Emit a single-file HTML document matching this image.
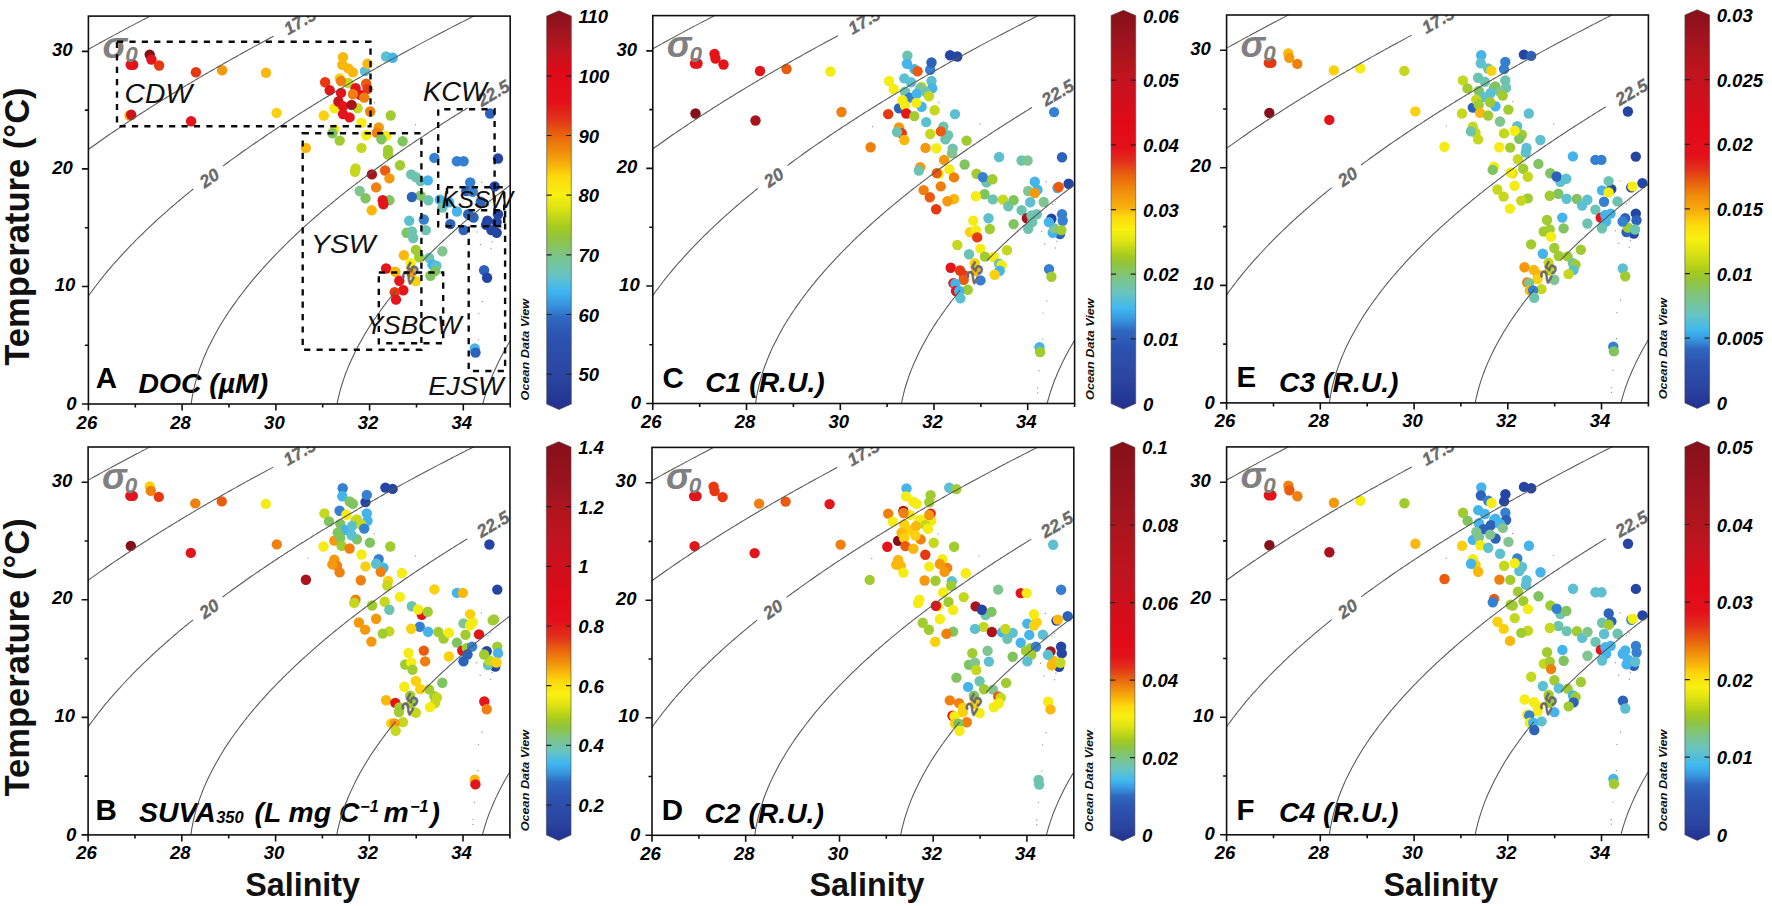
<!DOCTYPE html>
<html><head><meta charset="utf-8"><title>T-S diagrams</title>
<style>
html,body{margin:0;padding:0;background:#fff;}
svg{display:block;font-family:"Liberation Sans",sans-serif;}
.tk{font-weight:bold;font-style:italic;font-size:18.5px;fill:#000;}
.ax{stroke:#111;stroke-width:1.6;fill:none;}
.iso{stroke:#555;stroke-width:1.05;fill:none;}
.il{font-weight:bold;font-style:italic;font-size:17.5px;fill:#6a6a6a;stroke:#6a6a6a;stroke-width:0.35;}
.box{stroke:#0a0a0a;stroke-width:2.4;fill:none;stroke-dasharray:6.2 6.2;}
.wm{font-style:italic;font-size:27px;fill:#111;}
.ttl{font-weight:bold;font-style:italic;font-size:28.3px;fill:#000;}
.let{font-weight:bold;font-size:29.5px;fill:#000;}
.odv{font-weight:bold;font-style:italic;font-size:11.3px;fill:#111;}
.axl{font-weight:bold;fill:#111;}
</style></head><body>
<svg width="1772" height="906" viewBox="0 0 1772 906">
<defs>
<linearGradient id="cmA" x1="0" y1="1" x2="0" y2="0">
<stop offset="0" stop-color="#22308e"/>
<stop offset="0.077" stop-color="#2a44a0"/>
<stop offset="0.185" stop-color="#2c54b0"/>
<stop offset="0.23" stop-color="#2f68c0"/>
<stop offset="0.265" stop-color="#3898e0"/>
<stop offset="0.3" stop-color="#40b8f0"/>
<stop offset="0.338" stop-color="#68c4c0"/>
<stop offset="0.385" stop-color="#7cc488"/>
<stop offset="0.43" stop-color="#90c440"/>
<stop offset="0.4615" stop-color="#a8cc1c"/>
<stop offset="0.508" stop-color="#e0e412"/>
<stop offset="0.54" stop-color="#f8f010"/>
<stop offset="0.585" stop-color="#fdd80c"/>
<stop offset="0.615" stop-color="#f8b00c"/>
<stop offset="0.65" stop-color="#f08a0c"/>
<stop offset="0.692" stop-color="#e8600f"/>
<stop offset="0.73" stop-color="#e3301a"/>
<stop offset="0.77" stop-color="#e3101a"/>
<stop offset="0.846" stop-color="#e10a17"/>
<stop offset="0.9" stop-color="#c01420"/>
<stop offset="0.923" stop-color="#b0151c"/>
<stop offset="0.95" stop-color="#a01420"/>
<stop offset="1" stop-color="#861018"/>
</linearGradient>
<linearGradient id="cmC" x1="0" y1="1" x2="0" y2="0">
<stop offset="0" stop-color="#22308e"/>
<stop offset="0.07" stop-color="#2a44a0"/>
<stop offset="0.16" stop-color="#2c54b0"/>
<stop offset="0.196" stop-color="#2f68c0"/>
<stop offset="0.226" stop-color="#3898e0"/>
<stop offset="0.2526" stop-color="#40b8f0"/>
<stop offset="0.291" stop-color="#68c4c0"/>
<stop offset="0.327" stop-color="#7cc488"/>
<stop offset="0.363" stop-color="#90c440"/>
<stop offset="0.387" stop-color="#a8cc1c"/>
<stop offset="0.42" stop-color="#e0e412"/>
<stop offset="0.45" stop-color="#f8f010"/>
<stop offset="0.483" stop-color="#fdd80c"/>
<stop offset="0.506" stop-color="#f8b00c"/>
<stop offset="0.55" stop-color="#f08a0c"/>
<stop offset="0.589" stop-color="#e8600f"/>
<stop offset="0.62" stop-color="#e3301a"/>
<stop offset="0.653" stop-color="#e3101a"/>
<stop offset="0.718" stop-color="#e10a17"/>
<stop offset="0.835" stop-color="#c01420"/>
<stop offset="0.875" stop-color="#b0151c"/>
<stop offset="0.917" stop-color="#a01420"/>
<stop offset="1" stop-color="#861018"/>
</linearGradient>
<linearGradient id="cmE" x1="0" y1="1" x2="0" y2="0">
<stop offset="0" stop-color="#22308e"/>
<stop offset="0.051" stop-color="#2a44a0"/>
<stop offset="0.117" stop-color="#2c54b0"/>
<stop offset="0.15" stop-color="#2f68c0"/>
<stop offset="0.1735" stop-color="#3898e0"/>
<stop offset="0.1975" stop-color="#40b8f0"/>
<stop offset="0.236" stop-color="#68c4c0"/>
<stop offset="0.278" stop-color="#7cc488"/>
<stop offset="0.317" stop-color="#90c440"/>
<stop offset="0.344" stop-color="#a8cc1c"/>
<stop offset="0.395" stop-color="#e0e412"/>
<stop offset="0.4274" stop-color="#f8f010"/>
<stop offset="0.463" stop-color="#fdd80c"/>
<stop offset="0.493" stop-color="#f8b00c"/>
<stop offset="0.535" stop-color="#f08a0c"/>
<stop offset="0.5677" stop-color="#e8600f"/>
<stop offset="0.6" stop-color="#e3301a"/>
<stop offset="0.633" stop-color="#e3101a"/>
<stop offset="0.7115" stop-color="#e10a17"/>
<stop offset="0.84" stop-color="#c01420"/>
<stop offset="0.888" stop-color="#b0151c"/>
<stop offset="0.93" stop-color="#a01420"/>
<stop offset="1" stop-color="#861018"/>
</linearGradient>
<linearGradient id="cmB" x1="0" y1="1" x2="0" y2="0">
<stop offset="0" stop-color="#22308e"/>
<stop offset="0.045" stop-color="#2a44a0"/>
<stop offset="0.111" stop-color="#2c54b0"/>
<stop offset="0.147" stop-color="#2f68c0"/>
<stop offset="0.17" stop-color="#3898e0"/>
<stop offset="0.194" stop-color="#40b8f0"/>
<stop offset="0.224" stop-color="#68c4c0"/>
<stop offset="0.254" stop-color="#7cc488"/>
<stop offset="0.284" stop-color="#90c440"/>
<stop offset="0.305" stop-color="#a8cc1c"/>
<stop offset="0.341" stop-color="#e0e412"/>
<stop offset="0.365" stop-color="#f8f010"/>
<stop offset="0.4" stop-color="#fdd80c"/>
<stop offset="0.425" stop-color="#f8b00c"/>
<stop offset="0.451" stop-color="#f08a0c"/>
<stop offset="0.48" stop-color="#e8600f"/>
<stop offset="0.51" stop-color="#e3301a"/>
<stop offset="0.55" stop-color="#e3101a"/>
<stop offset="0.598" stop-color="#e10a17"/>
<stop offset="0.7595" stop-color="#c01420"/>
<stop offset="0.831" stop-color="#b0151c"/>
<stop offset="0.87" stop-color="#a01420"/>
<stop offset="1" stop-color="#861018"/>
</linearGradient>
<linearGradient id="cmD" x1="0" y1="1" x2="0" y2="0">
<stop offset="0" stop-color="#22308e"/>
<stop offset="0.034" stop-color="#2a44a0"/>
<stop offset="0.082" stop-color="#2c54b0"/>
<stop offset="0.112" stop-color="#2f68c0"/>
<stop offset="0.133" stop-color="#3898e0"/>
<stop offset="0.151" stop-color="#40b8f0"/>
<stop offset="0.18" stop-color="#68c4c0"/>
<stop offset="0.207" stop-color="#7cc488"/>
<stop offset="0.237" stop-color="#90c440"/>
<stop offset="0.255" stop-color="#a8cc1c"/>
<stop offset="0.288" stop-color="#e0e412"/>
<stop offset="0.312" stop-color="#f8f010"/>
<stop offset="0.339" stop-color="#fdd80c"/>
<stop offset="0.36" stop-color="#f8b00c"/>
<stop offset="0.384" stop-color="#f08a0c"/>
<stop offset="0.408" stop-color="#e8600f"/>
<stop offset="0.434" stop-color="#e3301a"/>
<stop offset="0.464" stop-color="#e3101a"/>
<stop offset="0.508" stop-color="#e10a17"/>
<stop offset="0.659" stop-color="#c01420"/>
<stop offset="0.76" stop-color="#b0151c"/>
<stop offset="0.832" stop-color="#a01420"/>
<stop offset="1" stop-color="#861018"/>
</linearGradient>
<linearGradient id="cmF" x1="0" y1="1" x2="0" y2="0">
<stop offset="0" stop-color="#22308e"/>
<stop offset="0.039" stop-color="#2a44a0"/>
<stop offset="0.104" stop-color="#2c54b0"/>
<stop offset="0.14" stop-color="#2f68c0"/>
<stop offset="0.164" stop-color="#3898e0"/>
<stop offset="0.188" stop-color="#40b8f0"/>
<stop offset="0.23" stop-color="#68c4c0"/>
<stop offset="0.263" stop-color="#7cc488"/>
<stop offset="0.296" stop-color="#90c440"/>
<stop offset="0.32" stop-color="#a8cc1c"/>
<stop offset="0.359" stop-color="#e0e412"/>
<stop offset="0.385" stop-color="#f8f010"/>
<stop offset="0.418" stop-color="#fdd80c"/>
<stop offset="0.445" stop-color="#f8b00c"/>
<stop offset="0.472" stop-color="#f08a0c"/>
<stop offset="0.502" stop-color="#e8600f"/>
<stop offset="0.538" stop-color="#e3301a"/>
<stop offset="0.574" stop-color="#e3101a"/>
<stop offset="0.6455" stop-color="#e10a17"/>
<stop offset="0.741" stop-color="#c01420"/>
<stop offset="0.8" stop-color="#b0151c"/>
<stop offset="0.879" stop-color="#a01420"/>
<stop offset="1" stop-color="#861018"/>
</linearGradient>
</defs>
<rect width="1772" height="906" fill="#fff"/>
<g id="panelA">
<clipPath id="clipA"><rect x="88.4" y="16.1" width="421.8" height="387.9"/></clipPath>
<text class="let" x="95.8" y="388.4">A</text>
<text class="ttl" x="138.6" y="392.8">DOC (µM)</text>
<g clip-path="url(#clipA)">
<circle cx="133.2" cy="64.7" r="5.2" fill="#e3141a"/>
<circle cx="130.7" cy="64.7" r="5.2" fill="#e3141a"/>
<circle cx="149.7" cy="54.6" r="5.2" fill="#861018"/>
<circle cx="151.5" cy="59.6" r="5.2" fill="#e3141a"/>
<circle cx="159.1" cy="65.5" r="5.2" fill="#e8380f"/>
<circle cx="195.9" cy="72.3" r="5.2" fill="#e8380f"/>
<circle cx="222.1" cy="70.3" r="5.2" fill="#f5980c"/>
<circle cx="266.0" cy="72.8" r="5.2" fill="#fbb80c"/>
<circle cx="276.6" cy="112.9" r="5.2" fill="#fbd00c"/>
<circle cx="129.4" cy="115.5" r="5.2" fill="#fbb80c"/>
<circle cx="131.2" cy="114.7" r="5.2" fill="#cc141c"/>
<circle cx="191.1" cy="121.3" r="5.2" fill="#e3141a"/>
<circle cx="364.9" cy="71.1" r="5.2" fill="#5cc0d0"/>
<circle cx="343.0" cy="57.2" r="5.2" fill="#fbb80c"/>
<circle cx="342.3" cy="64.7" r="5.2" fill="#fbb80c"/>
<circle cx="348.3" cy="68.4" r="5.2" fill="#fbb80c"/>
<circle cx="352.9" cy="72.4" r="5.2" fill="#fbb80c"/>
<circle cx="367.5" cy="63.8" r="5.2" fill="#fbb80c"/>
<circle cx="386.1" cy="56.5" r="5.2" fill="#5cc0d0"/>
<circle cx="392.7" cy="57.8" r="5.2" fill="#45b4ea"/>
<circle cx="339.7" cy="78.4" r="5.2" fill="#fbd00c"/>
<circle cx="348.3" cy="83.0" r="5.2" fill="#c5d81e"/>
<circle cx="325.1" cy="82.3" r="5.2" fill="#e8380f"/>
<circle cx="329.7" cy="90.3" r="5.2" fill="#e3141a"/>
<circle cx="341.0" cy="81.0" r="5.2" fill="#f0800e"/>
<circle cx="341.0" cy="92.9" r="5.2" fill="#e3141a"/>
<circle cx="355.6" cy="88.3" r="5.2" fill="#e3141a"/>
<circle cx="366.2" cy="83.7" r="5.2" fill="#ec5a10"/>
<circle cx="367.5" cy="89.0" r="5.2" fill="#e8380f"/>
<circle cx="360.2" cy="94.9" r="5.2" fill="#e3141a"/>
<circle cx="352.9" cy="94.3" r="5.2" fill="#f0800e"/>
<circle cx="364.2" cy="97.6" r="5.2" fill="#f0800e"/>
<circle cx="334.4" cy="108.2" r="5.2" fill="#f5ec14"/>
<circle cx="357.6" cy="108.2" r="5.2" fill="#c5d81e"/>
<circle cx="338.4" cy="101.5" r="5.2" fill="#cc141c"/>
<circle cx="343.0" cy="106.2" r="5.2" fill="#e3141a"/>
<circle cx="351.6" cy="104.9" r="5.2" fill="#a8131c"/>
<circle cx="343.0" cy="114.1" r="5.2" fill="#e3141a"/>
<circle cx="349.6" cy="117.4" r="5.2" fill="#e3141a"/>
<circle cx="323.8" cy="115.5" r="5.2" fill="#fbd00c"/>
<circle cx="370.2" cy="111.5" r="5.2" fill="#f0800e"/>
<circle cx="390.7" cy="115.5" r="5.2" fill="#a0cc30"/>
<circle cx="361.5" cy="122.7" r="5.2" fill="#f5ec14"/>
<circle cx="334.4" cy="129.4" r="5.2" fill="#f5ec14"/>
<circle cx="378.8" cy="127.4" r="5.2" fill="#f5980c"/>
<circle cx="376.8" cy="132.7" r="5.2" fill="#f0800e"/>
<circle cx="332.4" cy="133.3" r="5.2" fill="#80c460"/>
<circle cx="339.7" cy="140.6" r="5.2" fill="#a0cc30"/>
<circle cx="386.1" cy="136.0" r="5.2" fill="#f5ec14"/>
<circle cx="366.2" cy="135.3" r="5.2" fill="#f5ec14"/>
<circle cx="381.4" cy="139.3" r="5.2" fill="#80c460"/>
<circle cx="402.6" cy="141.3" r="5.2" fill="#80c460"/>
<circle cx="490.1" cy="113.5" r="5.2" fill="#2d62bb"/>
<circle cx="305.9" cy="147.9" r="5.2" fill="#fbb80c"/>
<circle cx="361.5" cy="147.9" r="5.2" fill="#c5d81e"/>
<circle cx="388.0" cy="149.9" r="5.2" fill="#a0cc30"/>
<circle cx="388.0" cy="154.6" r="5.2" fill="#a0cc30"/>
<circle cx="355.6" cy="168.5" r="5.2" fill="#c5d81e"/>
<circle cx="354.9" cy="171.8" r="5.2" fill="#c5d81e"/>
<circle cx="400.0" cy="165.2" r="5.2" fill="#a0cc30"/>
<circle cx="371.9" cy="174.4" r="5.2" fill="#a8131c"/>
<circle cx="385.1" cy="170.5" r="5.2" fill="#ec5a10"/>
<circle cx="389.4" cy="178.4" r="5.2" fill="#f5980c"/>
<circle cx="376.1" cy="187.4" r="5.2" fill="#f0800e"/>
<circle cx="359.6" cy="191.0" r="5.2" fill="#80c490"/>
<circle cx="365.5" cy="198.3" r="5.2" fill="#80c460"/>
<circle cx="389.4" cy="200.3" r="5.2" fill="#80c460"/>
<circle cx="382.7" cy="200.3" r="5.2" fill="#e3141a"/>
<circle cx="383.4" cy="204.3" r="5.2" fill="#e3141a"/>
<circle cx="371.7" cy="210.2" r="5.2" fill="#fbb80c"/>
<circle cx="411.2" cy="174.4" r="5.2" fill="#6cc3b0"/>
<circle cx="415.9" cy="177.1" r="5.2" fill="#6cc3b0"/>
<circle cx="420.5" cy="181.1" r="5.2" fill="#6cc3b0"/>
<circle cx="427.8" cy="180.4" r="5.2" fill="#45b4ea"/>
<circle cx="434.4" cy="157.9" r="5.2" fill="#3580d0"/>
<circle cx="456.9" cy="161.2" r="5.2" fill="#3580d0"/>
<circle cx="463.6" cy="161.2" r="5.2" fill="#3580d0"/>
<circle cx="498.0" cy="158.5" r="5.2" fill="#2545a5"/>
<circle cx="470.2" cy="182.4" r="5.2" fill="#3580d0"/>
<circle cx="494.7" cy="186.4" r="5.2" fill="#2545a5"/>
<circle cx="466.2" cy="191.0" r="5.2" fill="#2d62bb"/>
<circle cx="472.8" cy="191.7" r="5.2" fill="#3580d0"/>
<circle cx="420.5" cy="195.6" r="5.2" fill="#80c460"/>
<circle cx="411.9" cy="197.0" r="5.2" fill="#2d62bb"/>
<circle cx="428.4" cy="200.3" r="5.2" fill="#6cc3b0"/>
<circle cx="439.7" cy="199.6" r="5.2" fill="#45b4ea"/>
<circle cx="442.4" cy="207.6" r="5.2" fill="#6cc3b0"/>
<circle cx="449.0" cy="202.3" r="5.2" fill="#45b4ea"/>
<circle cx="456.9" cy="211.5" r="5.2" fill="#45b4ea"/>
<circle cx="480.8" cy="201.6" r="5.2" fill="#2d62bb"/>
<circle cx="468.2" cy="214.2" r="5.2" fill="#2d62bb"/>
<circle cx="473.5" cy="217.5" r="5.2" fill="#2d62bb"/>
<circle cx="450.3" cy="224.1" r="5.2" fill="#2d62bb"/>
<circle cx="463.6" cy="230.1" r="5.2" fill="#2d62bb"/>
<circle cx="423.8" cy="219.5" r="5.2" fill="#3580d0"/>
<circle cx="409.2" cy="220.8" r="5.2" fill="#5cc0d0"/>
<circle cx="425.8" cy="230.1" r="5.2" fill="#6cc3b0"/>
<circle cx="406.6" cy="232.7" r="5.2" fill="#80c460"/>
<circle cx="411.9" cy="231.4" r="5.2" fill="#6cc3b0"/>
<circle cx="413.2" cy="238.0" r="5.2" fill="#6cc3b0"/>
<circle cx="498.0" cy="214.2" r="5.2" fill="#2545a5"/>
<circle cx="487.4" cy="220.8" r="5.2" fill="#2545a5"/>
<circle cx="496.7" cy="222.1" r="5.2" fill="#2545a5"/>
<circle cx="486.1" cy="224.8" r="5.2" fill="#2545a5"/>
<circle cx="491.4" cy="230.1" r="5.2" fill="#2545a5"/>
<circle cx="496.7" cy="232.7" r="5.2" fill="#2545a5"/>
<circle cx="415.9" cy="249.9" r="5.2" fill="#a0cc30"/>
<circle cx="419.2" cy="257.2" r="5.2" fill="#a0cc30"/>
<circle cx="442.4" cy="251.3" r="5.2" fill="#80c490"/>
<circle cx="403.9" cy="255.2" r="5.2" fill="#fbb80c"/>
<circle cx="429.1" cy="257.9" r="5.2" fill="#6cc3b0"/>
<circle cx="410.6" cy="263.2" r="5.2" fill="#f5ec14"/>
<circle cx="432.4" cy="264.5" r="5.2" fill="#45b4ea"/>
<circle cx="436.4" cy="265.8" r="5.2" fill="#5cc0d0"/>
<circle cx="435.1" cy="271.1" r="5.2" fill="#80c460"/>
<circle cx="430.4" cy="275.8" r="5.2" fill="#80c460"/>
<circle cx="386.1" cy="268.5" r="5.2" fill="#e3141a"/>
<circle cx="395.3" cy="271.8" r="5.2" fill="#fbb80c"/>
<circle cx="411.2" cy="272.5" r="5.2" fill="#f5980c"/>
<circle cx="415.9" cy="281.1" r="5.2" fill="#fbd00c"/>
<circle cx="399.3" cy="280.8" r="5.2" fill="#e3141a"/>
<circle cx="403.3" cy="290.3" r="5.2" fill="#e3141a"/>
<circle cx="394.7" cy="292.3" r="5.2" fill="#e8380f"/>
<circle cx="396.0" cy="299.6" r="5.2" fill="#e3141a"/>
<circle cx="484.1" cy="270.2" r="5.2" fill="#2d62bb"/>
<circle cx="487.1" cy="277.8" r="5.2" fill="#2545a5"/>
<circle cx="474.8" cy="348.4" r="5.2" fill="#45b4ea"/>
<circle cx="475.5" cy="352.6" r="5.2" fill="#2d62bb"/>
<circle cx="308.1" cy="127.2" r="0.7" fill="#9a9a9a"/>
<circle cx="374.4" cy="102.7" r="0.7" fill="#9a9a9a"/>
<circle cx="415.5" cy="124.8" r="0.7" fill="#9a9a9a"/>
<circle cx="481.7" cy="182.2" r="0.7" fill="#9a9a9a"/>
<circle cx="491.0" cy="202.1" r="0.7" fill="#9a9a9a"/>
<circle cx="488.3" cy="204.8" r="0.7" fill="#9a9a9a"/>
<circle cx="477.1" cy="231.9" r="0.7" fill="#9a9a9a"/>
<circle cx="480.4" cy="244.5" r="0.7" fill="#9a9a9a"/>
<circle cx="492.3" cy="241.9" r="0.7" fill="#9a9a9a"/>
<circle cx="491.0" cy="248.5" r="0.7" fill="#9a9a9a"/>
<circle cx="482.4" cy="301.4" r="0.7" fill="#9a9a9a"/>
<circle cx="478.8" cy="313.6" r="0.7" fill="#9a9a9a"/>
<circle cx="478.4" cy="339.6" r="0.7" fill="#9a9a9a"/>
<circle cx="474.7" cy="371.3" r="0.7" fill="#9a9a9a"/>
<circle cx="473.2" cy="388.7" r="0.7" fill="#9a9a9a"/>
<circle cx="473.2" cy="393.5" r="0.7" fill="#9a9a9a"/>
</g>
<g clip-path="url(#clipA)">
<path class="iso" d="M83.7 51.9 L85.1 51.1 L86.5 50.3 L87.9 49.5 L89.3 48.7 L90.7 48.0 L92.1 47.2 L93.6 46.4 L95.0 45.6 L96.4 44.8 L97.8 44.1 L99.2 43.3 L100.6 42.5 L102.0 41.7 L103.4 41.0 L104.8 40.2 L106.2 39.4 L107.6 38.7 L109.0 37.9 L110.4 37.2 L111.8 36.4 L113.2 35.6 L114.6 34.9 L116.1 34.1 L117.5 33.4 L118.9 32.6 L120.3 31.8 L121.7 31.1 L123.1 30.3 L124.5 29.6 L125.9 28.8 L127.3 28.1 L128.7 27.3 L130.1 26.6 L131.5 25.9 L132.9 25.1 L134.3 24.4 L135.7 23.6 L137.1 22.9 L138.5 22.2 L140.0 21.4 L141.4 20.7 L142.8 19.9 L144.2 19.2 L145.6 18.5 L147.0 17.7 L148.4 17.0 L149.8 16.3 L151.2 15.6 L152.6 14.8 L154.0 14.1 L155.4 13.4 L156.8 12.7 L158.2 11.9 L159.6 11.2 L161.0 10.5 L162.4 9.8 L163.9 9.1 L165.3 8.3 L166.7 7.6 L168.1 6.9 L169.5 6.2 L170.9 5.5 L172.3 4.8 L173.7 4.1 L175.1 3.3 L176.5 2.6 L177.9 1.9 L179.3 1.2 L180.7 0.5 L182.1 -0.2 L183.5 -0.9"/>
<path class="iso" d="M83.7 152.7 L85.1 151.7 L86.5 150.7 L87.9 149.7 L89.3 148.7 L90.7 147.7 L92.1 146.7 L93.6 145.7 L95.0 144.7 L96.4 143.7 L97.8 142.7 L99.2 141.7 L100.6 140.7 L102.0 139.7 L103.4 138.7 L104.8 137.8 L106.2 136.8 L107.6 135.8 L109.0 134.8 L110.4 133.9 L111.8 132.9 L113.2 132.0 L114.6 131.0 L116.1 130.0 L117.5 129.1 L118.9 128.1 L120.3 127.2 L121.7 126.3 L123.1 125.3 L124.5 124.4 L125.9 123.4 L127.3 122.5 L128.7 121.6 L130.1 120.6 L131.5 119.7 L132.9 118.8 L134.3 117.9 L135.7 117.0 L137.1 116.0 L138.5 115.1 L140.0 114.2 L141.4 113.3 L142.8 112.4 L144.2 111.5 L145.6 110.6 L147.0 109.7 L148.4 108.8 L149.8 107.9 L151.2 107.0 L152.6 106.1 L154.0 105.2 L155.4 104.4 L156.8 103.5 L158.2 102.6 L159.6 101.7 L161.0 100.8 L162.4 100.0 L163.9 99.1 L165.3 98.2 L166.7 97.3 L168.1 96.5 L169.5 95.6 L170.9 94.8 L172.3 93.9 L173.7 93.0 L175.1 92.2 L176.5 91.3 L177.9 90.5 L179.3 89.6 L180.7 88.8 L182.1 87.9 L183.5 87.1 L184.9 86.2 L186.4 85.4 L187.8 84.5 L189.2 83.7 L190.6 82.9 L192.0 82.0 L193.4 81.2 L194.8 80.4 L196.2 79.5 L197.6 78.7 L199.0 77.9 L200.4 77.1 L201.8 76.2 L203.2 75.4 L204.6 74.6 L206.0 73.8 L207.4 73.0 L208.8 72.1 L210.3 71.3 L211.7 70.5 L213.1 69.7 L214.5 68.9 L215.9 68.1 L217.3 67.3 L218.7 66.5 L220.1 65.7 L221.5 64.9 L222.9 64.1 L224.3 63.3 L225.7 62.5 L227.1 61.7 L228.5 60.9 L229.9 60.1 L231.3 59.3 L232.7 58.5 L234.2 57.7 L235.6 57.0 L237.0 56.2 L238.4 55.4 L239.8 54.6 L241.2 53.8 L242.6 53.0 L244.0 52.3 L245.4 51.5 L246.8 50.7 L248.2 49.9 L249.6 49.2 L251.0 48.4 L252.4 47.6 L253.8 46.9 L255.2 46.1 L256.7 45.3 L258.1 44.6 L259.5 43.8 L260.9 43.0 L262.3 42.3 L263.7 41.5 L265.1 40.8 L266.5 40.0 L267.9 39.2 L269.3 38.5 L270.7 37.7 L272.1 37.0 L273.5 36.2"/>
<path class="iso" d="M83.7 302.8 L85.1 300.7 L86.5 298.7 L87.9 296.7 L89.3 294.7 L90.7 292.7 L92.1 290.8 L93.6 288.9 L95.0 287.0 L96.4 285.2 L97.8 283.3 L99.2 281.5 L100.6 279.7 L102.0 278.0 L103.4 276.2 L104.8 274.5 L106.2 272.8 L107.6 271.1 L109.0 269.4 L110.4 267.8 L111.8 266.2 L113.2 264.5 L114.6 262.9 L116.1 261.3 L117.5 259.8 L118.9 258.2 L120.3 256.7 L121.7 255.1 L123.1 253.6 L124.5 252.1 L125.9 250.6 L127.3 249.1 L128.7 247.6 L130.1 246.2 L131.5 244.7 L132.9 243.3 L134.3 241.8 L135.7 240.4 L137.1 239.0 L138.5 237.6 L140.0 236.2 L141.4 234.8 L142.8 233.5 L144.2 232.1 L145.6 230.7 L147.0 229.4 L148.4 228.1 L149.8 226.7 L151.2 225.4 L152.6 224.1 L154.0 222.8 L155.4 221.5 L156.8 220.2 L158.2 218.9 L159.6 217.6 L161.0 216.4 L162.4 215.1 L163.9 213.9 L165.3 212.6 L166.7 211.4 L168.1 210.1 L169.5 208.9 L170.9 207.7 L172.3 206.5 L173.7 205.3 L175.1 204.1 L176.5 202.9 L177.9 201.7 L179.3 200.5 L180.7 199.3 L182.1 198.1 L183.5 197.0 L184.9 195.8 L186.4 194.6 L187.8 193.5 L189.2 192.3 L190.6 191.2 L192.0 190.0 L193.4 188.9"/>
<path class="iso" d="M222.9 166.1 L224.3 165.1 L225.7 164.0 L227.1 163.0 L228.5 162.0 L229.9 160.9 L231.3 159.9 L232.7 158.9 L234.2 157.9 L235.6 156.9 L237.0 155.8 L238.4 154.8 L239.8 153.8 L241.2 152.8 L242.6 151.8 L244.0 150.8 L245.4 149.8 L246.8 148.9 L248.2 147.9 L249.6 146.9 L251.0 145.9 L252.4 144.9 L253.8 144.0 L255.2 143.0 L256.7 142.0 L258.1 141.1 L259.5 140.1 L260.9 139.1 L262.3 138.2 L263.7 137.2 L265.1 136.3 L266.5 135.3 L267.9 134.4 L269.3 133.4 L270.7 132.5 L272.1 131.6 L273.5 130.6 L274.9 129.7 L276.3 128.8 L277.7 127.8 L279.1 126.9 L280.6 126.0 L282.0 125.1 L283.4 124.2 L284.8 123.2 L286.2 122.3 L287.6 121.4 L289.0 120.5 L290.4 119.6 L291.8 118.7 L293.2 117.8 L294.6 116.9 L296.0 116.0 L297.4 115.1 L298.8 114.2 L300.2 113.3 L301.6 112.4 L303.0 111.6 L304.5 110.7 L305.9 109.8 L307.3 108.9 L308.7 108.0 L310.1 107.2 L311.5 106.3 L312.9 105.4 L314.3 104.5 L315.7 103.7 L317.1 102.8 L318.5 101.9 L319.9 101.1 L321.3 100.2 L322.7 99.4 L324.1 98.5 L325.5 97.7 L327.0 96.8 L328.4 96.0 L329.8 95.1 L331.2 94.3 L332.6 93.4 L334.0 92.6 L335.4 91.7 L336.8 90.9 L338.2 90.1 L339.6 89.2 L341.0 88.4 L342.4 87.6 L343.8 86.7 L345.2 85.9 L346.6 85.1 L348.0 84.2 L349.4 83.4 L350.9 82.6 L352.3 81.8 L353.7 81.0 L355.1 80.1 L356.5 79.3 L357.9 78.5 L359.3 77.7 L360.7 76.9 L362.1 76.1 L363.5 75.3 L364.9 74.5 L366.3 73.7 L367.7 72.9 L369.1 72.1 L370.5 71.3 L371.9 70.5 L373.3 69.7 L374.8 68.9 L376.2 68.1 L377.6 67.3 L379.0 66.5 L380.4 65.7 L381.8 64.9 L383.2 64.1 L384.6 63.3 L386.0 62.5 L387.4 61.8 L388.8 61.0 L390.2 60.2 L391.6 59.4 L393.0 58.7 L394.4 57.9 L395.8 57.1 L397.3 56.3 L398.7 55.6 L400.1 54.8 L401.5 54.0 L402.9 53.2 L404.3 52.5 L405.7 51.7 L407.1 51.0 L408.5 50.2 L409.9 49.4 L411.3 48.7 L412.7 47.9 L414.1 47.2 L415.5 46.4 L416.9 45.6 L418.3 44.9 L419.7 44.1 L421.2 43.4 L422.6 42.6 L424.0 41.9 L425.4 41.1 L426.8 40.4 L428.2 39.6 L429.6 38.9 L431.0 38.2 L432.4 37.4 L433.8 36.7 L435.2 35.9 L436.6 35.2 L438.0 34.5 L439.4 33.7 L440.8 33.0 L442.2 32.3 L443.6 31.5 L445.1 30.8 L446.5 30.1 L447.9 29.3 L449.3 28.6 L450.7 27.9 L452.1 27.1 L453.5 26.4 L454.9 25.7 L456.3 25.0 L457.7 24.3 L459.1 23.5 L460.5 22.8 L461.9 22.1 L463.3 21.4 L464.7 20.7 L466.1 19.9 L467.6 19.2 L469.0 18.5 L470.4 17.8 L471.8 17.1 L473.2 16.4 L474.6 15.7 L476.0 15.0 L477.4 14.3 L478.8 13.5 L480.2 12.8 L481.6 12.1 L483.0 11.4 L484.4 10.7 L485.8 10.0 L487.2 9.3 L488.6 8.6 L490.0 7.9 L491.5 7.2 L492.9 6.5 L494.3 5.8 L495.7 5.1 L497.1 4.4 L498.5 3.8 L499.9 3.1 L501.3 2.4 L502.7 1.7 L504.1 1.0 L505.5 0.3 L506.9 -0.4 L508.3 -1.1"/>
<path class="iso" d="M190.6 408.1 L192.0 398.2 L193.4 391.0 L194.8 385.0 L196.2 379.8 L197.6 375.1 L199.0 370.7 L200.4 366.7 L201.8 363.0 L203.2 359.4 L204.6 356.0 L206.0 352.7 L207.4 349.6 L208.8 346.6 L210.3 343.7 L211.7 340.9 L213.1 338.2 L214.5 335.5 L215.9 333.0 L217.3 330.5 L218.7 328.0 L220.1 325.6 L221.5 323.3 L222.9 321.0 L224.3 318.7 L225.7 316.5 L227.1 314.4 L228.5 312.2 L229.9 310.2 L231.3 308.1 L232.7 306.1 L234.2 304.1 L235.6 302.1 L237.0 300.2 L238.4 298.3 L239.8 296.4 L241.2 294.5 L242.6 292.7 L244.0 290.9 L245.4 289.1 L246.8 287.3 L248.2 285.6 L249.6 283.8 L251.0 282.1 L252.4 280.4 L253.8 278.7 L255.2 277.1 L256.7 275.4 L258.1 273.8 L259.5 272.2 L260.9 270.6 L262.3 269.0 L263.7 267.4 L265.1 265.9 L266.5 264.3 L267.9 262.8 L269.3 261.3 L270.7 259.8 L272.1 258.3 L273.5 256.8 L274.9 255.4 L276.3 253.9 L277.7 252.5 L279.1 251.0 L280.6 249.6 L282.0 248.2 L283.4 246.8 L284.8 245.4 L286.2 244.0 L287.6 242.6 L289.0 241.2 L290.4 239.9 L291.8 238.5 L293.2 237.2 L294.6 235.8 L296.0 234.5 L297.4 233.2 L298.8 231.9 L300.2 230.6 L301.6 229.3 L303.0 228.0 L304.5 226.7 L305.9 225.5 L307.3 224.2 L308.7 222.9 L310.1 221.7 L311.5 220.4 L312.9 219.2 L314.3 218.0 L315.7 216.7 L317.1 215.5 L318.5 214.3 L319.9 213.1 L321.3 211.9 L322.7 210.7 L324.1 209.5 L325.5 208.3 L327.0 207.1 L328.4 205.9 L329.8 204.8 L331.2 203.6 L332.6 202.5 L334.0 201.3 L335.4 200.1 L336.8 199.0 L338.2 197.9 L339.6 196.7 L341.0 195.6 L342.4 194.5 L343.8 193.4 L345.2 192.2 L346.6 191.1 L348.0 190.0 L349.4 188.9 L350.9 187.8 L352.3 186.7 L353.7 185.6 L355.1 184.6 L356.5 183.5 L357.9 182.4 L359.3 181.3 L360.7 180.3 L362.1 179.2 L363.5 178.1 L364.9 177.1 L366.3 176.0 L367.7 175.0 L369.1 173.9 L370.5 172.9 L371.9 171.8 L373.3 170.8 L374.8 169.8 L376.2 168.7 L377.6 167.7 L379.0 166.7 L380.4 165.7 L381.8 164.7 L383.2 163.7 L384.6 162.6 L386.0 161.6 L387.4 160.6 L388.8 159.6 L390.2 158.6 L391.6 157.7 L393.0 156.7 L394.4 155.7 L395.8 154.7 L397.3 153.7 L398.7 152.7 L400.1 151.8 L401.5 150.8 L402.9 149.8 L404.3 148.9 L405.7 147.9 L407.1 146.9 L408.5 146.0 L409.9 145.0 L411.3 144.1 L412.7 143.1 L414.1 142.2 L415.5 141.2 L416.9 140.3 L418.3 139.4 L419.7 138.4 L421.2 137.5 L422.6 136.6 L424.0 135.6 L425.4 134.7 L426.8 133.8 L428.2 132.9 L429.6 131.9 L431.0 131.0 L432.4 130.1 L433.8 129.2 L435.2 128.3 L436.6 127.4 L438.0 126.5 L439.4 125.6 L440.8 124.7 L442.2 123.8 L443.6 122.9 L445.1 122.0 L446.5 121.1 L447.9 120.2 L449.3 119.3 L450.7 118.4 L452.1 117.5 L453.5 116.7 L454.9 115.8 L456.3 114.9 L457.7 114.0 L459.1 113.2 L460.5 112.3 L461.9 111.4 L463.3 110.6 L464.7 109.7 L466.1 108.8 L467.6 108.0"/>
<path class="iso" d="M335.4 413.6 L336.8 405.0 L338.2 398.3 L339.6 392.6 L341.0 387.5 L342.4 383.0 L343.8 378.8 L345.2 374.8 L346.6 371.1 L348.0 367.6 L349.4 364.2 L350.9 361.0 L352.3 358.0 L353.7 355.0 L355.1 352.1 L356.5 349.3 L357.9 346.6 L359.3 344.0 L360.7 341.4 L362.1 339.0 L363.5 336.5 L364.9 334.1 L366.3 331.8 L367.7 329.5 L369.1 327.3 L370.5 325.1 L371.9 322.9 L373.3 320.8 L374.8 318.7 L376.2 316.7 L377.6 314.6 L379.0 312.7 L380.4 310.7 L381.8 308.8 L383.2 306.9 L384.6 305.0 L386.0 303.1 L387.4 301.3 L388.8 299.5 L390.2 297.7 L391.6 295.9 L393.0 294.2 L394.4 292.4 L395.8 290.7"/>
<path class="iso" d="M422.6 261.1 L424.0 259.6 L425.4 258.2 L426.8 256.8 L428.2 255.4 L429.6 254.0 L431.0 252.6 L432.4 251.2 L433.8 249.8 L435.2 248.5 L436.6 247.1 L438.0 245.8 L439.4 244.4 L440.8 243.1 L442.2 241.8 L443.6 240.5 L445.1 239.2 L446.5 237.9 L447.9 236.6 L449.3 235.3 L450.7 234.0 L452.1 232.8 L453.5 231.5 L454.9 230.2 L456.3 229.0 L457.7 227.7 L459.1 226.5 L460.5 225.3 L461.9 224.1 L463.3 222.8 L464.7 221.6 L466.1 220.4 L467.6 219.2 L469.0 218.0 L470.4 216.8 L471.8 215.7 L473.2 214.5 L474.6 213.3 L476.0 212.1 L477.4 211.0 L478.8 209.8 L480.2 208.7 L481.6 207.5 L483.0 206.4 L484.4 205.2 L485.8 204.1 L487.2 203.0 L488.6 201.9 L490.0 200.7 L491.5 199.6 L492.9 198.5 L494.3 197.4 L495.7 196.3 L497.1 195.2 L498.5 194.1 L499.9 193.0 L501.3 192.0 L502.7 190.9 L504.1 189.8 L505.5 188.7 L506.9 187.7 L508.3 186.6 L509.7 185.5 L511.1 184.5 L512.5 183.4 L513.9 182.4 L515.4 181.3 L516.8 180.3"/>
<path class="iso" d="M480.2 415.8 L481.6 408.9 L483.0 403.0 L484.4 397.9 L485.8 393.3 L487.2 389.0 L488.6 385.0 L490.0 381.2 L491.5 377.7 L492.9 374.3 L494.3 371.1 L495.7 368.0 L497.1 365.0 L498.5 362.1 L499.9 359.3 L501.3 356.5 L502.7 353.9 L504.1 351.3 L505.5 348.8 L506.9 346.4 L508.3 344.0 L509.7 341.6 L511.1 339.3 L512.5 337.1 L513.9 334.9 L515.4 332.7 L516.8 330.6"/>
<text class="il" text-anchor="middle" transform="translate(299.8 21.5) rotate(-30)" y="6.2">17.5</text>
<text class="il" text-anchor="middle" transform="translate(209.3 177.8) rotate(-34)" y="6.2">20</text>
<text class="il" text-anchor="middle" transform="translate(493.3 93.1) rotate(-30)" y="6.2">22.5</text>
<text class="il" text-anchor="middle" transform="translate(409.9 273.2) rotate(-60)" y="6.2">25</text>
</g>
<text x="102.4" y="57.6" font-weight="bold" font-style="italic" font-size="37" fill="#808080">σ<tspan font-size="22.5" dy="4.5" dx="-1.8">0</tspan></text>
<rect class="ax" x="88.4" y="16.1" width="421.8" height="387.9"/>
<path class="ax" d="M88.4 404.0 v6.5 M135.3 404.0 v3.5 M182.1 404.0 v6.5 M229.0 404.0 v3.5 M275.9 404.0 v6.5 M322.7 404.0 v3.5 M369.6 404.0 v6.5 M416.5 404.0 v3.5 M463.3 404.0 v6.5 M510.2 404.0 v3.5 M88.4 404.0 h-6.5 M88.4 345.2 h-3.5 M88.4 286.5 h-6.5 M88.4 227.7 h-3.5 M88.4 168.9 h-6.5 M88.4 110.1 h-3.5 M88.4 51.4 h-6.5 "/>
<text class="tk" text-anchor="middle" x="86.9" y="428.5">26</text>
<text class="tk" text-anchor="middle" x="180.6" y="428.5">28</text>
<text class="tk" text-anchor="middle" x="274.4" y="428.5">30</text>
<text class="tk" text-anchor="middle" x="368.1" y="428.5">32</text>
<text class="tk" text-anchor="middle" x="461.8" y="428.5">34</text>
<text class="tk" text-anchor="end" x="76.6" y="409.6">0</text>
<text class="tk" text-anchor="end" x="75.3" y="291.1">10</text>
<text class="tk" text-anchor="end" x="72.9" y="173.5">20</text>
<text class="tk" text-anchor="end" x="72.6" y="56.0">30</text>
<rect class="box" x="117" y="41.7" width="253.5" height="84.5"/>
<rect class="box" x="302.7" y="133.2" width="118.69999999999999" height="216.60000000000002"/>
<path class="box" d="M494.6 226.3 V109.3 H438.2 V226.3 H447"/>
<rect class="box" x="447.0" y="187.2" width="57.19999999999999" height="39.10000000000002"/>
<rect class="box" x="468.7" y="210.2" width="36.400000000000034" height="160.8"/>
<rect class="box" x="378.8" y="272.5" width="64.39999999999998" height="70.80000000000001"/>
<text class="wm" style="font-size:27px" x="124.6" y="103.2" textLength="67.5" lengthAdjust="spacingAndGlyphs">CDW</text>
<text class="wm" style="font-size:27px" x="423.0" y="100.9" textLength="64" lengthAdjust="spacingAndGlyphs">KCW</text>
<text class="wm" style="font-size:24px" x="441.5" y="208.3" textLength="71.5" lengthAdjust="spacingAndGlyphs">KSSW</text>
<text class="wm" style="font-size:26px" x="311.0" y="253.2" textLength="64.5" lengthAdjust="spacingAndGlyphs">YSW</text>
<text class="wm" style="font-size:25px" x="366.0" y="333.6" textLength="95.5" lengthAdjust="spacingAndGlyphs">YSBCW</text>
<text class="wm" style="font-size:25px" x="428.2" y="395.2" textLength="75.5" lengthAdjust="spacingAndGlyphs">EJSW</text>
<path d="M546.7 16.1 L559.0 10.8 L571.3000000000001 16.1 L571.3000000000001 404.0 L559.0 409.6 L546.7 404.0 Z" fill="url(#cmA)" stroke="#444" stroke-width="0.6"/>
<text class="tk" x="578.5" y="381.2">50</text>
<text class="tk" x="578.5" y="321.5">60</text>
<text class="tk" x="578.5" y="261.8">70</text>
<text class="tk" x="578.5" y="202.1">80</text>
<text class="tk" x="578.5" y="142.5">90</text>
<text class="tk" x="578.5" y="82.8">100</text>
<text class="tk" x="578.5" y="23.1">110</text>
<path d="M546.7 374.2 h5 M566.3000000000001 374.2 h5 M546.7 314.5 h5 M566.3000000000001 314.5 h5 M546.7 254.8 h5 M566.3000000000001 254.8 h5 M546.7 195.1 h5 M566.3000000000001 195.1 h5 M546.7 135.5 h5 M566.3000000000001 135.5 h5 M546.7 75.8 h5 M566.3000000000001 75.8 h5 " stroke="#222" stroke-width="1.2" fill="none"/>
<text class="odv" textLength="101.5" lengthAdjust="spacingAndGlyphs" transform="translate(529.1 400.4) rotate(-90)">Ocean Data View</text>
</g>
<g id="panelB">
<clipPath id="clipB"><rect x="88.1" y="447.0" width="421.8" height="387.9"/></clipPath>
<text class="let" x="95.5" y="819.9">B</text>
<text class="ttl" x="139.1" y="822.3">SUVA<tspan font-size="16.5" dy="0.5" dx="0.5">350</tspan><tspan dy="-0.5" dx="3"> (L mg C</tspan><tspan font-size="16" dy="-10.5" dx="1">−1</tspan><tspan dy="10.5" dx="5">m</tspan><tspan font-size="16" dy="-10.5" dx="1.5">−1</tspan><tspan dy="10.5" dx="2">)</tspan></text>
<g clip-path="url(#clipB)">
<circle cx="132.8" cy="495.9" r="5.2" fill="#e3141a"/>
<circle cx="130.3" cy="495.9" r="5.2" fill="#e3141a"/>
<circle cx="149.8" cy="486.4" r="5.2" fill="#fbd00c"/>
<circle cx="150.8" cy="490.9" r="5.2" fill="#f0800e"/>
<circle cx="158.8" cy="496.9" r="5.2" fill="#e8380f"/>
<circle cx="195.3" cy="503.4" r="5.2" fill="#f0800e"/>
<circle cx="221.8" cy="501.4" r="5.2" fill="#ec5a10"/>
<circle cx="265.8" cy="503.9" r="5.2" fill="#f5ec14"/>
<circle cx="276.8" cy="544.4" r="5.2" fill="#f0800e"/>
<circle cx="130.8" cy="545.9" r="5.2" fill="#861018"/>
<circle cx="190.8" cy="552.9" r="5.2" fill="#e3141a"/>
<circle cx="342.7" cy="488.2" r="5.2" fill="#3580d0"/>
<circle cx="342.3" cy="496.2" r="5.2" fill="#45b4ea"/>
<circle cx="349.6" cy="501.5" r="5.2" fill="#80c460"/>
<circle cx="352.9" cy="503.7" r="5.2" fill="#80c460"/>
<circle cx="365.5" cy="502.1" r="5.2" fill="#2545a5"/>
<circle cx="366.8" cy="494.9" r="5.2" fill="#3580d0"/>
<circle cx="385.4" cy="487.6" r="5.2" fill="#2545a5"/>
<circle cx="392.6" cy="488.9" r="5.2" fill="#2545a5"/>
<circle cx="324.4" cy="513.4" r="5.2" fill="#c5d81e"/>
<circle cx="329.0" cy="521.4" r="5.2" fill="#80c460"/>
<circle cx="339.6" cy="510.8" r="5.2" fill="#3580d0"/>
<circle cx="346.3" cy="514.7" r="5.2" fill="#f5ec14"/>
<circle cx="366.8" cy="513.4" r="5.2" fill="#45b4ea"/>
<circle cx="367.5" cy="520.7" r="5.2" fill="#45b4ea"/>
<circle cx="356.9" cy="519.4" r="5.2" fill="#c5d81e"/>
<circle cx="355.5" cy="520.7" r="5.2" fill="#c5d81e"/>
<circle cx="340.3" cy="524.0" r="5.2" fill="#80c460"/>
<circle cx="344.9" cy="530.0" r="5.2" fill="#45b4ea"/>
<circle cx="352.2" cy="526.0" r="5.2" fill="#5cc0d0"/>
<circle cx="361.5" cy="524.7" r="5.2" fill="#c5d81e"/>
<circle cx="364.2" cy="528.6" r="5.2" fill="#3580d0"/>
<circle cx="334.3" cy="540.6" r="5.2" fill="#f5980c"/>
<circle cx="356.9" cy="539.2" r="5.2" fill="#80c460"/>
<circle cx="337.7" cy="532.6" r="5.2" fill="#80c460"/>
<circle cx="340.3" cy="537.9" r="5.2" fill="#80c460"/>
<circle cx="351.6" cy="535.3" r="5.2" fill="#5cc0d0"/>
<circle cx="341.6" cy="545.9" r="5.2" fill="#a0cc30"/>
<circle cx="349.6" cy="548.5" r="5.2" fill="#f0800e"/>
<circle cx="323.5" cy="546.5" r="5.2" fill="#f5ec14"/>
<circle cx="369.9" cy="542.6" r="5.2" fill="#80c460"/>
<circle cx="390.3" cy="546.5" r="5.2" fill="#a0cc30"/>
<circle cx="361.5" cy="554.5" r="5.2" fill="#f5ec14"/>
<circle cx="334.3" cy="559.8" r="5.2" fill="#f5980c"/>
<circle cx="337.0" cy="565.7" r="5.2" fill="#f0800e"/>
<circle cx="332.4" cy="564.4" r="5.2" fill="#f5980c"/>
<circle cx="339.6" cy="572.4" r="5.2" fill="#f0800e"/>
<circle cx="378.7" cy="559.1" r="5.2" fill="#3580d0"/>
<circle cx="365.5" cy="566.4" r="5.2" fill="#fbd00c"/>
<circle cx="383.4" cy="567.7" r="5.2" fill="#45b4ea"/>
<circle cx="380.7" cy="571.7" r="5.2" fill="#f0800e"/>
<circle cx="376.1" cy="563.8" r="5.2" fill="#5cc0d0"/>
<circle cx="401.9" cy="573.0" r="5.2" fill="#f5ec14"/>
<circle cx="489.4" cy="544.5" r="5.2" fill="#2545a5"/>
<circle cx="305.9" cy="579.7" r="5.2" fill="#a8131c"/>
<circle cx="360.8" cy="580.3" r="5.2" fill="#f0800e"/>
<circle cx="388.0" cy="581.0" r="5.2" fill="#fbd00c"/>
<circle cx="387.3" cy="585.6" r="5.2" fill="#c5d81e"/>
<circle cx="399.9" cy="596.9" r="5.2" fill="#f5ec14"/>
<circle cx="355.5" cy="599.6" r="5.2" fill="#f0800e"/>
<circle cx="354.2" cy="602.9" r="5.2" fill="#c5d81e"/>
<circle cx="372.1" cy="605.5" r="5.2" fill="#a0cc30"/>
<circle cx="384.7" cy="601.8" r="5.2" fill="#c5d81e"/>
<circle cx="389.3" cy="609.8" r="5.2" fill="#6cc3b0"/>
<circle cx="376.1" cy="618.8" r="5.2" fill="#f5980c"/>
<circle cx="358.9" cy="622.5" r="5.2" fill="#f5980c"/>
<circle cx="365.1" cy="629.6" r="5.2" fill="#f5980c"/>
<circle cx="389.3" cy="631.4" r="5.2" fill="#c5d81e"/>
<circle cx="382.7" cy="633.6" r="5.2" fill="#a0cc30"/>
<circle cx="371.4" cy="641.6" r="5.2" fill="#f5980c"/>
<circle cx="411.8" cy="606.2" r="5.2" fill="#6cc3b0"/>
<circle cx="421.8" cy="614.8" r="5.2" fill="#e3141a"/>
<circle cx="418.1" cy="609.5" r="5.2" fill="#f5ec14"/>
<circle cx="427.7" cy="611.7" r="5.2" fill="#a0cc30"/>
<circle cx="434.4" cy="589.4" r="5.2" fill="#fbd00c"/>
<circle cx="456.9" cy="592.9" r="5.2" fill="#45b4ea"/>
<circle cx="462.9" cy="592.9" r="5.2" fill="#fbb80c"/>
<circle cx="497.3" cy="589.6" r="5.2" fill="#2545a5"/>
<circle cx="472.8" cy="622.1" r="5.2" fill="#f5ec14"/>
<circle cx="470.1" cy="614.1" r="5.2" fill="#fbd00c"/>
<circle cx="492.7" cy="620.4" r="5.2" fill="#a0cc30"/>
<circle cx="494.0" cy="619.4" r="5.2" fill="#a0cc30"/>
<circle cx="463.5" cy="623.4" r="5.2" fill="#80c490"/>
<circle cx="470.1" cy="625.4" r="5.2" fill="#f5ec14"/>
<circle cx="419.8" cy="626.7" r="5.2" fill="#3580d0"/>
<circle cx="411.2" cy="628.7" r="5.2" fill="#fbd00c"/>
<circle cx="428.1" cy="631.8" r="5.2" fill="#45b4ea"/>
<circle cx="438.3" cy="632.0" r="5.2" fill="#a0cc30"/>
<circle cx="443.6" cy="638.6" r="5.2" fill="#a0cc30"/>
<circle cx="448.9" cy="632.7" r="5.2" fill="#f5ec14"/>
<circle cx="465.5" cy="634.7" r="5.2" fill="#a0cc30"/>
<circle cx="479.0" cy="634.4" r="5.2" fill="#e3141a"/>
<circle cx="456.9" cy="642.6" r="5.2" fill="#80c460"/>
<circle cx="462.2" cy="650.6" r="5.2" fill="#e3141a"/>
<circle cx="466.8" cy="647.9" r="5.2" fill="#a0cc30"/>
<circle cx="472.1" cy="646.6" r="5.2" fill="#3580d0"/>
<circle cx="467.5" cy="654.5" r="5.2" fill="#2d62bb"/>
<circle cx="463.5" cy="661.2" r="5.2" fill="#2d62bb"/>
<circle cx="448.9" cy="656.5" r="5.2" fill="#fbd00c"/>
<circle cx="423.8" cy="650.6" r="5.2" fill="#ec5a10"/>
<circle cx="408.5" cy="653.0" r="5.2" fill="#f5ec14"/>
<circle cx="425.1" cy="661.4" r="5.2" fill="#f0800e"/>
<circle cx="405.2" cy="664.5" r="5.2" fill="#a0cc30"/>
<circle cx="411.2" cy="662.5" r="5.2" fill="#f5ec14"/>
<circle cx="412.5" cy="669.8" r="5.2" fill="#a0cc30"/>
<circle cx="486.7" cy="651.2" r="5.2" fill="#2545a5"/>
<circle cx="497.3" cy="646.6" r="5.2" fill="#a0cc30"/>
<circle cx="498.0" cy="653.2" r="5.2" fill="#45b4ea"/>
<circle cx="495.3" cy="666.5" r="5.2" fill="#2545a5"/>
<circle cx="488.0" cy="665.1" r="5.2" fill="#6cc3b0"/>
<circle cx="489.4" cy="660.5" r="5.2" fill="#c5d81e"/>
<circle cx="496.6" cy="662.5" r="5.2" fill="#fbd00c"/>
<circle cx="484.1" cy="654.5" r="5.2" fill="#a0cc30"/>
<circle cx="415.8" cy="681.0" r="5.2" fill="#fbd00c"/>
<circle cx="404.3" cy="686.7" r="5.2" fill="#f5ec14"/>
<circle cx="442.3" cy="682.7" r="5.2" fill="#80c460"/>
<circle cx="429.1" cy="689.4" r="5.2" fill="#a0cc30"/>
<circle cx="420.2" cy="689.0" r="5.2" fill="#fbd00c"/>
<circle cx="410.1" cy="695.6" r="5.2" fill="#a0cc30"/>
<circle cx="434.4" cy="696.2" r="5.2" fill="#a0cc30"/>
<circle cx="437.0" cy="697.6" r="5.2" fill="#c5d81e"/>
<circle cx="435.0" cy="703.1" r="5.2" fill="#c5d81e"/>
<circle cx="430.0" cy="707.1" r="5.2" fill="#f5ec14"/>
<circle cx="386.0" cy="700.2" r="5.2" fill="#fbb80c"/>
<circle cx="395.3" cy="702.9" r="5.2" fill="#e3141a"/>
<circle cx="399.3" cy="707.5" r="5.2" fill="#a0cc30"/>
<circle cx="399.0" cy="712.1" r="5.2" fill="#a0cc30"/>
<circle cx="411.2" cy="703.5" r="5.2" fill="#a0cc30"/>
<circle cx="415.8" cy="712.8" r="5.2" fill="#c5d81e"/>
<circle cx="403.0" cy="722.1" r="5.2" fill="#c5d81e"/>
<circle cx="391.3" cy="723.4" r="5.2" fill="#fbd00c"/>
<circle cx="394.6" cy="723.4" r="5.2" fill="#f5980c"/>
<circle cx="395.7" cy="730.7" r="5.2" fill="#c5d81e"/>
<circle cx="484.3" cy="701.5" r="5.2" fill="#e3141a"/>
<circle cx="486.7" cy="709.2" r="5.2" fill="#f0800e"/>
<circle cx="474.8" cy="779.7" r="5.2" fill="#fbb80c"/>
<circle cx="475.4" cy="784.4" r="5.2" fill="#e3141a"/>
<circle cx="307.8" cy="558.1" r="0.7" fill="#9a9a9a"/>
<circle cx="374.1" cy="533.6" r="0.7" fill="#9a9a9a"/>
<circle cx="415.2" cy="555.7" r="0.7" fill="#9a9a9a"/>
<circle cx="481.4" cy="613.1" r="0.7" fill="#9a9a9a"/>
<circle cx="490.7" cy="633.0" r="0.7" fill="#9a9a9a"/>
<circle cx="488.0" cy="635.7" r="0.7" fill="#9a9a9a"/>
<circle cx="476.8" cy="662.8" r="0.7" fill="#9a9a9a"/>
<circle cx="480.1" cy="675.4" r="0.7" fill="#9a9a9a"/>
<circle cx="492.0" cy="672.8" r="0.7" fill="#9a9a9a"/>
<circle cx="490.7" cy="679.4" r="0.7" fill="#9a9a9a"/>
<circle cx="482.1" cy="732.3" r="0.7" fill="#9a9a9a"/>
<circle cx="478.5" cy="744.5" r="0.7" fill="#9a9a9a"/>
<circle cx="478.1" cy="770.5" r="0.7" fill="#9a9a9a"/>
<circle cx="474.4" cy="802.2" r="0.7" fill="#9a9a9a"/>
<circle cx="472.9" cy="819.6" r="0.7" fill="#9a9a9a"/>
<circle cx="472.9" cy="824.4" r="0.7" fill="#9a9a9a"/>
</g>
<g clip-path="url(#clipB)">
<path class="iso" d="M83.4 482.8 L84.8 482.0 L86.2 481.2 L87.6 480.4 L89.0 479.6 L90.4 478.9 L91.8 478.1 L93.3 477.3 L94.7 476.5 L96.1 475.7 L97.5 475.0 L98.9 474.2 L100.3 473.4 L101.7 472.6 L103.1 471.9 L104.5 471.1 L105.9 470.3 L107.3 469.6 L108.7 468.8 L110.1 468.1 L111.5 467.3 L112.9 466.5 L114.3 465.8 L115.8 465.0 L117.2 464.3 L118.6 463.5 L120.0 462.7 L121.4 462.0 L122.8 461.2 L124.2 460.5 L125.6 459.7 L127.0 459.0 L128.4 458.2 L129.8 457.5 L131.2 456.8 L132.6 456.0 L134.0 455.3 L135.4 454.5 L136.8 453.8 L138.2 453.1 L139.7 452.3 L141.1 451.6 L142.5 450.8 L143.9 450.1 L145.3 449.4 L146.7 448.6 L148.1 447.9 L149.5 447.2 L150.9 446.5 L152.3 445.7 L153.7 445.0 L155.1 444.3 L156.5 443.6 L157.9 442.8 L159.3 442.1 L160.7 441.4 L162.1 440.7 L163.6 440.0 L165.0 439.2 L166.4 438.5 L167.8 437.8 L169.2 437.1 L170.6 436.4 L172.0 435.7 L173.4 435.0 L174.8 434.2 L176.2 433.5 L177.6 432.8 L179.0 432.1 L180.4 431.4 L181.8 430.7 L183.2 430.0"/>
<path class="iso" d="M83.4 583.6 L84.8 582.6 L86.2 581.6 L87.6 580.6 L89.0 579.6 L90.4 578.6 L91.8 577.6 L93.3 576.6 L94.7 575.6 L96.1 574.6 L97.5 573.6 L98.9 572.6 L100.3 571.6 L101.7 570.6 L103.1 569.6 L104.5 568.7 L105.9 567.7 L107.3 566.7 L108.7 565.7 L110.1 564.8 L111.5 563.8 L112.9 562.9 L114.3 561.9 L115.8 560.9 L117.2 560.0 L118.6 559.0 L120.0 558.1 L121.4 557.2 L122.8 556.2 L124.2 555.3 L125.6 554.3 L127.0 553.4 L128.4 552.5 L129.8 551.5 L131.2 550.6 L132.6 549.7 L134.0 548.8 L135.4 547.9 L136.8 546.9 L138.2 546.0 L139.7 545.1 L141.1 544.2 L142.5 543.3 L143.9 542.4 L145.3 541.5 L146.7 540.6 L148.1 539.7 L149.5 538.8 L150.9 537.9 L152.3 537.0 L153.7 536.1 L155.1 535.3 L156.5 534.4 L157.9 533.5 L159.3 532.6 L160.7 531.7 L162.1 530.9 L163.6 530.0 L165.0 529.1 L166.4 528.2 L167.8 527.4 L169.2 526.5 L170.6 525.7 L172.0 524.8 L173.4 523.9 L174.8 523.1 L176.2 522.2 L177.6 521.4 L179.0 520.5 L180.4 519.7 L181.8 518.8 L183.2 518.0 L184.6 517.1 L186.1 516.3 L187.5 515.4 L188.9 514.6 L190.3 513.8 L191.7 512.9 L193.1 512.1 L194.5 511.3 L195.9 510.4 L197.3 509.6 L198.7 508.8 L200.1 508.0 L201.5 507.1 L202.9 506.3 L204.3 505.5 L205.7 504.7 L207.1 503.9 L208.5 503.0 L210.0 502.2 L211.4 501.4 L212.8 500.6 L214.2 499.8 L215.6 499.0 L217.0 498.2 L218.4 497.4 L219.8 496.6 L221.2 495.8 L222.6 495.0 L224.0 494.2 L225.4 493.4 L226.8 492.6 L228.2 491.8 L229.6 491.0 L231.0 490.2 L232.4 489.4 L233.9 488.6 L235.3 487.9 L236.7 487.1 L238.1 486.3 L239.5 485.5 L240.9 484.7 L242.3 483.9 L243.7 483.2 L245.1 482.4 L246.5 481.6 L247.9 480.8 L249.3 480.1 L250.7 479.3 L252.1 478.5 L253.5 477.8 L254.9 477.0 L256.4 476.2 L257.8 475.5 L259.2 474.7 L260.6 473.9 L262.0 473.2 L263.4 472.4 L264.8 471.7 L266.2 470.9 L267.6 470.1 L269.0 469.4 L270.4 468.6 L271.8 467.9 L273.2 467.1"/>
<path class="iso" d="M83.4 733.7 L84.8 731.6 L86.2 729.6 L87.6 727.6 L89.0 725.6 L90.4 723.6 L91.8 721.7 L93.3 719.8 L94.7 717.9 L96.1 716.1 L97.5 714.2 L98.9 712.4 L100.3 710.6 L101.7 708.9 L103.1 707.1 L104.5 705.4 L105.9 703.7 L107.3 702.0 L108.7 700.3 L110.1 698.7 L111.5 697.1 L112.9 695.4 L114.3 693.8 L115.8 692.2 L117.2 690.7 L118.6 689.1 L120.0 687.6 L121.4 686.0 L122.8 684.5 L124.2 683.0 L125.6 681.5 L127.0 680.0 L128.4 678.5 L129.8 677.1 L131.2 675.6 L132.6 674.2 L134.0 672.7 L135.4 671.3 L136.8 669.9 L138.2 668.5 L139.7 667.1 L141.1 665.7 L142.5 664.4 L143.9 663.0 L145.3 661.6 L146.7 660.3 L148.1 659.0 L149.5 657.6 L150.9 656.3 L152.3 655.0 L153.7 653.7 L155.1 652.4 L156.5 651.1 L157.9 649.8 L159.3 648.5 L160.7 647.3 L162.1 646.0 L163.6 644.8 L165.0 643.5 L166.4 642.3 L167.8 641.0 L169.2 639.8 L170.6 638.6 L172.0 637.4 L173.4 636.2 L174.8 635.0 L176.2 633.8 L177.6 632.6 L179.0 631.4 L180.4 630.2 L181.8 629.0 L183.2 627.9 L184.6 626.7 L186.1 625.5 L187.5 624.4 L188.9 623.2 L190.3 622.1 L191.7 620.9 L193.1 619.8"/>
<path class="iso" d="M222.6 597.0 L224.0 596.0 L225.4 594.9 L226.8 593.9 L228.2 592.9 L229.6 591.8 L231.0 590.8 L232.4 589.8 L233.9 588.8 L235.3 587.8 L236.7 586.7 L238.1 585.7 L239.5 584.7 L240.9 583.7 L242.3 582.7 L243.7 581.7 L245.1 580.7 L246.5 579.8 L247.9 578.8 L249.3 577.8 L250.7 576.8 L252.1 575.8 L253.5 574.9 L254.9 573.9 L256.4 572.9 L257.8 572.0 L259.2 571.0 L260.6 570.0 L262.0 569.1 L263.4 568.1 L264.8 567.2 L266.2 566.2 L267.6 565.3 L269.0 564.3 L270.4 563.4 L271.8 562.5 L273.2 561.5 L274.6 560.6 L276.0 559.7 L277.4 558.7 L278.8 557.8 L280.3 556.9 L281.7 556.0 L283.1 555.1 L284.5 554.1 L285.9 553.2 L287.3 552.3 L288.7 551.4 L290.1 550.5 L291.5 549.6 L292.9 548.7 L294.3 547.8 L295.7 546.9 L297.1 546.0 L298.5 545.1 L299.9 544.2 L301.3 543.3 L302.7 542.5 L304.2 541.6 L305.6 540.7 L307.0 539.8 L308.4 538.9 L309.8 538.1 L311.2 537.2 L312.6 536.3 L314.0 535.4 L315.4 534.6 L316.8 533.7 L318.2 532.8 L319.6 532.0 L321.0 531.1 L322.4 530.3 L323.8 529.4 L325.2 528.6 L326.7 527.7 L328.1 526.9 L329.5 526.0 L330.9 525.2 L332.3 524.3 L333.7 523.5 L335.1 522.6 L336.5 521.8 L337.9 521.0 L339.3 520.1 L340.7 519.3 L342.1 518.5 L343.5 517.6 L344.9 516.8 L346.3 516.0 L347.7 515.1 L349.1 514.3 L350.6 513.5 L352.0 512.7 L353.4 511.9 L354.8 511.0 L356.2 510.2 L357.6 509.4 L359.0 508.6 L360.4 507.8 L361.8 507.0 L363.2 506.2 L364.6 505.4 L366.0 504.6 L367.4 503.8 L368.8 503.0 L370.2 502.2 L371.6 501.4 L373.0 500.6 L374.5 499.8 L375.9 499.0 L377.3 498.2 L378.7 497.4 L380.1 496.6 L381.5 495.8 L382.9 495.0 L384.3 494.2 L385.7 493.4 L387.1 492.7 L388.5 491.9 L389.9 491.1 L391.3 490.3 L392.7 489.6 L394.1 488.8 L395.5 488.0 L397.0 487.2 L398.4 486.5 L399.8 485.7 L401.2 484.9 L402.6 484.1 L404.0 483.4 L405.4 482.6 L406.8 481.9 L408.2 481.1 L409.6 480.3 L411.0 479.6 L412.4 478.8 L413.8 478.1 L415.2 477.3 L416.6 476.5 L418.0 475.8 L419.4 475.0 L420.9 474.3 L422.3 473.5 L423.7 472.8 L425.1 472.0 L426.5 471.3 L427.9 470.5 L429.3 469.8 L430.7 469.1 L432.1 468.3 L433.5 467.6 L434.9 466.8 L436.3 466.1 L437.7 465.4 L439.1 464.6 L440.5 463.9 L441.9 463.2 L443.3 462.4 L444.8 461.7 L446.2 461.0 L447.6 460.2 L449.0 459.5 L450.4 458.8 L451.8 458.0 L453.2 457.3 L454.6 456.6 L456.0 455.9 L457.4 455.2 L458.8 454.4 L460.2 453.7 L461.6 453.0 L463.0 452.3 L464.4 451.6 L465.8 450.8 L467.3 450.1 L468.7 449.4 L470.1 448.7 L471.5 448.0 L472.9 447.3 L474.3 446.6 L475.7 445.9 L477.1 445.2 L478.5 444.4 L479.9 443.7 L481.3 443.0 L482.7 442.3 L484.1 441.6 L485.5 440.9 L486.9 440.2 L488.3 439.5 L489.7 438.8 L491.2 438.1 L492.6 437.4 L494.0 436.7 L495.4 436.0 L496.8 435.3 L498.2 434.7 L499.6 434.0 L501.0 433.3 L502.4 432.6 L503.8 431.9 L505.2 431.2 L506.6 430.5 L508.0 429.8"/>
<path class="iso" d="M190.3 839.0 L191.7 829.1 L193.1 821.9 L194.5 815.9 L195.9 810.7 L197.3 806.0 L198.7 801.6 L200.1 797.6 L201.5 793.9 L202.9 790.3 L204.3 786.9 L205.7 783.6 L207.1 780.5 L208.5 777.5 L210.0 774.6 L211.4 771.8 L212.8 769.1 L214.2 766.4 L215.6 763.9 L217.0 761.4 L218.4 758.9 L219.8 756.5 L221.2 754.2 L222.6 751.9 L224.0 749.6 L225.4 747.4 L226.8 745.3 L228.2 743.1 L229.6 741.1 L231.0 739.0 L232.4 737.0 L233.9 735.0 L235.3 733.0 L236.7 731.1 L238.1 729.2 L239.5 727.3 L240.9 725.4 L242.3 723.6 L243.7 721.8 L245.1 720.0 L246.5 718.2 L247.9 716.5 L249.3 714.7 L250.7 713.0 L252.1 711.3 L253.5 709.6 L254.9 708.0 L256.4 706.3 L257.8 704.7 L259.2 703.1 L260.6 701.5 L262.0 699.9 L263.4 698.3 L264.8 696.8 L266.2 695.2 L267.6 693.7 L269.0 692.2 L270.4 690.7 L271.8 689.2 L273.2 687.7 L274.6 686.3 L276.0 684.8 L277.4 683.4 L278.8 681.9 L280.3 680.5 L281.7 679.1 L283.1 677.7 L284.5 676.3 L285.9 674.9 L287.3 673.5 L288.7 672.1 L290.1 670.8 L291.5 669.4 L292.9 668.1 L294.3 666.7 L295.7 665.4 L297.1 664.1 L298.5 662.8 L299.9 661.5 L301.3 660.2 L302.7 658.9 L304.2 657.6 L305.6 656.4 L307.0 655.1 L308.4 653.8 L309.8 652.6 L311.2 651.3 L312.6 650.1 L314.0 648.9 L315.4 647.6 L316.8 646.4 L318.2 645.2 L319.6 644.0 L321.0 642.8 L322.4 641.6 L323.8 640.4 L325.2 639.2 L326.7 638.0 L328.1 636.8 L329.5 635.7 L330.9 634.5 L332.3 633.4 L333.7 632.2 L335.1 631.0 L336.5 629.9 L337.9 628.8 L339.3 627.6 L340.7 626.5 L342.1 625.4 L343.5 624.3 L344.9 623.1 L346.3 622.0 L347.7 620.9 L349.1 619.8 L350.6 618.7 L352.0 617.6 L353.4 616.5 L354.8 615.5 L356.2 614.4 L357.6 613.3 L359.0 612.2 L360.4 611.2 L361.8 610.1 L363.2 609.0 L364.6 608.0 L366.0 606.9 L367.4 605.9 L368.8 604.8 L370.2 603.8 L371.6 602.7 L373.0 601.7 L374.5 600.7 L375.9 599.6 L377.3 598.6 L378.7 597.6 L380.1 596.6 L381.5 595.6 L382.9 594.6 L384.3 593.5 L385.7 592.5 L387.1 591.5 L388.5 590.5 L389.9 589.5 L391.3 588.6 L392.7 587.6 L394.1 586.6 L395.5 585.6 L397.0 584.6 L398.4 583.6 L399.8 582.7 L401.2 581.7 L402.6 580.7 L404.0 579.8 L405.4 578.8 L406.8 577.8 L408.2 576.9 L409.6 575.9 L411.0 575.0 L412.4 574.0 L413.8 573.1 L415.2 572.1 L416.6 571.2 L418.0 570.3 L419.4 569.3 L420.9 568.4 L422.3 567.5 L423.7 566.5 L425.1 565.6 L426.5 564.7 L427.9 563.8 L429.3 562.8 L430.7 561.9 L432.1 561.0 L433.5 560.1 L434.9 559.2 L436.3 558.3 L437.7 557.4 L439.1 556.5 L440.5 555.6 L441.9 554.7 L443.3 553.8 L444.8 552.9 L446.2 552.0 L447.6 551.1 L449.0 550.2 L450.4 549.3 L451.8 548.4 L453.2 547.6 L454.6 546.7 L456.0 545.8 L457.4 544.9 L458.8 544.1 L460.2 543.2 L461.6 542.3 L463.0 541.5 L464.4 540.6 L465.8 539.7 L467.3 538.9"/>
<path class="iso" d="M335.1 844.5 L336.5 835.9 L337.9 829.2 L339.3 823.5 L340.7 818.4 L342.1 813.9 L343.5 809.7 L344.9 805.7 L346.3 802.0 L347.7 798.5 L349.1 795.1 L350.6 791.9 L352.0 788.9 L353.4 785.9 L354.8 783.0 L356.2 780.2 L357.6 777.5 L359.0 774.9 L360.4 772.3 L361.8 769.9 L363.2 767.4 L364.6 765.0 L366.0 762.7 L367.4 760.4 L368.8 758.2 L370.2 756.0 L371.6 753.8 L373.0 751.7 L374.5 749.6 L375.9 747.6 L377.3 745.5 L378.7 743.6 L380.1 741.6 L381.5 739.7 L382.9 737.8 L384.3 735.9 L385.7 734.0 L387.1 732.2 L388.5 730.4 L389.9 728.6 L391.3 726.8 L392.7 725.1 L394.1 723.3 L395.5 721.6"/>
<path class="iso" d="M422.3 692.0 L423.7 690.5 L425.1 689.1 L426.5 687.7 L427.9 686.3 L429.3 684.9 L430.7 683.5 L432.1 682.1 L433.5 680.7 L434.9 679.4 L436.3 678.0 L437.7 676.7 L439.1 675.3 L440.5 674.0 L441.9 672.7 L443.3 671.4 L444.8 670.1 L446.2 668.8 L447.6 667.5 L449.0 666.2 L450.4 664.9 L451.8 663.7 L453.2 662.4 L454.6 661.1 L456.0 659.9 L457.4 658.6 L458.8 657.4 L460.2 656.2 L461.6 655.0 L463.0 653.7 L464.4 652.5 L465.8 651.3 L467.3 650.1 L468.7 648.9 L470.1 647.7 L471.5 646.6 L472.9 645.4 L474.3 644.2 L475.7 643.0 L477.1 641.9 L478.5 640.7 L479.9 639.6 L481.3 638.4 L482.7 637.3 L484.1 636.1 L485.5 635.0 L486.9 633.9 L488.3 632.8 L489.7 631.6 L491.2 630.5 L492.6 629.4 L494.0 628.3 L495.4 627.2 L496.8 626.1 L498.2 625.0 L499.6 623.9 L501.0 622.9 L502.4 621.8 L503.8 620.7 L505.2 619.6 L506.6 618.6 L508.0 617.5 L509.4 616.4 L510.8 615.4 L512.2 614.3 L513.6 613.3 L515.1 612.2 L516.5 611.2"/>
<path class="iso" d="M479.9 846.7 L481.3 839.8 L482.7 833.9 L484.1 828.8 L485.5 824.2 L486.9 819.9 L488.3 815.9 L489.7 812.1 L491.2 808.6 L492.6 805.2 L494.0 802.0 L495.4 798.9 L496.8 795.9 L498.2 793.0 L499.6 790.2 L501.0 787.4 L502.4 784.8 L503.8 782.2 L505.2 779.7 L506.6 777.3 L508.0 774.9 L509.4 772.5 L510.8 770.2 L512.2 768.0 L513.6 765.8 L515.1 763.6 L516.5 761.5"/>
<text class="il" text-anchor="middle" transform="translate(299.5 452.4) rotate(-30)" y="6.2">17.5</text>
<text class="il" text-anchor="middle" transform="translate(209.0 608.7) rotate(-34)" y="6.2">20</text>
<text class="il" text-anchor="middle" transform="translate(493.0 524.0) rotate(-30)" y="6.2">22.5</text>
<text class="il" text-anchor="middle" transform="translate(409.6 704.1) rotate(-60)" y="6.2">25</text>
</g>
<text x="102.1" y="488.5" font-weight="bold" font-style="italic" font-size="37" fill="#808080">σ<tspan font-size="22.5" dy="4.5" dx="-1.8">0</tspan></text>
<rect class="ax" x="88.1" y="447.0" width="421.8" height="387.9"/>
<path class="ax" d="M88.1 834.9 v6.5 M135.0 834.9 v3.5 M181.8 834.9 v6.5 M228.7 834.9 v3.5 M275.6 834.9 v6.5 M322.4 834.9 v3.5 M369.3 834.9 v6.5 M416.2 834.9 v3.5 M463.0 834.9 v6.5 M509.9 834.9 v3.5 M88.1 834.9 h-6.5 M88.1 776.1 h-3.5 M88.1 717.4 h-6.5 M88.1 658.6 h-3.5 M88.1 599.8 h-6.5 M88.1 541.0 h-3.5 M88.1 482.3 h-6.5 "/>
<text class="tk" text-anchor="middle" x="86.6" y="859.4">26</text>
<text class="tk" text-anchor="middle" x="180.3" y="859.4">28</text>
<text class="tk" text-anchor="middle" x="274.1" y="859.4">30</text>
<text class="tk" text-anchor="middle" x="367.8" y="859.4">32</text>
<text class="tk" text-anchor="middle" x="461.5" y="859.4">34</text>
<text class="tk" text-anchor="end" x="76.3" y="840.5">0</text>
<text class="tk" text-anchor="end" x="75.0" y="722.0">10</text>
<text class="tk" text-anchor="end" x="72.6" y="604.4">20</text>
<text class="tk" text-anchor="end" x="72.3" y="486.9">30</text>
<path d="M546.4 447.0 L558.6999999999999 441.7 L571.0 447.0 L571.0 834.9 L558.6999999999999 840.5 L546.4 834.9 Z" fill="url(#cmB)" stroke="#444" stroke-width="0.6"/>
<text class="tk" x="578.2" y="812.1">0.2</text>
<text class="tk" x="578.2" y="752.4">0.4</text>
<text class="tk" x="578.2" y="692.7">0.6</text>
<text class="tk" x="578.2" y="633.0">0.8</text>
<text class="tk" x="578.2" y="573.4">1</text>
<text class="tk" x="578.2" y="513.7">1.2</text>
<text class="tk" x="578.2" y="454.0">1.4</text>
<path d="M546.4 805.1 h5 M566.0 805.1 h5 M546.4 745.4 h5 M566.0 745.4 h5 M546.4 685.7 h5 M566.0 685.7 h5 M546.4 626.0 h5 M566.0 626.0 h5 M546.4 566.4 h5 M566.0 566.4 h5 M546.4 506.7 h5 M566.0 506.7 h5 " stroke="#222" stroke-width="1.2" fill="none"/>
<text class="odv" textLength="101.5" lengthAdjust="spacingAndGlyphs" transform="translate(528.8 831.3) rotate(-90)">Ocean Data View</text>
</g>
<g id="panelC">
<clipPath id="clipC"><rect x="652.8" y="15.6" width="421.8" height="387.9"/></clipPath>
<text class="let" x="662.6" y="387.9">C</text>
<text class="ttl" x="705.2" y="392.3">C1 (R.U.)</text>
<g clip-path="url(#clipC)">
<circle cx="697.5" cy="63.5" r="5.2" fill="#e3141a"/>
<circle cx="695.0" cy="63.5" r="5.2" fill="#e3141a"/>
<circle cx="714.5" cy="54.0" r="5.2" fill="#e3141a"/>
<circle cx="715.5" cy="58.5" r="5.2" fill="#e3141a"/>
<circle cx="723.5" cy="64.5" r="5.2" fill="#e3141a"/>
<circle cx="760.0" cy="71.0" r="5.2" fill="#e3141a"/>
<circle cx="786.5" cy="69.0" r="5.2" fill="#ec5a10"/>
<circle cx="830.5" cy="71.5" r="5.2" fill="#f5ec14"/>
<circle cx="841.5" cy="112.0" r="5.2" fill="#f0800e"/>
<circle cx="695.5" cy="113.5" r="5.2" fill="#861018"/>
<circle cx="755.5" cy="120.5" r="5.2" fill="#a8131c"/>
<circle cx="907.4" cy="55.8" r="5.2" fill="#6cc3b0"/>
<circle cx="907.0" cy="63.8" r="5.2" fill="#45b4ea"/>
<circle cx="914.3" cy="69.1" r="5.2" fill="#45b4ea"/>
<circle cx="917.6" cy="71.3" r="5.2" fill="#ec5a10"/>
<circle cx="930.2" cy="69.7" r="5.2" fill="#3580d0"/>
<circle cx="931.5" cy="62.5" r="5.2" fill="#2d62bb"/>
<circle cx="950.1" cy="55.2" r="5.2" fill="#2545a5"/>
<circle cx="957.3" cy="56.5" r="5.2" fill="#2545a5"/>
<circle cx="889.1" cy="81.0" r="5.2" fill="#f5ec14"/>
<circle cx="893.7" cy="89.0" r="5.2" fill="#f5ec14"/>
<circle cx="904.3" cy="78.4" r="5.2" fill="#5cc0d0"/>
<circle cx="911.0" cy="82.3" r="5.2" fill="#5cc0d0"/>
<circle cx="931.5" cy="81.0" r="5.2" fill="#5cc0d0"/>
<circle cx="932.2" cy="88.3" r="5.2" fill="#45b4ea"/>
<circle cx="921.6" cy="87.0" r="5.2" fill="#c5d81e"/>
<circle cx="920.2" cy="88.3" r="5.2" fill="#80c490"/>
<circle cx="905.0" cy="91.6" r="5.2" fill="#6cc3b0"/>
<circle cx="909.6" cy="97.6" r="5.2" fill="#3580d0"/>
<circle cx="916.9" cy="93.6" r="5.2" fill="#45b4ea"/>
<circle cx="926.2" cy="92.3" r="5.2" fill="#6cc3b0"/>
<circle cx="928.9" cy="96.2" r="5.2" fill="#c5d81e"/>
<circle cx="899.0" cy="108.2" r="5.2" fill="#2d62bb"/>
<circle cx="921.6" cy="106.8" r="5.2" fill="#45b4ea"/>
<circle cx="902.4" cy="100.2" r="5.2" fill="#f5ec14"/>
<circle cx="905.0" cy="105.5" r="5.2" fill="#f5ec14"/>
<circle cx="916.3" cy="102.9" r="5.2" fill="#f5ec14"/>
<circle cx="906.3" cy="113.5" r="5.2" fill="#e3141a"/>
<circle cx="914.3" cy="116.1" r="5.2" fill="#a0cc30"/>
<circle cx="888.2" cy="114.1" r="5.2" fill="#e8380f"/>
<circle cx="934.6" cy="110.2" r="5.2" fill="#c5d81e"/>
<circle cx="955.0" cy="114.1" r="5.2" fill="#5cc0d0"/>
<circle cx="926.2" cy="122.1" r="5.2" fill="#5cc0d0"/>
<circle cx="899.0" cy="127.4" r="5.2" fill="#f5980c"/>
<circle cx="901.7" cy="133.3" r="5.2" fill="#e8380f"/>
<circle cx="897.1" cy="132.0" r="5.2" fill="#6cc3b0"/>
<circle cx="904.3" cy="140.0" r="5.2" fill="#fbb80c"/>
<circle cx="943.4" cy="126.7" r="5.2" fill="#6cc3b0"/>
<circle cx="930.2" cy="134.0" r="5.2" fill="#c5d81e"/>
<circle cx="948.1" cy="135.3" r="5.2" fill="#6cc3b0"/>
<circle cx="945.4" cy="139.3" r="5.2" fill="#6cc3b0"/>
<circle cx="940.8" cy="131.4" r="5.2" fill="#ec5a10"/>
<circle cx="966.6" cy="140.6" r="5.2" fill="#a0cc30"/>
<circle cx="1054.1" cy="112.1" r="5.2" fill="#3580d0"/>
<circle cx="870.6" cy="147.3" r="5.2" fill="#f0800e"/>
<circle cx="925.5" cy="147.9" r="5.2" fill="#f5980c"/>
<circle cx="936.4" cy="148.2" r="5.2" fill="#f5ec14"/>
<circle cx="952.7" cy="148.6" r="5.2" fill="#6cc3b0"/>
<circle cx="952.0" cy="153.2" r="5.2" fill="#80c490"/>
<circle cx="944.1" cy="159.9" r="5.2" fill="#f5980c"/>
<circle cx="964.6" cy="164.5" r="5.2" fill="#80c460"/>
<circle cx="920.2" cy="167.2" r="5.2" fill="#f5980c"/>
<circle cx="918.9" cy="170.5" r="5.2" fill="#6cc3b0"/>
<circle cx="938.8" cy="173.8" r="5.2" fill="#f5ec14"/>
<circle cx="936.8" cy="173.1" r="5.2" fill="#ec5a10"/>
<circle cx="949.4" cy="169.4" r="5.2" fill="#f5ec14"/>
<circle cx="954.0" cy="177.4" r="5.2" fill="#f0800e"/>
<circle cx="940.8" cy="186.4" r="5.2" fill="#f0800e"/>
<circle cx="923.6" cy="190.1" r="5.2" fill="#f0800e"/>
<circle cx="929.8" cy="197.2" r="5.2" fill="#ec5a10"/>
<circle cx="954.0" cy="199.0" r="5.2" fill="#fbb80c"/>
<circle cx="947.4" cy="201.2" r="5.2" fill="#f5980c"/>
<circle cx="936.1" cy="209.2" r="5.2" fill="#e8380f"/>
<circle cx="976.5" cy="173.8" r="5.2" fill="#a0cc30"/>
<circle cx="986.5" cy="182.4" r="5.2" fill="#6cc3b0"/>
<circle cx="982.8" cy="177.1" r="5.2" fill="#3580d0"/>
<circle cx="992.4" cy="179.3" r="5.2" fill="#a0cc30"/>
<circle cx="999.1" cy="157.0" r="5.2" fill="#5cc0d0"/>
<circle cx="1021.6" cy="160.5" r="5.2" fill="#6cc3b0"/>
<circle cx="1027.6" cy="160.5" r="5.2" fill="#80c490"/>
<circle cx="1062.0" cy="157.2" r="5.2" fill="#2d62bb"/>
<circle cx="1037.5" cy="189.7" r="5.2" fill="#45b4ea"/>
<circle cx="1034.8" cy="181.7" r="5.2" fill="#45b4ea"/>
<circle cx="1068.6" cy="183.7" r="5.2" fill="#2545a5"/>
<circle cx="1057.4" cy="188.0" r="5.2" fill="#45b4ea"/>
<circle cx="1058.7" cy="187.0" r="5.2" fill="#ec5a10"/>
<circle cx="1028.2" cy="191.0" r="5.2" fill="#80c490"/>
<circle cx="1034.8" cy="193.0" r="5.2" fill="#f5980c"/>
<circle cx="984.5" cy="194.3" r="5.2" fill="#80c460"/>
<circle cx="975.9" cy="196.3" r="5.2" fill="#f5ec14"/>
<circle cx="992.8" cy="199.4" r="5.2" fill="#6cc3b0"/>
<circle cx="1003.0" cy="199.6" r="5.2" fill="#c5d81e"/>
<circle cx="1008.3" cy="206.2" r="5.2" fill="#6cc3b0"/>
<circle cx="1013.6" cy="200.3" r="5.2" fill="#80c460"/>
<circle cx="1030.2" cy="202.3" r="5.2" fill="#5cc0d0"/>
<circle cx="1043.7" cy="202.0" r="5.2" fill="#80c490"/>
<circle cx="1021.6" cy="210.2" r="5.2" fill="#6cc3b0"/>
<circle cx="1026.9" cy="218.2" r="5.2" fill="#a8131c"/>
<circle cx="1031.5" cy="215.5" r="5.2" fill="#6cc3b0"/>
<circle cx="1036.8" cy="214.2" r="5.2" fill="#6cc3b0"/>
<circle cx="1032.2" cy="222.1" r="5.2" fill="#6cc3b0"/>
<circle cx="1028.2" cy="228.8" r="5.2" fill="#6cc3b0"/>
<circle cx="1013.6" cy="224.1" r="5.2" fill="#80c460"/>
<circle cx="988.5" cy="218.2" r="5.2" fill="#5cc0d0"/>
<circle cx="973.2" cy="220.6" r="5.2" fill="#f5ec14"/>
<circle cx="989.8" cy="229.0" r="5.2" fill="#a0cc30"/>
<circle cx="969.9" cy="232.1" r="5.2" fill="#fbd00c"/>
<circle cx="975.9" cy="230.1" r="5.2" fill="#f5ec14"/>
<circle cx="977.2" cy="237.4" r="5.2" fill="#e8380f"/>
<circle cx="1051.4" cy="218.8" r="5.2" fill="#2545a5"/>
<circle cx="1062.0" cy="214.2" r="5.2" fill="#3580d0"/>
<circle cx="1062.7" cy="220.8" r="5.2" fill="#3580d0"/>
<circle cx="1060.0" cy="234.1" r="5.2" fill="#2d62bb"/>
<circle cx="1052.7" cy="232.7" r="5.2" fill="#45b4ea"/>
<circle cx="1054.1" cy="228.1" r="5.2" fill="#80c490"/>
<circle cx="1061.3" cy="230.1" r="5.2" fill="#a0cc30"/>
<circle cx="1048.8" cy="222.1" r="5.2" fill="#45b4ea"/>
<circle cx="957.3" cy="245.0" r="5.2" fill="#c5d81e"/>
<circle cx="980.5" cy="248.6" r="5.2" fill="#f5ec14"/>
<circle cx="969.0" cy="254.3" r="5.2" fill="#6cc3b0"/>
<circle cx="1007.0" cy="250.3" r="5.2" fill="#c5d81e"/>
<circle cx="993.8" cy="257.0" r="5.2" fill="#f5ec14"/>
<circle cx="984.9" cy="256.6" r="5.2" fill="#a0cc30"/>
<circle cx="974.8" cy="263.2" r="5.2" fill="#fbd00c"/>
<circle cx="999.1" cy="263.8" r="5.2" fill="#6cc3b0"/>
<circle cx="1001.7" cy="265.2" r="5.2" fill="#f5ec14"/>
<circle cx="999.7" cy="270.7" r="5.2" fill="#45b4ea"/>
<circle cx="994.7" cy="274.7" r="5.2" fill="#fbd00c"/>
<circle cx="950.7" cy="267.8" r="5.2" fill="#e3141a"/>
<circle cx="960.0" cy="270.5" r="5.2" fill="#e8380f"/>
<circle cx="964.0" cy="275.1" r="5.2" fill="#e8380f"/>
<circle cx="963.7" cy="279.7" r="5.2" fill="#ec5a10"/>
<circle cx="975.9" cy="271.1" r="5.2" fill="#fbb80c"/>
<circle cx="980.5" cy="280.4" r="5.2" fill="#3580d0"/>
<circle cx="953.4" cy="283.1" r="5.2" fill="#e3141a"/>
<circle cx="955.4" cy="283.7" r="5.2" fill="#45b4ea"/>
<circle cx="967.7" cy="289.7" r="5.2" fill="#a0cc30"/>
<circle cx="956.0" cy="291.0" r="5.2" fill="#e3141a"/>
<circle cx="959.3" cy="291.0" r="5.2" fill="#45b4ea"/>
<circle cx="960.4" cy="298.3" r="5.2" fill="#5cc0d0"/>
<circle cx="1049.0" cy="269.1" r="5.2" fill="#3580d0"/>
<circle cx="1051.4" cy="276.8" r="5.2" fill="#a0cc30"/>
<circle cx="1039.5" cy="347.3" r="5.2" fill="#45b4ea"/>
<circle cx="1040.1" cy="352.0" r="5.2" fill="#a0cc30"/>
<circle cx="872.5" cy="126.7" r="0.7" fill="#9a9a9a"/>
<circle cx="938.8" cy="102.2" r="0.7" fill="#9a9a9a"/>
<circle cx="979.9" cy="124.3" r="0.7" fill="#9a9a9a"/>
<circle cx="1046.1" cy="181.7" r="0.7" fill="#9a9a9a"/>
<circle cx="1055.4" cy="201.6" r="0.7" fill="#9a9a9a"/>
<circle cx="1052.7" cy="204.3" r="0.7" fill="#9a9a9a"/>
<circle cx="1041.5" cy="231.4" r="0.7" fill="#9a9a9a"/>
<circle cx="1044.8" cy="244.0" r="0.7" fill="#9a9a9a"/>
<circle cx="1056.7" cy="241.4" r="0.7" fill="#9a9a9a"/>
<circle cx="1055.4" cy="248.0" r="0.7" fill="#9a9a9a"/>
<circle cx="1046.8" cy="300.9" r="0.7" fill="#9a9a9a"/>
<circle cx="1043.2" cy="313.1" r="0.7" fill="#9a9a9a"/>
<circle cx="1042.8" cy="339.1" r="0.7" fill="#9a9a9a"/>
<circle cx="1039.1" cy="370.8" r="0.7" fill="#9a9a9a"/>
<circle cx="1037.6" cy="388.2" r="0.7" fill="#9a9a9a"/>
<circle cx="1037.6" cy="393.0" r="0.7" fill="#9a9a9a"/>
</g>
<g clip-path="url(#clipC)">
<path class="iso" d="M648.1 51.4 L649.5 50.6 L650.9 49.8 L652.3 49.0 L653.7 48.2 L655.1 47.5 L656.5 46.7 L658.0 45.9 L659.4 45.1 L660.8 44.3 L662.2 43.6 L663.6 42.8 L665.0 42.0 L666.4 41.2 L667.8 40.5 L669.2 39.7 L670.6 38.9 L672.0 38.2 L673.4 37.4 L674.8 36.7 L676.2 35.9 L677.6 35.1 L679.0 34.4 L680.5 33.6 L681.9 32.9 L683.3 32.1 L684.7 31.3 L686.1 30.6 L687.5 29.8 L688.9 29.1 L690.3 28.3 L691.7 27.6 L693.1 26.8 L694.5 26.1 L695.9 25.4 L697.3 24.6 L698.7 23.9 L700.1 23.1 L701.5 22.4 L702.9 21.7 L704.4 20.9 L705.8 20.2 L707.2 19.4 L708.6 18.7 L710.0 18.0 L711.4 17.2 L712.8 16.5 L714.2 15.8 L715.6 15.1 L717.0 14.3 L718.4 13.6 L719.8 12.9 L721.2 12.2 L722.6 11.4 L724.0 10.7 L725.4 10.0 L726.8 9.3 L728.3 8.6 L729.7 7.8 L731.1 7.1 L732.5 6.4 L733.9 5.7 L735.3 5.0 L736.7 4.3 L738.1 3.6 L739.5 2.8 L740.9 2.1 L742.3 1.4 L743.7 0.7 L745.1 0.0 L746.5 -0.7 L747.9 -1.4"/>
<path class="iso" d="M648.1 152.2 L649.5 151.2 L650.9 150.2 L652.3 149.2 L653.7 148.2 L655.1 147.2 L656.5 146.2 L658.0 145.2 L659.4 144.2 L660.8 143.2 L662.2 142.2 L663.6 141.2 L665.0 140.2 L666.4 139.2 L667.8 138.2 L669.2 137.3 L670.6 136.3 L672.0 135.3 L673.4 134.3 L674.8 133.4 L676.2 132.4 L677.6 131.5 L679.0 130.5 L680.5 129.5 L681.9 128.6 L683.3 127.6 L684.7 126.7 L686.1 125.8 L687.5 124.8 L688.9 123.9 L690.3 122.9 L691.7 122.0 L693.1 121.1 L694.5 120.1 L695.9 119.2 L697.3 118.3 L698.7 117.4 L700.1 116.5 L701.5 115.5 L702.9 114.6 L704.4 113.7 L705.8 112.8 L707.2 111.9 L708.6 111.0 L710.0 110.1 L711.4 109.2 L712.8 108.3 L714.2 107.4 L715.6 106.5 L717.0 105.6 L718.4 104.7 L719.8 103.9 L721.2 103.0 L722.6 102.1 L724.0 101.2 L725.4 100.3 L726.8 99.5 L728.3 98.6 L729.7 97.7 L731.1 96.8 L732.5 96.0 L733.9 95.1 L735.3 94.3 L736.7 93.4 L738.1 92.5 L739.5 91.7 L740.9 90.8 L742.3 90.0 L743.7 89.1 L745.1 88.3 L746.5 87.4 L747.9 86.6 L749.3 85.7 L750.8 84.9 L752.2 84.0 L753.6 83.2 L755.0 82.4 L756.4 81.5 L757.8 80.7 L759.2 79.9 L760.6 79.0 L762.0 78.2 L763.4 77.4 L764.8 76.6 L766.2 75.7 L767.6 74.9 L769.0 74.1 L770.4 73.3 L771.8 72.5 L773.2 71.6 L774.7 70.8 L776.1 70.0 L777.5 69.2 L778.9 68.4 L780.3 67.6 L781.7 66.8 L783.1 66.0 L784.5 65.2 L785.9 64.4 L787.3 63.6 L788.7 62.8 L790.1 62.0 L791.5 61.2 L792.9 60.4 L794.3 59.6 L795.7 58.8 L797.1 58.0 L798.6 57.2 L800.0 56.5 L801.4 55.7 L802.8 54.9 L804.2 54.1 L805.6 53.3 L807.0 52.5 L808.4 51.8 L809.8 51.0 L811.2 50.2 L812.6 49.4 L814.0 48.7 L815.4 47.9 L816.8 47.1 L818.2 46.4 L819.6 45.6 L821.1 44.8 L822.5 44.1 L823.9 43.3 L825.3 42.5 L826.7 41.8 L828.1 41.0 L829.5 40.3 L830.9 39.5 L832.3 38.7 L833.7 38.0 L835.1 37.2 L836.5 36.5 L837.9 35.7"/>
<path class="iso" d="M648.1 302.3 L649.5 300.2 L650.9 298.2 L652.3 296.2 L653.7 294.2 L655.1 292.2 L656.5 290.3 L658.0 288.4 L659.4 286.5 L660.8 284.7 L662.2 282.8 L663.6 281.0 L665.0 279.2 L666.4 277.5 L667.8 275.7 L669.2 274.0 L670.6 272.3 L672.0 270.6 L673.4 268.9 L674.8 267.3 L676.2 265.7 L677.6 264.0 L679.0 262.4 L680.5 260.8 L681.9 259.3 L683.3 257.7 L684.7 256.2 L686.1 254.6 L687.5 253.1 L688.9 251.6 L690.3 250.1 L691.7 248.6 L693.1 247.1 L694.5 245.7 L695.9 244.2 L697.3 242.8 L698.7 241.3 L700.1 239.9 L701.5 238.5 L702.9 237.1 L704.4 235.7 L705.8 234.3 L707.2 233.0 L708.6 231.6 L710.0 230.2 L711.4 228.9 L712.8 227.6 L714.2 226.2 L715.6 224.9 L717.0 223.6 L718.4 222.3 L719.8 221.0 L721.2 219.7 L722.6 218.4 L724.0 217.1 L725.4 215.9 L726.8 214.6 L728.3 213.4 L729.7 212.1 L731.1 210.9 L732.5 209.6 L733.9 208.4 L735.3 207.2 L736.7 206.0 L738.1 204.8 L739.5 203.6 L740.9 202.4 L742.3 201.2 L743.7 200.0 L745.1 198.8 L746.5 197.6 L747.9 196.5 L749.3 195.3 L750.8 194.1 L752.2 193.0 L753.6 191.8 L755.0 190.7 L756.4 189.5 L757.8 188.4"/>
<path class="iso" d="M787.3 165.6 L788.7 164.6 L790.1 163.5 L791.5 162.5 L792.9 161.5 L794.3 160.4 L795.7 159.4 L797.1 158.4 L798.6 157.4 L800.0 156.4 L801.4 155.3 L802.8 154.3 L804.2 153.3 L805.6 152.3 L807.0 151.3 L808.4 150.3 L809.8 149.3 L811.2 148.4 L812.6 147.4 L814.0 146.4 L815.4 145.4 L816.8 144.4 L818.2 143.5 L819.6 142.5 L821.1 141.5 L822.5 140.6 L823.9 139.6 L825.3 138.6 L826.7 137.7 L828.1 136.7 L829.5 135.8 L830.9 134.8 L832.3 133.9 L833.7 132.9 L835.1 132.0 L836.5 131.1 L837.9 130.1 L839.3 129.2 L840.7 128.3 L842.1 127.3 L843.5 126.4 L845.0 125.5 L846.4 124.6 L847.8 123.7 L849.2 122.7 L850.6 121.8 L852.0 120.9 L853.4 120.0 L854.8 119.1 L856.2 118.2 L857.6 117.3 L859.0 116.4 L860.4 115.5 L861.8 114.6 L863.2 113.7 L864.6 112.8 L866.0 111.9 L867.4 111.1 L868.9 110.2 L870.3 109.3 L871.7 108.4 L873.1 107.5 L874.5 106.7 L875.9 105.8 L877.3 104.9 L878.7 104.0 L880.1 103.2 L881.5 102.3 L882.9 101.4 L884.3 100.6 L885.7 99.7 L887.1 98.9 L888.5 98.0 L889.9 97.2 L891.4 96.3 L892.8 95.5 L894.2 94.6 L895.6 93.8 L897.0 92.9 L898.4 92.1 L899.8 91.2 L901.2 90.4 L902.6 89.6 L904.0 88.7 L905.4 87.9 L906.8 87.1 L908.2 86.2 L909.6 85.4 L911.0 84.6 L912.4 83.7 L913.8 82.9 L915.3 82.1 L916.7 81.3 L918.1 80.5 L919.5 79.6 L920.9 78.8 L922.3 78.0 L923.7 77.2 L925.1 76.4 L926.5 75.6 L927.9 74.8 L929.3 74.0 L930.7 73.2 L932.1 72.4 L933.5 71.6 L934.9 70.8 L936.3 70.0 L937.7 69.2 L939.2 68.4 L940.6 67.6 L942.0 66.8 L943.4 66.0 L944.8 65.2 L946.2 64.4 L947.6 63.6 L949.0 62.8 L950.4 62.0 L951.8 61.3 L953.2 60.5 L954.6 59.7 L956.0 58.9 L957.4 58.2 L958.8 57.4 L960.2 56.6 L961.7 55.8 L963.1 55.1 L964.5 54.3 L965.9 53.5 L967.3 52.7 L968.7 52.0 L970.1 51.2 L971.5 50.5 L972.9 49.7 L974.3 48.9 L975.7 48.2 L977.1 47.4 L978.5 46.7 L979.9 45.9 L981.3 45.1 L982.7 44.4 L984.1 43.6 L985.6 42.9 L987.0 42.1 L988.4 41.4 L989.8 40.6 L991.2 39.9 L992.6 39.1 L994.0 38.4 L995.4 37.7 L996.8 36.9 L998.2 36.2 L999.6 35.4 L1001.0 34.7 L1002.4 34.0 L1003.8 33.2 L1005.2 32.5 L1006.6 31.8 L1008.0 31.0 L1009.5 30.3 L1010.9 29.6 L1012.3 28.8 L1013.7 28.1 L1015.1 27.4 L1016.5 26.6 L1017.9 25.9 L1019.3 25.2 L1020.7 24.5 L1022.1 23.8 L1023.5 23.0 L1024.9 22.3 L1026.3 21.6 L1027.7 20.9 L1029.1 20.2 L1030.5 19.4 L1032.0 18.7 L1033.4 18.0 L1034.8 17.3 L1036.2 16.6 L1037.6 15.9 L1039.0 15.2 L1040.4 14.5 L1041.8 13.8 L1043.2 13.0 L1044.6 12.3 L1046.0 11.6 L1047.4 10.9 L1048.8 10.2 L1050.2 9.5 L1051.6 8.8 L1053.0 8.1 L1054.4 7.4 L1055.9 6.7 L1057.3 6.0 L1058.7 5.3 L1060.1 4.6 L1061.5 3.9 L1062.9 3.3 L1064.3 2.6 L1065.7 1.9 L1067.1 1.2 L1068.5 0.5 L1069.9 -0.2 L1071.3 -0.9 L1072.7 -1.6"/>
<path class="iso" d="M755.0 407.6 L756.4 397.7 L757.8 390.5 L759.2 384.5 L760.6 379.3 L762.0 374.6 L763.4 370.2 L764.8 366.2 L766.2 362.5 L767.6 358.9 L769.0 355.5 L770.4 352.2 L771.8 349.1 L773.2 346.1 L774.7 343.2 L776.1 340.4 L777.5 337.7 L778.9 335.0 L780.3 332.5 L781.7 330.0 L783.1 327.5 L784.5 325.1 L785.9 322.8 L787.3 320.5 L788.7 318.2 L790.1 316.0 L791.5 313.9 L792.9 311.7 L794.3 309.7 L795.7 307.6 L797.1 305.6 L798.6 303.6 L800.0 301.6 L801.4 299.7 L802.8 297.8 L804.2 295.9 L805.6 294.0 L807.0 292.2 L808.4 290.4 L809.8 288.6 L811.2 286.8 L812.6 285.1 L814.0 283.3 L815.4 281.6 L816.8 279.9 L818.2 278.2 L819.6 276.6 L821.1 274.9 L822.5 273.3 L823.9 271.7 L825.3 270.1 L826.7 268.5 L828.1 266.9 L829.5 265.4 L830.9 263.8 L832.3 262.3 L833.7 260.8 L835.1 259.3 L836.5 257.8 L837.9 256.3 L839.3 254.9 L840.7 253.4 L842.1 252.0 L843.5 250.5 L845.0 249.1 L846.4 247.7 L847.8 246.3 L849.2 244.9 L850.6 243.5 L852.0 242.1 L853.4 240.7 L854.8 239.4 L856.2 238.0 L857.6 236.7 L859.0 235.3 L860.4 234.0 L861.8 232.7 L863.2 231.4 L864.6 230.1 L866.0 228.8 L867.4 227.5 L868.9 226.2 L870.3 225.0 L871.7 223.7 L873.1 222.4 L874.5 221.2 L875.9 219.9 L877.3 218.7 L878.7 217.5 L880.1 216.2 L881.5 215.0 L882.9 213.8 L884.3 212.6 L885.7 211.4 L887.1 210.2 L888.5 209.0 L889.9 207.8 L891.4 206.6 L892.8 205.4 L894.2 204.3 L895.6 203.1 L897.0 202.0 L898.4 200.8 L899.8 199.6 L901.2 198.5 L902.6 197.4 L904.0 196.2 L905.4 195.1 L906.8 194.0 L908.2 192.9 L909.6 191.7 L911.0 190.6 L912.4 189.5 L913.8 188.4 L915.3 187.3 L916.7 186.2 L918.1 185.1 L919.5 184.1 L920.9 183.0 L922.3 181.9 L923.7 180.8 L925.1 179.8 L926.5 178.7 L927.9 177.6 L929.3 176.6 L930.7 175.5 L932.1 174.5 L933.5 173.4 L934.9 172.4 L936.3 171.3 L937.7 170.3 L939.2 169.3 L940.6 168.2 L942.0 167.2 L943.4 166.2 L944.8 165.2 L946.2 164.2 L947.6 163.2 L949.0 162.1 L950.4 161.1 L951.8 160.1 L953.2 159.1 L954.6 158.1 L956.0 157.2 L957.4 156.2 L958.8 155.2 L960.2 154.2 L961.7 153.2 L963.1 152.2 L964.5 151.3 L965.9 150.3 L967.3 149.3 L968.7 148.4 L970.1 147.4 L971.5 146.4 L972.9 145.5 L974.3 144.5 L975.7 143.6 L977.1 142.6 L978.5 141.7 L979.9 140.7 L981.3 139.8 L982.7 138.9 L984.1 137.9 L985.6 137.0 L987.0 136.1 L988.4 135.1 L989.8 134.2 L991.2 133.3 L992.6 132.4 L994.0 131.4 L995.4 130.5 L996.8 129.6 L998.2 128.7 L999.6 127.8 L1001.0 126.9 L1002.4 126.0 L1003.8 125.1 L1005.2 124.2 L1006.6 123.3 L1008.0 122.4 L1009.5 121.5 L1010.9 120.6 L1012.3 119.7 L1013.7 118.8 L1015.1 117.9 L1016.5 117.0 L1017.9 116.2 L1019.3 115.3 L1020.7 114.4 L1022.1 113.5 L1023.5 112.7 L1024.9 111.8 L1026.3 110.9 L1027.7 110.1 L1029.1 109.2 L1030.5 108.3 L1032.0 107.5"/>
<path class="iso" d="M899.8 413.1 L901.2 404.5 L902.6 397.8 L904.0 392.1 L905.4 387.0 L906.8 382.5 L908.2 378.3 L909.6 374.3 L911.0 370.6 L912.4 367.1 L913.8 363.7 L915.3 360.5 L916.7 357.5 L918.1 354.5 L919.5 351.6 L920.9 348.8 L922.3 346.1 L923.7 343.5 L925.1 340.9 L926.5 338.5 L927.9 336.0 L929.3 333.6 L930.7 331.3 L932.1 329.0 L933.5 326.8 L934.9 324.6 L936.3 322.4 L937.7 320.3 L939.2 318.2 L940.6 316.2 L942.0 314.1 L943.4 312.2 L944.8 310.2 L946.2 308.3 L947.6 306.4 L949.0 304.5 L950.4 302.6 L951.8 300.8 L953.2 299.0 L954.6 297.2 L956.0 295.4 L957.4 293.7 L958.8 291.9 L960.2 290.2"/>
<path class="iso" d="M987.0 260.6 L988.4 259.1 L989.8 257.7 L991.2 256.3 L992.6 254.9 L994.0 253.5 L995.4 252.1 L996.8 250.7 L998.2 249.3 L999.6 248.0 L1001.0 246.6 L1002.4 245.3 L1003.8 243.9 L1005.2 242.6 L1006.6 241.3 L1008.0 240.0 L1009.5 238.7 L1010.9 237.4 L1012.3 236.1 L1013.7 234.8 L1015.1 233.5 L1016.5 232.3 L1017.9 231.0 L1019.3 229.7 L1020.7 228.5 L1022.1 227.2 L1023.5 226.0 L1024.9 224.8 L1026.3 223.6 L1027.7 222.3 L1029.1 221.1 L1030.5 219.9 L1032.0 218.7 L1033.4 217.5 L1034.8 216.3 L1036.2 215.2 L1037.6 214.0 L1039.0 212.8 L1040.4 211.6 L1041.8 210.5 L1043.2 209.3 L1044.6 208.2 L1046.0 207.0 L1047.4 205.9 L1048.8 204.7 L1050.2 203.6 L1051.6 202.5 L1053.0 201.4 L1054.4 200.2 L1055.9 199.1 L1057.3 198.0 L1058.7 196.9 L1060.1 195.8 L1061.5 194.7 L1062.9 193.6 L1064.3 192.5 L1065.7 191.5 L1067.1 190.4 L1068.5 189.3 L1069.9 188.2 L1071.3 187.2 L1072.7 186.1 L1074.1 185.0 L1075.5 184.0 L1076.9 182.9 L1078.3 181.9 L1079.8 180.8 L1081.2 179.8"/>
<path class="iso" d="M1044.6 415.3 L1046.0 408.4 L1047.4 402.5 L1048.8 397.4 L1050.2 392.8 L1051.6 388.5 L1053.0 384.5 L1054.4 380.7 L1055.9 377.2 L1057.3 373.8 L1058.7 370.6 L1060.1 367.5 L1061.5 364.5 L1062.9 361.6 L1064.3 358.8 L1065.7 356.0 L1067.1 353.4 L1068.5 350.8 L1069.9 348.3 L1071.3 345.9 L1072.7 343.5 L1074.1 341.1 L1075.5 338.8 L1076.9 336.6 L1078.3 334.4 L1079.8 332.2 L1081.2 330.1"/>
<text class="il" text-anchor="middle" transform="translate(864.2 21.0) rotate(-30)" y="6.2">17.5</text>
<text class="il" text-anchor="middle" transform="translate(773.7 177.3) rotate(-34)" y="6.2">20</text>
<text class="il" text-anchor="middle" transform="translate(1057.7 92.6) rotate(-30)" y="6.2">22.5</text>
<text class="il" text-anchor="middle" transform="translate(974.3 272.7) rotate(-60)" y="6.2">25</text>
</g>
<text x="666.8" y="57.1" font-weight="bold" font-style="italic" font-size="37" fill="#808080">σ<tspan font-size="22.5" dy="4.5" dx="-1.8">0</tspan></text>
<rect class="ax" x="652.8" y="15.6" width="421.8" height="387.9"/>
<path class="ax" d="M652.8 403.5 v6.5 M699.7 403.5 v3.5 M746.5 403.5 v6.5 M793.4 403.5 v3.5 M840.3 403.5 v6.5 M887.1 403.5 v3.5 M934.0 403.5 v6.5 M980.9 403.5 v3.5 M1027.7 403.5 v6.5 M1074.6 403.5 v3.5 M652.8 403.5 h-6.5 M652.8 344.7 h-3.5 M652.8 286.0 h-6.5 M652.8 227.2 h-3.5 M652.8 168.4 h-6.5 M652.8 109.6 h-3.5 M652.8 50.9 h-6.5 "/>
<text class="tk" text-anchor="middle" x="651.3" y="428.0">26</text>
<text class="tk" text-anchor="middle" x="745.0" y="428.0">28</text>
<text class="tk" text-anchor="middle" x="838.8" y="428.0">30</text>
<text class="tk" text-anchor="middle" x="932.5" y="428.0">32</text>
<text class="tk" text-anchor="middle" x="1026.2" y="428.0">34</text>
<text class="tk" text-anchor="end" x="641.0" y="409.1">0</text>
<text class="tk" text-anchor="end" x="639.7" y="290.6">10</text>
<text class="tk" text-anchor="end" x="637.3" y="173.0">20</text>
<text class="tk" text-anchor="end" x="637.0" y="55.5">30</text>
<path d="M1111.1 15.6 L1123.3999999999999 10.3 L1135.6999999999998 15.6 L1135.6999999999998 403.5 L1123.3999999999999 409.1 L1111.1 403.5 Z" fill="url(#cmC)" stroke="#444" stroke-width="0.6"/>
<text class="tk" x="1142.9" y="410.5">0</text>
<text class="tk" x="1142.9" y="345.9">0.01</text>
<text class="tk" x="1142.9" y="281.2">0.02</text>
<text class="tk" x="1142.9" y="216.6">0.03</text>
<text class="tk" x="1142.9" y="151.9">0.04</text>
<text class="tk" x="1142.9" y="87.2">0.05</text>
<text class="tk" x="1142.9" y="22.6">0.06</text>
<path d="M1111.1 338.9 h5 M1130.6999999999998 338.9 h5 M1111.1 274.2 h5 M1130.6999999999998 274.2 h5 M1111.1 209.6 h5 M1130.6999999999998 209.6 h5 M1111.1 144.9 h5 M1130.6999999999998 144.9 h5 M1111.1 80.2 h5 M1130.6999999999998 80.2 h5 " stroke="#222" stroke-width="1.2" fill="none"/>
<text class="odv" textLength="101.5" lengthAdjust="spacingAndGlyphs" transform="translate(1093.5 399.9) rotate(-90)">Ocean Data View</text>
</g>
<g id="panelD">
<clipPath id="clipD"><rect x="652.0" y="447.4" width="421.8" height="387.9"/></clipPath>
<text class="let" x="661.8" y="820.3">D</text>
<text class="ttl" x="704.4" y="822.7">C2 (R.U.)</text>
<g clip-path="url(#clipD)">
<circle cx="696.6" cy="496.1" r="5.2" fill="#e3141a"/>
<circle cx="694.1" cy="496.1" r="5.2" fill="#e3141a"/>
<circle cx="713.6" cy="486.6" r="5.2" fill="#e8380f"/>
<circle cx="714.6" cy="491.1" r="5.2" fill="#e8380f"/>
<circle cx="722.6" cy="497.1" r="5.2" fill="#e8380f"/>
<circle cx="759.1" cy="503.6" r="5.2" fill="#f0800e"/>
<circle cx="785.6" cy="501.6" r="5.2" fill="#ec5a10"/>
<circle cx="829.6" cy="504.1" r="5.2" fill="#e3141a"/>
<circle cx="840.6" cy="544.6" r="5.2" fill="#f0800e"/>
<circle cx="694.6" cy="546.1" r="5.2" fill="#e3141a"/>
<circle cx="754.6" cy="553.1" r="5.2" fill="#e3141a"/>
<circle cx="906.5" cy="488.4" r="5.2" fill="#45b4ea"/>
<circle cx="906.1" cy="496.4" r="5.2" fill="#f5ec14"/>
<circle cx="913.4" cy="501.7" r="5.2" fill="#f5ec14"/>
<circle cx="916.7" cy="503.9" r="5.2" fill="#f5ec14"/>
<circle cx="929.3" cy="502.3" r="5.2" fill="#a0cc30"/>
<circle cx="930.6" cy="495.1" r="5.2" fill="#a0cc30"/>
<circle cx="949.2" cy="487.8" r="5.2" fill="#5cc0d0"/>
<circle cx="956.4" cy="489.1" r="5.2" fill="#a0cc30"/>
<circle cx="888.2" cy="513.6" r="5.2" fill="#f0800e"/>
<circle cx="892.8" cy="521.6" r="5.2" fill="#f5ec14"/>
<circle cx="903.4" cy="511.0" r="5.2" fill="#a8131c"/>
<circle cx="910.1" cy="514.9" r="5.2" fill="#f5ec14"/>
<circle cx="930.6" cy="513.6" r="5.2" fill="#e3141a"/>
<circle cx="931.3" cy="520.9" r="5.2" fill="#f5ec14"/>
<circle cx="920.7" cy="519.6" r="5.2" fill="#f5ec14"/>
<circle cx="919.3" cy="520.9" r="5.2" fill="#f5ec14"/>
<circle cx="904.1" cy="524.2" r="5.2" fill="#fbd00c"/>
<circle cx="908.7" cy="530.2" r="5.2" fill="#fbd00c"/>
<circle cx="916.0" cy="526.2" r="5.2" fill="#fbb80c"/>
<circle cx="925.3" cy="524.9" r="5.2" fill="#c5d81e"/>
<circle cx="928.0" cy="528.8" r="5.2" fill="#f5ec14"/>
<circle cx="898.1" cy="540.8" r="5.2" fill="#861018"/>
<circle cx="920.7" cy="539.4" r="5.2" fill="#f0800e"/>
<circle cx="901.5" cy="532.8" r="5.2" fill="#fbb80c"/>
<circle cx="904.1" cy="538.1" r="5.2" fill="#fbd00c"/>
<circle cx="915.4" cy="535.5" r="5.2" fill="#fbd00c"/>
<circle cx="905.4" cy="546.1" r="5.2" fill="#ec5a10"/>
<circle cx="913.4" cy="548.7" r="5.2" fill="#fbb80c"/>
<circle cx="887.3" cy="546.7" r="5.2" fill="#e3141a"/>
<circle cx="933.7" cy="542.8" r="5.2" fill="#c5d81e"/>
<circle cx="954.1" cy="546.7" r="5.2" fill="#a0cc30"/>
<circle cx="925.3" cy="554.7" r="5.2" fill="#e8380f"/>
<circle cx="898.1" cy="560.0" r="5.2" fill="#fbb80c"/>
<circle cx="900.8" cy="565.9" r="5.2" fill="#fbb80c"/>
<circle cx="896.2" cy="564.6" r="5.2" fill="#fbb80c"/>
<circle cx="903.4" cy="572.6" r="5.2" fill="#f5ec14"/>
<circle cx="942.5" cy="559.3" r="5.2" fill="#f5ec14"/>
<circle cx="929.3" cy="566.6" r="5.2" fill="#f5ec14"/>
<circle cx="947.2" cy="567.9" r="5.2" fill="#f0800e"/>
<circle cx="944.5" cy="571.9" r="5.2" fill="#f5980c"/>
<circle cx="939.9" cy="564.0" r="5.2" fill="#f5980c"/>
<circle cx="965.7" cy="573.2" r="5.2" fill="#f5ec14"/>
<circle cx="1053.2" cy="544.7" r="5.2" fill="#5cc0d0"/>
<circle cx="869.7" cy="579.9" r="5.2" fill="#a0cc30"/>
<circle cx="924.6" cy="580.5" r="5.2" fill="#f5980c"/>
<circle cx="935.5" cy="580.8" r="5.2" fill="#a0cc30"/>
<circle cx="951.8" cy="581.2" r="5.2" fill="#5cc0d0"/>
<circle cx="951.1" cy="585.8" r="5.2" fill="#a0cc30"/>
<circle cx="943.2" cy="592.5" r="5.2" fill="#f5ec14"/>
<circle cx="963.7" cy="597.1" r="5.2" fill="#c5d81e"/>
<circle cx="919.3" cy="599.8" r="5.2" fill="#f5ec14"/>
<circle cx="918.0" cy="603.1" r="5.2" fill="#f5ec14"/>
<circle cx="937.9" cy="606.4" r="5.2" fill="#f5ec14"/>
<circle cx="935.9" cy="605.7" r="5.2" fill="#e3141a"/>
<circle cx="948.5" cy="602.0" r="5.2" fill="#a0cc30"/>
<circle cx="953.1" cy="610.0" r="5.2" fill="#f5ec14"/>
<circle cx="939.9" cy="619.0" r="5.2" fill="#f5ec14"/>
<circle cx="922.7" cy="622.7" r="5.2" fill="#a0cc30"/>
<circle cx="928.9" cy="629.8" r="5.2" fill="#a0cc30"/>
<circle cx="953.1" cy="631.6" r="5.2" fill="#80c460"/>
<circle cx="946.5" cy="633.8" r="5.2" fill="#f0800e"/>
<circle cx="935.2" cy="641.8" r="5.2" fill="#fbd00c"/>
<circle cx="975.6" cy="606.4" r="5.2" fill="#a8131c"/>
<circle cx="985.6" cy="615.0" r="5.2" fill="#6cc3b0"/>
<circle cx="981.9" cy="609.7" r="5.2" fill="#2545a5"/>
<circle cx="991.5" cy="611.9" r="5.2" fill="#80c460"/>
<circle cx="998.2" cy="589.6" r="5.2" fill="#80c490"/>
<circle cx="1020.7" cy="593.1" r="5.2" fill="#e3141a"/>
<circle cx="1026.7" cy="593.1" r="5.2" fill="#f5ec14"/>
<circle cx="1061.1" cy="589.8" r="5.2" fill="#3580d0"/>
<circle cx="1036.6" cy="622.3" r="5.2" fill="#fbd00c"/>
<circle cx="1033.9" cy="614.3" r="5.2" fill="#f5ec14"/>
<circle cx="1067.7" cy="616.3" r="5.2" fill="#2d62bb"/>
<circle cx="1056.5" cy="620.6" r="5.2" fill="#2545a5"/>
<circle cx="1057.8" cy="619.6" r="5.2" fill="#fbb80c"/>
<circle cx="1027.3" cy="623.6" r="5.2" fill="#45b4ea"/>
<circle cx="1033.9" cy="625.6" r="5.2" fill="#fbd00c"/>
<circle cx="983.6" cy="626.9" r="5.2" fill="#c5d81e"/>
<circle cx="975.0" cy="628.9" r="5.2" fill="#5cc0d0"/>
<circle cx="991.9" cy="632.0" r="5.2" fill="#a8131c"/>
<circle cx="1002.1" cy="632.2" r="5.2" fill="#45b4ea"/>
<circle cx="1007.4" cy="638.8" r="5.2" fill="#6cc3b0"/>
<circle cx="1012.7" cy="632.9" r="5.2" fill="#5cc0d0"/>
<circle cx="1029.3" cy="634.9" r="5.2" fill="#45b4ea"/>
<circle cx="1042.8" cy="634.6" r="5.2" fill="#5cc0d0"/>
<circle cx="1020.7" cy="642.8" r="5.2" fill="#45b4ea"/>
<circle cx="1026.0" cy="650.8" r="5.2" fill="#a0cc30"/>
<circle cx="1030.6" cy="648.1" r="5.2" fill="#a0cc30"/>
<circle cx="1035.9" cy="646.8" r="5.2" fill="#3580d0"/>
<circle cx="1031.3" cy="654.7" r="5.2" fill="#a0cc30"/>
<circle cx="1027.3" cy="661.4" r="5.2" fill="#5cc0d0"/>
<circle cx="1012.7" cy="656.7" r="5.2" fill="#80c460"/>
<circle cx="987.6" cy="650.8" r="5.2" fill="#80c490"/>
<circle cx="972.3" cy="653.2" r="5.2" fill="#a0cc30"/>
<circle cx="988.9" cy="661.6" r="5.2" fill="#5cc0d0"/>
<circle cx="969.0" cy="664.7" r="5.2" fill="#80c460"/>
<circle cx="975.0" cy="662.7" r="5.2" fill="#80c490"/>
<circle cx="976.3" cy="670.0" r="5.2" fill="#c5d81e"/>
<circle cx="1050.5" cy="651.4" r="5.2" fill="#a8131c"/>
<circle cx="1061.1" cy="646.8" r="5.2" fill="#2545a5"/>
<circle cx="1061.8" cy="653.4" r="5.2" fill="#2545a5"/>
<circle cx="1059.1" cy="666.7" r="5.2" fill="#2545a5"/>
<circle cx="1051.8" cy="665.3" r="5.2" fill="#fbb80c"/>
<circle cx="1053.2" cy="660.7" r="5.2" fill="#fbb80c"/>
<circle cx="1060.4" cy="662.7" r="5.2" fill="#c5d81e"/>
<circle cx="1047.9" cy="654.7" r="5.2" fill="#5cc0d0"/>
<circle cx="956.4" cy="677.6" r="5.2" fill="#80c460"/>
<circle cx="979.6" cy="681.2" r="5.2" fill="#6cc3b0"/>
<circle cx="968.1" cy="686.9" r="5.2" fill="#45b4ea"/>
<circle cx="1006.1" cy="682.9" r="5.2" fill="#a0cc30"/>
<circle cx="992.9" cy="689.6" r="5.2" fill="#80c490"/>
<circle cx="984.0" cy="689.2" r="5.2" fill="#a0cc30"/>
<circle cx="973.9" cy="695.8" r="5.2" fill="#80c460"/>
<circle cx="998.2" cy="696.4" r="5.2" fill="#ec5a10"/>
<circle cx="1000.8" cy="697.8" r="5.2" fill="#c5d81e"/>
<circle cx="998.8" cy="703.3" r="5.2" fill="#f5ec14"/>
<circle cx="993.8" cy="707.3" r="5.2" fill="#f5ec14"/>
<circle cx="949.8" cy="700.4" r="5.2" fill="#f0800e"/>
<circle cx="959.1" cy="703.1" r="5.2" fill="#f0800e"/>
<circle cx="963.1" cy="707.7" r="5.2" fill="#fbd00c"/>
<circle cx="962.8" cy="712.3" r="5.2" fill="#fbd00c"/>
<circle cx="975.0" cy="703.7" r="5.2" fill="#fbd00c"/>
<circle cx="979.6" cy="713.0" r="5.2" fill="#f5ec14"/>
<circle cx="952.5" cy="715.7" r="5.2" fill="#e3141a"/>
<circle cx="954.5" cy="716.3" r="5.2" fill="#f5ec14"/>
<circle cx="966.8" cy="722.3" r="5.2" fill="#f0800e"/>
<circle cx="955.1" cy="723.6" r="5.2" fill="#fbd00c"/>
<circle cx="958.4" cy="723.6" r="5.2" fill="#80c460"/>
<circle cx="959.5" cy="730.9" r="5.2" fill="#f5ec14"/>
<circle cx="1048.1" cy="701.7" r="5.2" fill="#f5ec14"/>
<circle cx="1050.5" cy="709.4" r="5.2" fill="#fbb80c"/>
<circle cx="1038.6" cy="779.9" r="5.2" fill="#6cc3b0"/>
<circle cx="1039.2" cy="784.6" r="5.2" fill="#6cc3b0"/>
<circle cx="903.6" cy="513.0" r="5.2" fill="#f0800e"/>
<circle cx="929.2" cy="515.0" r="5.2" fill="#f5980c"/>
<circle cx="1005.4" cy="629.0" r="5.2" fill="#c5d81e"/>
<circle cx="871.7" cy="558.5" r="0.7" fill="#9a9a9a"/>
<circle cx="938.0" cy="534.0" r="0.7" fill="#9a9a9a"/>
<circle cx="979.1" cy="556.1" r="0.7" fill="#9a9a9a"/>
<circle cx="1045.3" cy="613.5" r="0.7" fill="#9a9a9a"/>
<circle cx="1054.6" cy="633.4" r="0.7" fill="#9a9a9a"/>
<circle cx="1051.9" cy="636.1" r="0.7" fill="#9a9a9a"/>
<circle cx="1040.7" cy="663.2" r="0.7" fill="#9a9a9a"/>
<circle cx="1044.0" cy="675.8" r="0.7" fill="#9a9a9a"/>
<circle cx="1055.9" cy="673.2" r="0.7" fill="#9a9a9a"/>
<circle cx="1054.6" cy="679.8" r="0.7" fill="#9a9a9a"/>
<circle cx="1046.0" cy="732.7" r="0.7" fill="#9a9a9a"/>
<circle cx="1042.4" cy="744.9" r="0.7" fill="#9a9a9a"/>
<circle cx="1042.0" cy="770.9" r="0.7" fill="#9a9a9a"/>
<circle cx="1038.3" cy="802.6" r="0.7" fill="#9a9a9a"/>
<circle cx="1036.8" cy="820.0" r="0.7" fill="#9a9a9a"/>
<circle cx="1036.8" cy="824.8" r="0.7" fill="#9a9a9a"/>
</g>
<g clip-path="url(#clipD)">
<path class="iso" d="M647.3 483.2 L648.7 482.4 L650.1 481.6 L651.5 480.8 L652.9 480.0 L654.3 479.3 L655.7 478.5 L657.2 477.7 L658.6 476.9 L660.0 476.1 L661.4 475.4 L662.8 474.6 L664.2 473.8 L665.6 473.0 L667.0 472.3 L668.4 471.5 L669.8 470.7 L671.2 470.0 L672.6 469.2 L674.0 468.5 L675.4 467.7 L676.8 466.9 L678.2 466.2 L679.7 465.4 L681.1 464.7 L682.5 463.9 L683.9 463.1 L685.3 462.4 L686.7 461.6 L688.1 460.9 L689.5 460.1 L690.9 459.4 L692.3 458.6 L693.7 457.9 L695.1 457.2 L696.5 456.4 L697.9 455.7 L699.3 454.9 L700.7 454.2 L702.1 453.5 L703.6 452.7 L705.0 452.0 L706.4 451.2 L707.8 450.5 L709.2 449.8 L710.6 449.0 L712.0 448.3 L713.4 447.6 L714.8 446.9 L716.2 446.1 L717.6 445.4 L719.0 444.7 L720.4 444.0 L721.8 443.2 L723.2 442.5 L724.6 441.8 L726.0 441.1 L727.5 440.4 L728.9 439.6 L730.3 438.9 L731.7 438.2 L733.1 437.5 L734.5 436.8 L735.9 436.1 L737.3 435.4 L738.7 434.6 L740.1 433.9 L741.5 433.2 L742.9 432.5 L744.3 431.8 L745.7 431.1 L747.1 430.4"/>
<path class="iso" d="M647.3 584.0 L648.7 583.0 L650.1 582.0 L651.5 581.0 L652.9 580.0 L654.3 579.0 L655.7 578.0 L657.2 577.0 L658.6 576.0 L660.0 575.0 L661.4 574.0 L662.8 573.0 L664.2 572.0 L665.6 571.0 L667.0 570.0 L668.4 569.1 L669.8 568.1 L671.2 567.1 L672.6 566.1 L674.0 565.2 L675.4 564.2 L676.8 563.3 L678.2 562.3 L679.7 561.3 L681.1 560.4 L682.5 559.4 L683.9 558.5 L685.3 557.6 L686.7 556.6 L688.1 555.7 L689.5 554.7 L690.9 553.8 L692.3 552.9 L693.7 551.9 L695.1 551.0 L696.5 550.1 L697.9 549.2 L699.3 548.3 L700.7 547.3 L702.1 546.4 L703.6 545.5 L705.0 544.6 L706.4 543.7 L707.8 542.8 L709.2 541.9 L710.6 541.0 L712.0 540.1 L713.4 539.2 L714.8 538.3 L716.2 537.4 L717.6 536.5 L719.0 535.7 L720.4 534.8 L721.8 533.9 L723.2 533.0 L724.6 532.1 L726.0 531.3 L727.5 530.4 L728.9 529.5 L730.3 528.6 L731.7 527.8 L733.1 526.9 L734.5 526.1 L735.9 525.2 L737.3 524.3 L738.7 523.5 L740.1 522.6 L741.5 521.8 L742.9 520.9 L744.3 520.1 L745.7 519.2 L747.1 518.4 L748.5 517.5 L750.0 516.7 L751.4 515.8 L752.8 515.0 L754.2 514.2 L755.6 513.3 L757.0 512.5 L758.4 511.7 L759.8 510.8 L761.2 510.0 L762.6 509.2 L764.0 508.4 L765.4 507.5 L766.8 506.7 L768.2 505.9 L769.6 505.1 L771.0 504.3 L772.4 503.4 L773.9 502.6 L775.3 501.8 L776.7 501.0 L778.1 500.2 L779.5 499.4 L780.9 498.6 L782.3 497.8 L783.7 497.0 L785.1 496.2 L786.5 495.4 L787.9 494.6 L789.3 493.8 L790.7 493.0 L792.1 492.2 L793.5 491.4 L794.9 490.6 L796.3 489.8 L797.8 489.0 L799.2 488.3 L800.6 487.5 L802.0 486.7 L803.4 485.9 L804.8 485.1 L806.2 484.3 L807.6 483.6 L809.0 482.8 L810.4 482.0 L811.8 481.2 L813.2 480.5 L814.6 479.7 L816.0 478.9 L817.4 478.2 L818.8 477.4 L820.3 476.6 L821.7 475.9 L823.1 475.1 L824.5 474.3 L825.9 473.6 L827.3 472.8 L828.7 472.1 L830.1 471.3 L831.5 470.5 L832.9 469.8 L834.3 469.0 L835.7 468.3 L837.1 467.5"/>
<path class="iso" d="M647.3 734.1 L648.7 732.0 L650.1 730.0 L651.5 728.0 L652.9 726.0 L654.3 724.0 L655.7 722.1 L657.2 720.2 L658.6 718.3 L660.0 716.5 L661.4 714.6 L662.8 712.8 L664.2 711.0 L665.6 709.3 L667.0 707.5 L668.4 705.8 L669.8 704.1 L671.2 702.4 L672.6 700.7 L674.0 699.1 L675.4 697.5 L676.8 695.8 L678.2 694.2 L679.7 692.6 L681.1 691.1 L682.5 689.5 L683.9 688.0 L685.3 686.4 L686.7 684.9 L688.1 683.4 L689.5 681.9 L690.9 680.4 L692.3 678.9 L693.7 677.5 L695.1 676.0 L696.5 674.6 L697.9 673.1 L699.3 671.7 L700.7 670.3 L702.1 668.9 L703.6 667.5 L705.0 666.1 L706.4 664.8 L707.8 663.4 L709.2 662.0 L710.6 660.7 L712.0 659.4 L713.4 658.0 L714.8 656.7 L716.2 655.4 L717.6 654.1 L719.0 652.8 L720.4 651.5 L721.8 650.2 L723.2 648.9 L724.6 647.7 L726.0 646.4 L727.5 645.2 L728.9 643.9 L730.3 642.7 L731.7 641.4 L733.1 640.2 L734.5 639.0 L735.9 637.8 L737.3 636.6 L738.7 635.4 L740.1 634.2 L741.5 633.0 L742.9 631.8 L744.3 630.6 L745.7 629.4 L747.1 628.3 L748.5 627.1 L750.0 625.9 L751.4 624.8 L752.8 623.6 L754.2 622.5 L755.6 621.3 L757.0 620.2"/>
<path class="iso" d="M786.5 597.4 L787.9 596.4 L789.3 595.3 L790.7 594.3 L792.1 593.3 L793.5 592.2 L794.9 591.2 L796.3 590.2 L797.8 589.2 L799.2 588.2 L800.6 587.1 L802.0 586.1 L803.4 585.1 L804.8 584.1 L806.2 583.1 L807.6 582.1 L809.0 581.1 L810.4 580.2 L811.8 579.2 L813.2 578.2 L814.6 577.2 L816.0 576.2 L817.4 575.3 L818.8 574.3 L820.3 573.3 L821.7 572.4 L823.1 571.4 L824.5 570.4 L825.9 569.5 L827.3 568.5 L828.7 567.6 L830.1 566.6 L831.5 565.7 L832.9 564.7 L834.3 563.8 L835.7 562.9 L837.1 561.9 L838.5 561.0 L839.9 560.1 L841.3 559.1 L842.7 558.2 L844.2 557.3 L845.6 556.4 L847.0 555.5 L848.4 554.5 L849.8 553.6 L851.2 552.7 L852.6 551.8 L854.0 550.9 L855.4 550.0 L856.8 549.1 L858.2 548.2 L859.6 547.3 L861.0 546.4 L862.4 545.5 L863.8 544.6 L865.2 543.7 L866.6 542.9 L868.1 542.0 L869.5 541.1 L870.9 540.2 L872.3 539.3 L873.7 538.5 L875.1 537.6 L876.5 536.7 L877.9 535.8 L879.3 535.0 L880.7 534.1 L882.1 533.2 L883.5 532.4 L884.9 531.5 L886.3 530.7 L887.7 529.8 L889.1 529.0 L890.6 528.1 L892.0 527.3 L893.4 526.4 L894.8 525.6 L896.2 524.7 L897.6 523.9 L899.0 523.0 L900.4 522.2 L901.8 521.4 L903.2 520.5 L904.6 519.7 L906.0 518.9 L907.4 518.0 L908.8 517.2 L910.2 516.4 L911.6 515.5 L913.0 514.7 L914.5 513.9 L915.9 513.1 L917.3 512.3 L918.7 511.4 L920.1 510.6 L921.5 509.8 L922.9 509.0 L924.3 508.2 L925.7 507.4 L927.1 506.6 L928.5 505.8 L929.9 505.0 L931.3 504.2 L932.7 503.4 L934.1 502.6 L935.5 501.8 L936.9 501.0 L938.4 500.2 L939.8 499.4 L941.2 498.6 L942.6 497.8 L944.0 497.0 L945.4 496.2 L946.8 495.4 L948.2 494.6 L949.6 493.8 L951.0 493.1 L952.4 492.3 L953.8 491.5 L955.2 490.7 L956.6 490.0 L958.0 489.2 L959.4 488.4 L960.9 487.6 L962.3 486.9 L963.7 486.1 L965.1 485.3 L966.5 484.5 L967.9 483.8 L969.3 483.0 L970.7 482.3 L972.1 481.5 L973.5 480.7 L974.9 480.0 L976.3 479.2 L977.7 478.5 L979.1 477.7 L980.5 476.9 L981.9 476.2 L983.3 475.4 L984.8 474.7 L986.2 473.9 L987.6 473.2 L989.0 472.4 L990.4 471.7 L991.8 470.9 L993.2 470.2 L994.6 469.5 L996.0 468.7 L997.4 468.0 L998.8 467.2 L1000.2 466.5 L1001.6 465.8 L1003.0 465.0 L1004.4 464.3 L1005.8 463.6 L1007.2 462.8 L1008.7 462.1 L1010.1 461.4 L1011.5 460.6 L1012.9 459.9 L1014.3 459.2 L1015.7 458.4 L1017.1 457.7 L1018.5 457.0 L1019.9 456.3 L1021.3 455.6 L1022.7 454.8 L1024.1 454.1 L1025.5 453.4 L1026.9 452.7 L1028.3 452.0 L1029.7 451.2 L1031.2 450.5 L1032.6 449.8 L1034.0 449.1 L1035.4 448.4 L1036.8 447.7 L1038.2 447.0 L1039.6 446.3 L1041.0 445.6 L1042.4 444.8 L1043.8 444.1 L1045.2 443.4 L1046.6 442.7 L1048.0 442.0 L1049.4 441.3 L1050.8 440.6 L1052.2 439.9 L1053.6 439.2 L1055.1 438.5 L1056.5 437.8 L1057.9 437.1 L1059.3 436.4 L1060.7 435.7 L1062.1 435.1 L1063.5 434.4 L1064.9 433.7 L1066.3 433.0 L1067.7 432.3 L1069.1 431.6 L1070.5 430.9 L1071.9 430.2"/>
<path class="iso" d="M754.2 839.4 L755.6 829.5 L757.0 822.3 L758.4 816.3 L759.8 811.1 L761.2 806.4 L762.6 802.0 L764.0 798.0 L765.4 794.3 L766.8 790.7 L768.2 787.3 L769.6 784.0 L771.0 780.9 L772.4 777.9 L773.9 775.0 L775.3 772.2 L776.7 769.5 L778.1 766.8 L779.5 764.3 L780.9 761.8 L782.3 759.3 L783.7 756.9 L785.1 754.6 L786.5 752.3 L787.9 750.0 L789.3 747.8 L790.7 745.7 L792.1 743.5 L793.5 741.5 L794.9 739.4 L796.3 737.4 L797.8 735.4 L799.2 733.4 L800.6 731.5 L802.0 729.6 L803.4 727.7 L804.8 725.8 L806.2 724.0 L807.6 722.2 L809.0 720.4 L810.4 718.6 L811.8 716.9 L813.2 715.1 L814.6 713.4 L816.0 711.7 L817.4 710.0 L818.8 708.4 L820.3 706.7 L821.7 705.1 L823.1 703.5 L824.5 701.9 L825.9 700.3 L827.3 698.7 L828.7 697.2 L830.1 695.6 L831.5 694.1 L832.9 692.6 L834.3 691.1 L835.7 689.6 L837.1 688.1 L838.5 686.7 L839.9 685.2 L841.3 683.8 L842.7 682.3 L844.2 680.9 L845.6 679.5 L847.0 678.1 L848.4 676.7 L849.8 675.3 L851.2 673.9 L852.6 672.5 L854.0 671.2 L855.4 669.8 L856.8 668.5 L858.2 667.1 L859.6 665.8 L861.0 664.5 L862.4 663.2 L863.8 661.9 L865.2 660.6 L866.6 659.3 L868.1 658.0 L869.5 656.8 L870.9 655.5 L872.3 654.2 L873.7 653.0 L875.1 651.7 L876.5 650.5 L877.9 649.3 L879.3 648.0 L880.7 646.8 L882.1 645.6 L883.5 644.4 L884.9 643.2 L886.3 642.0 L887.7 640.8 L889.1 639.6 L890.6 638.4 L892.0 637.2 L893.4 636.1 L894.8 634.9 L896.2 633.8 L897.6 632.6 L899.0 631.4 L900.4 630.3 L901.8 629.2 L903.2 628.0 L904.6 626.9 L906.0 625.8 L907.4 624.7 L908.8 623.5 L910.2 622.4 L911.6 621.3 L913.0 620.2 L914.5 619.1 L915.9 618.0 L917.3 616.9 L918.7 615.9 L920.1 614.8 L921.5 613.7 L922.9 612.6 L924.3 611.6 L925.7 610.5 L927.1 609.4 L928.5 608.4 L929.9 607.3 L931.3 606.3 L932.7 605.2 L934.1 604.2 L935.5 603.1 L936.9 602.1 L938.4 601.1 L939.8 600.0 L941.2 599.0 L942.6 598.0 L944.0 597.0 L945.4 596.0 L946.8 595.0 L948.2 593.9 L949.6 592.9 L951.0 591.9 L952.4 590.9 L953.8 589.9 L955.2 589.0 L956.6 588.0 L958.0 587.0 L959.4 586.0 L960.9 585.0 L962.3 584.0 L963.7 583.1 L965.1 582.1 L966.5 581.1 L967.9 580.2 L969.3 579.2 L970.7 578.2 L972.1 577.3 L973.5 576.3 L974.9 575.4 L976.3 574.4 L977.7 573.5 L979.1 572.5 L980.5 571.6 L981.9 570.7 L983.3 569.7 L984.8 568.8 L986.2 567.9 L987.6 566.9 L989.0 566.0 L990.4 565.1 L991.8 564.2 L993.2 563.2 L994.6 562.3 L996.0 561.4 L997.4 560.5 L998.8 559.6 L1000.2 558.7 L1001.6 557.8 L1003.0 556.9 L1004.4 556.0 L1005.8 555.1 L1007.2 554.2 L1008.7 553.3 L1010.1 552.4 L1011.5 551.5 L1012.9 550.6 L1014.3 549.7 L1015.7 548.8 L1017.1 548.0 L1018.5 547.1 L1019.9 546.2 L1021.3 545.3 L1022.7 544.5 L1024.1 543.6 L1025.5 542.7 L1026.9 541.9 L1028.3 541.0 L1029.7 540.1 L1031.2 539.3"/>
<path class="iso" d="M899.0 844.9 L900.4 836.3 L901.8 829.6 L903.2 823.9 L904.6 818.8 L906.0 814.3 L907.4 810.1 L908.8 806.1 L910.2 802.4 L911.6 798.9 L913.0 795.5 L914.5 792.3 L915.9 789.3 L917.3 786.3 L918.7 783.4 L920.1 780.6 L921.5 777.9 L922.9 775.3 L924.3 772.7 L925.7 770.3 L927.1 767.8 L928.5 765.4 L929.9 763.1 L931.3 760.8 L932.7 758.6 L934.1 756.4 L935.5 754.2 L936.9 752.1 L938.4 750.0 L939.8 748.0 L941.2 745.9 L942.6 744.0 L944.0 742.0 L945.4 740.1 L946.8 738.2 L948.2 736.3 L949.6 734.4 L951.0 732.6 L952.4 730.8 L953.8 729.0 L955.2 727.2 L956.6 725.5 L958.0 723.7 L959.4 722.0"/>
<path class="iso" d="M986.2 692.4 L987.6 690.9 L989.0 689.5 L990.4 688.1 L991.8 686.7 L993.2 685.3 L994.6 683.9 L996.0 682.5 L997.4 681.1 L998.8 679.8 L1000.2 678.4 L1001.6 677.1 L1003.0 675.7 L1004.4 674.4 L1005.8 673.1 L1007.2 671.8 L1008.7 670.5 L1010.1 669.2 L1011.5 667.9 L1012.9 666.6 L1014.3 665.3 L1015.7 664.1 L1017.1 662.8 L1018.5 661.5 L1019.9 660.3 L1021.3 659.0 L1022.7 657.8 L1024.1 656.6 L1025.5 655.4 L1026.9 654.1 L1028.3 652.9 L1029.7 651.7 L1031.2 650.5 L1032.6 649.3 L1034.0 648.1 L1035.4 647.0 L1036.8 645.8 L1038.2 644.6 L1039.6 643.4 L1041.0 642.3 L1042.4 641.1 L1043.8 640.0 L1045.2 638.8 L1046.6 637.7 L1048.0 636.5 L1049.4 635.4 L1050.8 634.3 L1052.2 633.2 L1053.6 632.0 L1055.1 630.9 L1056.5 629.8 L1057.9 628.7 L1059.3 627.6 L1060.7 626.5 L1062.1 625.4 L1063.5 624.3 L1064.9 623.3 L1066.3 622.2 L1067.7 621.1 L1069.1 620.0 L1070.5 619.0 L1071.9 617.9 L1073.3 616.8 L1074.7 615.8 L1076.1 614.7 L1077.5 613.7 L1079.0 612.6 L1080.4 611.6"/>
<path class="iso" d="M1043.8 847.1 L1045.2 840.2 L1046.6 834.3 L1048.0 829.2 L1049.4 824.6 L1050.8 820.3 L1052.2 816.3 L1053.6 812.5 L1055.1 809.0 L1056.5 805.6 L1057.9 802.4 L1059.3 799.3 L1060.7 796.3 L1062.1 793.4 L1063.5 790.6 L1064.9 787.8 L1066.3 785.2 L1067.7 782.6 L1069.1 780.1 L1070.5 777.7 L1071.9 775.3 L1073.3 772.9 L1074.7 770.6 L1076.1 768.4 L1077.5 766.2 L1079.0 764.0 L1080.4 761.9"/>
<text class="il" text-anchor="middle" transform="translate(863.4 452.8) rotate(-30)" y="6.2">17.5</text>
<text class="il" text-anchor="middle" transform="translate(772.9 609.1) rotate(-34)" y="6.2">20</text>
<text class="il" text-anchor="middle" transform="translate(1056.9 524.4) rotate(-30)" y="6.2">22.5</text>
<text class="il" text-anchor="middle" transform="translate(973.5 704.5) rotate(-60)" y="6.2">25</text>
</g>
<text x="666.0" y="488.9" font-weight="bold" font-style="italic" font-size="37" fill="#808080">σ<tspan font-size="22.5" dy="4.5" dx="-1.8">0</tspan></text>
<rect class="ax" x="652.0" y="447.4" width="421.8" height="387.9"/>
<path class="ax" d="M652.0 835.3 v6.5 M698.9 835.3 v3.5 M745.7 835.3 v6.5 M792.6 835.3 v3.5 M839.5 835.3 v6.5 M886.3 835.3 v3.5 M933.2 835.3 v6.5 M980.1 835.3 v3.5 M1026.9 835.3 v6.5 M1073.8 835.3 v3.5 M652.0 835.3 h-6.5 M652.0 776.5 h-3.5 M652.0 717.8 h-6.5 M652.0 659.0 h-3.5 M652.0 600.2 h-6.5 M652.0 541.4 h-3.5 M652.0 482.7 h-6.5 "/>
<text class="tk" text-anchor="middle" x="650.5" y="859.8">26</text>
<text class="tk" text-anchor="middle" x="744.2" y="859.8">28</text>
<text class="tk" text-anchor="middle" x="838.0" y="859.8">30</text>
<text class="tk" text-anchor="middle" x="931.7" y="859.8">32</text>
<text class="tk" text-anchor="middle" x="1025.4" y="859.8">34</text>
<text class="tk" text-anchor="end" x="640.2" y="840.9">0</text>
<text class="tk" text-anchor="end" x="638.9" y="722.4">10</text>
<text class="tk" text-anchor="end" x="636.5" y="604.8">20</text>
<text class="tk" text-anchor="end" x="636.2" y="487.3">30</text>
<path d="M1110.3 447.4 L1122.6 442.09999999999997 L1134.8999999999999 447.4 L1134.8999999999999 835.3 L1122.6 840.9 L1110.3 835.3 Z" fill="url(#cmD)" stroke="#444" stroke-width="0.6"/>
<text class="tk" x="1142.1" y="842.3">0</text>
<text class="tk" x="1142.1" y="764.7">0.02</text>
<text class="tk" x="1142.1" y="687.1">0.04</text>
<text class="tk" x="1142.1" y="609.6">0.06</text>
<text class="tk" x="1142.1" y="532.0">0.08</text>
<text class="tk" x="1142.1" y="454.4">0.1</text>
<path d="M1110.3 757.7 h5 M1129.8999999999999 757.7 h5 M1110.3 680.1 h5 M1129.8999999999999 680.1 h5 M1110.3 602.6 h5 M1129.8999999999999 602.6 h5 M1110.3 525.0 h5 M1129.8999999999999 525.0 h5 " stroke="#222" stroke-width="1.2" fill="none"/>
<text class="odv" textLength="101.5" lengthAdjust="spacingAndGlyphs" transform="translate(1092.7 831.7) rotate(-90)">Ocean Data View</text>
</g>
<g id="panelE">
<clipPath id="clipE"><rect x="1226.6" y="15.0" width="421.8" height="387.9"/></clipPath>
<text class="let" x="1236.4" y="387.3">E</text>
<text class="ttl" x="1279.0" y="391.7">C3 (R.U.)</text>
<g clip-path="url(#clipE)">
<circle cx="1271.3" cy="62.9" r="5.2" fill="#e8380f"/>
<circle cx="1268.8" cy="62.9" r="5.2" fill="#e8380f"/>
<circle cx="1288.3" cy="53.4" r="5.2" fill="#fbb80c"/>
<circle cx="1289.3" cy="57.9" r="5.2" fill="#f5980c"/>
<circle cx="1297.3" cy="63.9" r="5.2" fill="#f0800e"/>
<circle cx="1333.8" cy="70.4" r="5.2" fill="#fbd00c"/>
<circle cx="1360.3" cy="68.4" r="5.2" fill="#f5ec14"/>
<circle cx="1404.3" cy="70.9" r="5.2" fill="#c5d81e"/>
<circle cx="1415.3" cy="111.4" r="5.2" fill="#fbd00c"/>
<circle cx="1269.3" cy="112.9" r="5.2" fill="#861018"/>
<circle cx="1329.3" cy="119.9" r="5.2" fill="#e3141a"/>
<circle cx="1481.2" cy="55.2" r="5.2" fill="#45b4ea"/>
<circle cx="1480.8" cy="63.2" r="5.2" fill="#5cc0d0"/>
<circle cx="1488.1" cy="68.5" r="5.2" fill="#6cc3b0"/>
<circle cx="1491.4" cy="70.7" r="5.2" fill="#fbd00c"/>
<circle cx="1504.0" cy="69.1" r="5.2" fill="#3580d0"/>
<circle cx="1505.3" cy="61.9" r="5.2" fill="#3580d0"/>
<circle cx="1523.9" cy="54.6" r="5.2" fill="#2545a5"/>
<circle cx="1531.1" cy="55.9" r="5.2" fill="#2d62bb"/>
<circle cx="1462.9" cy="80.4" r="5.2" fill="#c5d81e"/>
<circle cx="1467.5" cy="88.4" r="5.2" fill="#a0cc30"/>
<circle cx="1478.1" cy="77.8" r="5.2" fill="#6cc3b0"/>
<circle cx="1484.8" cy="81.7" r="5.2" fill="#6cc3b0"/>
<circle cx="1505.3" cy="80.4" r="5.2" fill="#6cc3b0"/>
<circle cx="1506.0" cy="87.7" r="5.2" fill="#6cc3b0"/>
<circle cx="1495.4" cy="86.4" r="5.2" fill="#80c460"/>
<circle cx="1494.0" cy="87.7" r="5.2" fill="#80c460"/>
<circle cx="1478.8" cy="91.0" r="5.2" fill="#80c460"/>
<circle cx="1483.4" cy="97.0" r="5.2" fill="#5cc0d0"/>
<circle cx="1490.7" cy="93.0" r="5.2" fill="#5cc0d0"/>
<circle cx="1500.0" cy="91.7" r="5.2" fill="#80c490"/>
<circle cx="1502.7" cy="95.6" r="5.2" fill="#a0cc30"/>
<circle cx="1472.8" cy="107.6" r="5.2" fill="#2d62bb"/>
<circle cx="1495.4" cy="106.2" r="5.2" fill="#45b4ea"/>
<circle cx="1476.2" cy="99.6" r="5.2" fill="#c5d81e"/>
<circle cx="1478.8" cy="104.9" r="5.2" fill="#a0cc30"/>
<circle cx="1490.1" cy="102.3" r="5.2" fill="#a0cc30"/>
<circle cx="1480.1" cy="112.9" r="5.2" fill="#fbb80c"/>
<circle cx="1488.1" cy="115.5" r="5.2" fill="#a0cc30"/>
<circle cx="1462.0" cy="113.5" r="5.2" fill="#c5d81e"/>
<circle cx="1508.4" cy="109.6" r="5.2" fill="#a0cc30"/>
<circle cx="1528.8" cy="113.5" r="5.2" fill="#5cc0d0"/>
<circle cx="1500.0" cy="121.5" r="5.2" fill="#80c490"/>
<circle cx="1472.8" cy="126.8" r="5.2" fill="#c5d81e"/>
<circle cx="1475.5" cy="132.7" r="5.2" fill="#c5d81e"/>
<circle cx="1470.9" cy="131.4" r="5.2" fill="#6cc3b0"/>
<circle cx="1478.1" cy="139.4" r="5.2" fill="#c5d81e"/>
<circle cx="1517.2" cy="126.1" r="5.2" fill="#5cc0d0"/>
<circle cx="1504.0" cy="133.4" r="5.2" fill="#c5d81e"/>
<circle cx="1521.9" cy="134.7" r="5.2" fill="#a0cc30"/>
<circle cx="1519.2" cy="138.7" r="5.2" fill="#80c460"/>
<circle cx="1514.6" cy="130.8" r="5.2" fill="#f5ec14"/>
<circle cx="1540.4" cy="140.0" r="5.2" fill="#5cc0d0"/>
<circle cx="1627.9" cy="111.5" r="5.2" fill="#2545a5"/>
<circle cx="1444.4" cy="146.7" r="5.2" fill="#f5ec14"/>
<circle cx="1499.3" cy="147.3" r="5.2" fill="#f5ec14"/>
<circle cx="1510.2" cy="147.6" r="5.2" fill="#a0cc30"/>
<circle cx="1526.5" cy="148.0" r="5.2" fill="#5cc0d0"/>
<circle cx="1525.8" cy="152.6" r="5.2" fill="#5cc0d0"/>
<circle cx="1517.9" cy="159.3" r="5.2" fill="#c5d81e"/>
<circle cx="1538.4" cy="163.9" r="5.2" fill="#80c460"/>
<circle cx="1494.0" cy="166.6" r="5.2" fill="#f5ec14"/>
<circle cx="1492.7" cy="169.9" r="5.2" fill="#80c460"/>
<circle cx="1512.6" cy="173.2" r="5.2" fill="#fbd00c"/>
<circle cx="1510.6" cy="172.5" r="5.2" fill="#f5ec14"/>
<circle cx="1523.2" cy="168.8" r="5.2" fill="#a0cc30"/>
<circle cx="1527.8" cy="176.8" r="5.2" fill="#c5d81e"/>
<circle cx="1514.6" cy="185.8" r="5.2" fill="#f5ec14"/>
<circle cx="1497.4" cy="189.5" r="5.2" fill="#c5d81e"/>
<circle cx="1503.6" cy="196.6" r="5.2" fill="#c5d81e"/>
<circle cx="1527.8" cy="198.4" r="5.2" fill="#a0cc30"/>
<circle cx="1521.2" cy="200.6" r="5.2" fill="#c5d81e"/>
<circle cx="1509.9" cy="208.6" r="5.2" fill="#f5ec14"/>
<circle cx="1550.3" cy="173.2" r="5.2" fill="#80c460"/>
<circle cx="1560.3" cy="181.8" r="5.2" fill="#5cc0d0"/>
<circle cx="1556.6" cy="176.5" r="5.2" fill="#2d62bb"/>
<circle cx="1566.2" cy="178.7" r="5.2" fill="#5cc0d0"/>
<circle cx="1572.9" cy="156.4" r="5.2" fill="#45b4ea"/>
<circle cx="1595.4" cy="159.9" r="5.2" fill="#3580d0"/>
<circle cx="1601.4" cy="159.9" r="5.2" fill="#3580d0"/>
<circle cx="1635.8" cy="156.6" r="5.2" fill="#2545a5"/>
<circle cx="1611.3" cy="189.1" r="5.2" fill="#2545a5"/>
<circle cx="1608.6" cy="181.1" r="5.2" fill="#6cc3b0"/>
<circle cx="1642.4" cy="183.1" r="5.2" fill="#2545a5"/>
<circle cx="1631.2" cy="187.4" r="5.2" fill="#2545a5"/>
<circle cx="1632.5" cy="186.4" r="5.2" fill="#f5ec14"/>
<circle cx="1602.0" cy="190.4" r="5.2" fill="#45b4ea"/>
<circle cx="1608.6" cy="192.4" r="5.2" fill="#f5ec14"/>
<circle cx="1558.3" cy="193.7" r="5.2" fill="#80c460"/>
<circle cx="1549.7" cy="195.7" r="5.2" fill="#a0cc30"/>
<circle cx="1566.6" cy="198.8" r="5.2" fill="#5cc0d0"/>
<circle cx="1576.8" cy="199.0" r="5.2" fill="#80c460"/>
<circle cx="1582.1" cy="205.6" r="5.2" fill="#5cc0d0"/>
<circle cx="1587.4" cy="199.7" r="5.2" fill="#5cc0d0"/>
<circle cx="1604.0" cy="201.7" r="5.2" fill="#3580d0"/>
<circle cx="1617.5" cy="201.4" r="5.2" fill="#6cc3b0"/>
<circle cx="1595.4" cy="209.6" r="5.2" fill="#6cc3b0"/>
<circle cx="1600.7" cy="217.6" r="5.2" fill="#e3141a"/>
<circle cx="1605.3" cy="214.9" r="5.2" fill="#45b4ea"/>
<circle cx="1610.6" cy="213.6" r="5.2" fill="#45b4ea"/>
<circle cx="1606.0" cy="221.5" r="5.2" fill="#45b4ea"/>
<circle cx="1602.0" cy="228.2" r="5.2" fill="#6cc3b0"/>
<circle cx="1587.4" cy="223.5" r="5.2" fill="#6cc3b0"/>
<circle cx="1562.3" cy="217.6" r="5.2" fill="#45b4ea"/>
<circle cx="1547.0" cy="220.0" r="5.2" fill="#a0cc30"/>
<circle cx="1563.6" cy="228.4" r="5.2" fill="#80c460"/>
<circle cx="1543.7" cy="231.5" r="5.2" fill="#a0cc30"/>
<circle cx="1549.7" cy="229.5" r="5.2" fill="#a0cc30"/>
<circle cx="1551.0" cy="236.8" r="5.2" fill="#f5ec14"/>
<circle cx="1625.2" cy="218.2" r="5.2" fill="#2d62bb"/>
<circle cx="1635.8" cy="213.6" r="5.2" fill="#2545a5"/>
<circle cx="1636.5" cy="220.2" r="5.2" fill="#2d62bb"/>
<circle cx="1633.8" cy="233.5" r="5.2" fill="#2545a5"/>
<circle cx="1626.5" cy="232.1" r="5.2" fill="#2d62bb"/>
<circle cx="1627.9" cy="227.5" r="5.2" fill="#a0cc30"/>
<circle cx="1635.1" cy="229.5" r="5.2" fill="#6cc3b0"/>
<circle cx="1622.6" cy="221.5" r="5.2" fill="#3580d0"/>
<circle cx="1531.1" cy="244.4" r="5.2" fill="#a0cc30"/>
<circle cx="1554.3" cy="248.0" r="5.2" fill="#a0cc30"/>
<circle cx="1542.8" cy="253.7" r="5.2" fill="#45b4ea"/>
<circle cx="1580.8" cy="249.7" r="5.2" fill="#a0cc30"/>
<circle cx="1567.6" cy="256.4" r="5.2" fill="#a0cc30"/>
<circle cx="1558.7" cy="256.0" r="5.2" fill="#a0cc30"/>
<circle cx="1548.6" cy="262.6" r="5.2" fill="#c5d81e"/>
<circle cx="1572.9" cy="263.2" r="5.2" fill="#6cc3b0"/>
<circle cx="1575.5" cy="264.6" r="5.2" fill="#a0cc30"/>
<circle cx="1573.5" cy="270.1" r="5.2" fill="#5cc0d0"/>
<circle cx="1568.5" cy="274.1" r="5.2" fill="#c5d81e"/>
<circle cx="1524.5" cy="267.2" r="5.2" fill="#f5980c"/>
<circle cx="1533.8" cy="269.9" r="5.2" fill="#fbb80c"/>
<circle cx="1537.8" cy="274.5" r="5.2" fill="#fbb80c"/>
<circle cx="1537.5" cy="279.1" r="5.2" fill="#fbd00c"/>
<circle cx="1549.7" cy="270.5" r="5.2" fill="#c5d81e"/>
<circle cx="1554.3" cy="279.8" r="5.2" fill="#80c490"/>
<circle cx="1527.2" cy="282.5" r="5.2" fill="#f0800e"/>
<circle cx="1529.2" cy="283.1" r="5.2" fill="#80c490"/>
<circle cx="1541.5" cy="289.1" r="5.2" fill="#c5d81e"/>
<circle cx="1529.8" cy="290.4" r="5.2" fill="#fbb80c"/>
<circle cx="1533.1" cy="290.4" r="5.2" fill="#3580d0"/>
<circle cx="1534.2" cy="297.7" r="5.2" fill="#6cc3b0"/>
<circle cx="1622.8" cy="268.5" r="5.2" fill="#5cc0d0"/>
<circle cx="1625.2" cy="276.2" r="5.2" fill="#a0cc30"/>
<circle cx="1613.3" cy="346.7" r="5.2" fill="#3580d0"/>
<circle cx="1613.9" cy="351.4" r="5.2" fill="#80c460"/>
<circle cx="1446.3" cy="126.1" r="0.7" fill="#9a9a9a"/>
<circle cx="1512.6" cy="101.6" r="0.7" fill="#9a9a9a"/>
<circle cx="1553.7" cy="123.7" r="0.7" fill="#9a9a9a"/>
<circle cx="1619.9" cy="181.1" r="0.7" fill="#9a9a9a"/>
<circle cx="1629.2" cy="201.0" r="0.7" fill="#9a9a9a"/>
<circle cx="1626.5" cy="203.7" r="0.7" fill="#9a9a9a"/>
<circle cx="1615.3" cy="230.8" r="0.7" fill="#9a9a9a"/>
<circle cx="1618.6" cy="243.4" r="0.7" fill="#9a9a9a"/>
<circle cx="1630.5" cy="240.8" r="0.7" fill="#9a9a9a"/>
<circle cx="1629.2" cy="247.4" r="0.7" fill="#9a9a9a"/>
<circle cx="1620.6" cy="300.3" r="0.7" fill="#9a9a9a"/>
<circle cx="1617.0" cy="312.5" r="0.7" fill="#9a9a9a"/>
<circle cx="1616.6" cy="338.5" r="0.7" fill="#9a9a9a"/>
<circle cx="1612.9" cy="370.2" r="0.7" fill="#9a9a9a"/>
<circle cx="1611.4" cy="387.6" r="0.7" fill="#9a9a9a"/>
<circle cx="1611.4" cy="392.4" r="0.7" fill="#9a9a9a"/>
</g>
<g clip-path="url(#clipE)">
<path class="iso" d="M1221.9 50.8 L1223.3 50.0 L1224.7 49.2 L1226.1 48.4 L1227.5 47.6 L1228.9 46.9 L1230.3 46.1 L1231.8 45.3 L1233.2 44.5 L1234.6 43.7 L1236.0 43.0 L1237.4 42.2 L1238.8 41.4 L1240.2 40.6 L1241.6 39.9 L1243.0 39.1 L1244.4 38.3 L1245.8 37.6 L1247.2 36.8 L1248.6 36.1 L1250.0 35.3 L1251.4 34.5 L1252.8 33.8 L1254.3 33.0 L1255.7 32.3 L1257.1 31.5 L1258.5 30.7 L1259.9 30.0 L1261.3 29.2 L1262.7 28.5 L1264.1 27.7 L1265.5 27.0 L1266.9 26.2 L1268.3 25.5 L1269.7 24.8 L1271.1 24.0 L1272.5 23.3 L1273.9 22.5 L1275.3 21.8 L1276.7 21.1 L1278.2 20.3 L1279.6 19.6 L1281.0 18.8 L1282.4 18.1 L1283.8 17.4 L1285.2 16.6 L1286.6 15.9 L1288.0 15.2 L1289.4 14.5 L1290.8 13.7 L1292.2 13.0 L1293.6 12.3 L1295.0 11.6 L1296.4 10.8 L1297.8 10.1 L1299.2 9.4 L1300.6 8.7 L1302.1 8.0 L1303.5 7.2 L1304.9 6.5 L1306.3 5.8 L1307.7 5.1 L1309.1 4.4 L1310.5 3.7 L1311.9 3.0 L1313.3 2.2 L1314.7 1.5 L1316.1 0.8 L1317.5 0.1 L1318.9 -0.6 L1320.3 -1.3 L1321.7 -2.0"/>
<path class="iso" d="M1221.9 151.6 L1223.3 150.6 L1224.7 149.6 L1226.1 148.6 L1227.5 147.6 L1228.9 146.6 L1230.3 145.6 L1231.8 144.6 L1233.2 143.6 L1234.6 142.6 L1236.0 141.6 L1237.4 140.6 L1238.8 139.6 L1240.2 138.6 L1241.6 137.6 L1243.0 136.7 L1244.4 135.7 L1245.8 134.7 L1247.2 133.7 L1248.6 132.8 L1250.0 131.8 L1251.4 130.9 L1252.8 129.9 L1254.3 128.9 L1255.7 128.0 L1257.1 127.0 L1258.5 126.1 L1259.9 125.2 L1261.3 124.2 L1262.7 123.3 L1264.1 122.3 L1265.5 121.4 L1266.9 120.5 L1268.3 119.5 L1269.7 118.6 L1271.1 117.7 L1272.5 116.8 L1273.9 115.9 L1275.3 114.9 L1276.7 114.0 L1278.2 113.1 L1279.6 112.2 L1281.0 111.3 L1282.4 110.4 L1283.8 109.5 L1285.2 108.6 L1286.6 107.7 L1288.0 106.8 L1289.4 105.9 L1290.8 105.0 L1292.2 104.1 L1293.6 103.3 L1295.0 102.4 L1296.4 101.5 L1297.8 100.6 L1299.2 99.7 L1300.6 98.9 L1302.1 98.0 L1303.5 97.1 L1304.9 96.2 L1306.3 95.4 L1307.7 94.5 L1309.1 93.7 L1310.5 92.8 L1311.9 91.9 L1313.3 91.1 L1314.7 90.2 L1316.1 89.4 L1317.5 88.5 L1318.9 87.7 L1320.3 86.8 L1321.7 86.0 L1323.1 85.1 L1324.6 84.3 L1326.0 83.4 L1327.4 82.6 L1328.8 81.8 L1330.2 80.9 L1331.6 80.1 L1333.0 79.3 L1334.4 78.4 L1335.8 77.6 L1337.2 76.8 L1338.6 76.0 L1340.0 75.1 L1341.4 74.3 L1342.8 73.5 L1344.2 72.7 L1345.6 71.9 L1347.0 71.0 L1348.5 70.2 L1349.9 69.4 L1351.3 68.6 L1352.7 67.8 L1354.1 67.0 L1355.5 66.2 L1356.9 65.4 L1358.3 64.6 L1359.7 63.8 L1361.1 63.0 L1362.5 62.2 L1363.9 61.4 L1365.3 60.6 L1366.7 59.8 L1368.1 59.0 L1369.5 58.2 L1370.9 57.4 L1372.4 56.6 L1373.8 55.9 L1375.2 55.1 L1376.6 54.3 L1378.0 53.5 L1379.4 52.7 L1380.8 51.9 L1382.2 51.2 L1383.6 50.4 L1385.0 49.6 L1386.4 48.8 L1387.8 48.1 L1389.2 47.3 L1390.6 46.5 L1392.0 45.8 L1393.4 45.0 L1394.9 44.2 L1396.3 43.5 L1397.7 42.7 L1399.1 41.9 L1400.5 41.2 L1401.9 40.4 L1403.3 39.7 L1404.7 38.9 L1406.1 38.1 L1407.5 37.4 L1408.9 36.6 L1410.3 35.9 L1411.7 35.1"/>
<path class="iso" d="M1221.9 301.7 L1223.3 299.6 L1224.7 297.6 L1226.1 295.6 L1227.5 293.6 L1228.9 291.6 L1230.3 289.7 L1231.8 287.8 L1233.2 285.9 L1234.6 284.1 L1236.0 282.2 L1237.4 280.4 L1238.8 278.6 L1240.2 276.9 L1241.6 275.1 L1243.0 273.4 L1244.4 271.7 L1245.8 270.0 L1247.2 268.3 L1248.6 266.7 L1250.0 265.1 L1251.4 263.4 L1252.8 261.8 L1254.3 260.2 L1255.7 258.7 L1257.1 257.1 L1258.5 255.6 L1259.9 254.0 L1261.3 252.5 L1262.7 251.0 L1264.1 249.5 L1265.5 248.0 L1266.9 246.5 L1268.3 245.1 L1269.7 243.6 L1271.1 242.2 L1272.5 240.7 L1273.9 239.3 L1275.3 237.9 L1276.7 236.5 L1278.2 235.1 L1279.6 233.7 L1281.0 232.4 L1282.4 231.0 L1283.8 229.6 L1285.2 228.3 L1286.6 227.0 L1288.0 225.6 L1289.4 224.3 L1290.8 223.0 L1292.2 221.7 L1293.6 220.4 L1295.0 219.1 L1296.4 217.8 L1297.8 216.5 L1299.2 215.3 L1300.6 214.0 L1302.1 212.8 L1303.5 211.5 L1304.9 210.3 L1306.3 209.0 L1307.7 207.8 L1309.1 206.6 L1310.5 205.4 L1311.9 204.2 L1313.3 203.0 L1314.7 201.8 L1316.1 200.6 L1317.5 199.4 L1318.9 198.2 L1320.3 197.0 L1321.7 195.9 L1323.1 194.7 L1324.6 193.5 L1326.0 192.4 L1327.4 191.2 L1328.8 190.1 L1330.2 188.9 L1331.6 187.8"/>
<path class="iso" d="M1361.1 165.0 L1362.5 164.0 L1363.9 162.9 L1365.3 161.9 L1366.7 160.9 L1368.1 159.8 L1369.5 158.8 L1370.9 157.8 L1372.4 156.8 L1373.8 155.8 L1375.2 154.7 L1376.6 153.7 L1378.0 152.7 L1379.4 151.7 L1380.8 150.7 L1382.2 149.7 L1383.6 148.7 L1385.0 147.8 L1386.4 146.8 L1387.8 145.8 L1389.2 144.8 L1390.6 143.8 L1392.0 142.9 L1393.4 141.9 L1394.9 140.9 L1396.3 140.0 L1397.7 139.0 L1399.1 138.0 L1400.5 137.1 L1401.9 136.1 L1403.3 135.2 L1404.7 134.2 L1406.1 133.3 L1407.5 132.3 L1408.9 131.4 L1410.3 130.5 L1411.7 129.5 L1413.1 128.6 L1414.5 127.7 L1415.9 126.7 L1417.3 125.8 L1418.8 124.9 L1420.2 124.0 L1421.6 123.1 L1423.0 122.1 L1424.4 121.2 L1425.8 120.3 L1427.2 119.4 L1428.6 118.5 L1430.0 117.6 L1431.4 116.7 L1432.8 115.8 L1434.2 114.9 L1435.6 114.0 L1437.0 113.1 L1438.4 112.2 L1439.8 111.3 L1441.2 110.5 L1442.7 109.6 L1444.1 108.7 L1445.5 107.8 L1446.9 106.9 L1448.3 106.1 L1449.7 105.2 L1451.1 104.3 L1452.5 103.4 L1453.9 102.6 L1455.3 101.7 L1456.7 100.8 L1458.1 100.0 L1459.5 99.1 L1460.9 98.3 L1462.3 97.4 L1463.7 96.6 L1465.2 95.7 L1466.6 94.9 L1468.0 94.0 L1469.4 93.2 L1470.8 92.3 L1472.2 91.5 L1473.6 90.6 L1475.0 89.8 L1476.4 89.0 L1477.8 88.1 L1479.2 87.3 L1480.6 86.5 L1482.0 85.6 L1483.4 84.8 L1484.8 84.0 L1486.2 83.1 L1487.6 82.3 L1489.1 81.5 L1490.5 80.7 L1491.9 79.9 L1493.3 79.0 L1494.7 78.2 L1496.1 77.4 L1497.5 76.6 L1498.9 75.8 L1500.3 75.0 L1501.7 74.2 L1503.1 73.4 L1504.5 72.6 L1505.9 71.8 L1507.3 71.0 L1508.7 70.2 L1510.1 69.4 L1511.5 68.6 L1513.0 67.8 L1514.4 67.0 L1515.8 66.2 L1517.2 65.4 L1518.6 64.6 L1520.0 63.8 L1521.4 63.0 L1522.8 62.2 L1524.2 61.4 L1525.6 60.7 L1527.0 59.9 L1528.4 59.1 L1529.8 58.3 L1531.2 57.6 L1532.6 56.8 L1534.0 56.0 L1535.5 55.2 L1536.9 54.5 L1538.3 53.7 L1539.7 52.9 L1541.1 52.1 L1542.5 51.4 L1543.9 50.6 L1545.3 49.9 L1546.7 49.1 L1548.1 48.3 L1549.5 47.6 L1550.9 46.8 L1552.3 46.1 L1553.7 45.3 L1555.1 44.5 L1556.5 43.8 L1557.9 43.0 L1559.4 42.3 L1560.8 41.5 L1562.2 40.8 L1563.6 40.0 L1565.0 39.3 L1566.4 38.5 L1567.8 37.8 L1569.2 37.1 L1570.6 36.3 L1572.0 35.6 L1573.4 34.8 L1574.8 34.1 L1576.2 33.4 L1577.6 32.6 L1579.0 31.9 L1580.4 31.2 L1581.8 30.4 L1583.3 29.7 L1584.7 29.0 L1586.1 28.2 L1587.5 27.5 L1588.9 26.8 L1590.3 26.0 L1591.7 25.3 L1593.1 24.6 L1594.5 23.9 L1595.9 23.2 L1597.3 22.4 L1598.7 21.7 L1600.1 21.0 L1601.5 20.3 L1602.9 19.6 L1604.3 18.8 L1605.8 18.1 L1607.2 17.4 L1608.6 16.7 L1610.0 16.0 L1611.4 15.3 L1612.8 14.6 L1614.2 13.9 L1615.6 13.2 L1617.0 12.4 L1618.4 11.7 L1619.8 11.0 L1621.2 10.3 L1622.6 9.6 L1624.0 8.9 L1625.4 8.2 L1626.8 7.5 L1628.2 6.8 L1629.7 6.1 L1631.1 5.4 L1632.5 4.7 L1633.9 4.0 L1635.3 3.3 L1636.7 2.7 L1638.1 2.0 L1639.5 1.3 L1640.9 0.6 L1642.3 -0.1 L1643.7 -0.8 L1645.1 -1.5 L1646.5 -2.2"/>
<path class="iso" d="M1328.8 407.0 L1330.2 397.1 L1331.6 389.9 L1333.0 383.9 L1334.4 378.7 L1335.8 374.0 L1337.2 369.6 L1338.6 365.6 L1340.0 361.9 L1341.4 358.3 L1342.8 354.9 L1344.2 351.6 L1345.6 348.5 L1347.0 345.5 L1348.5 342.6 L1349.9 339.8 L1351.3 337.1 L1352.7 334.4 L1354.1 331.9 L1355.5 329.4 L1356.9 326.9 L1358.3 324.5 L1359.7 322.2 L1361.1 319.9 L1362.5 317.6 L1363.9 315.4 L1365.3 313.3 L1366.7 311.1 L1368.1 309.1 L1369.5 307.0 L1370.9 305.0 L1372.4 303.0 L1373.8 301.0 L1375.2 299.1 L1376.6 297.2 L1378.0 295.3 L1379.4 293.4 L1380.8 291.6 L1382.2 289.8 L1383.6 288.0 L1385.0 286.2 L1386.4 284.5 L1387.8 282.7 L1389.2 281.0 L1390.6 279.3 L1392.0 277.6 L1393.4 276.0 L1394.9 274.3 L1396.3 272.7 L1397.7 271.1 L1399.1 269.5 L1400.5 267.9 L1401.9 266.3 L1403.3 264.8 L1404.7 263.2 L1406.1 261.7 L1407.5 260.2 L1408.9 258.7 L1410.3 257.2 L1411.7 255.7 L1413.1 254.3 L1414.5 252.8 L1415.9 251.4 L1417.3 249.9 L1418.8 248.5 L1420.2 247.1 L1421.6 245.7 L1423.0 244.3 L1424.4 242.9 L1425.8 241.5 L1427.2 240.1 L1428.6 238.8 L1430.0 237.4 L1431.4 236.1 L1432.8 234.7 L1434.2 233.4 L1435.6 232.1 L1437.0 230.8 L1438.4 229.5 L1439.8 228.2 L1441.2 226.9 L1442.7 225.6 L1444.1 224.4 L1445.5 223.1 L1446.9 221.8 L1448.3 220.6 L1449.7 219.3 L1451.1 218.1 L1452.5 216.9 L1453.9 215.6 L1455.3 214.4 L1456.7 213.2 L1458.1 212.0 L1459.5 210.8 L1460.9 209.6 L1462.3 208.4 L1463.7 207.2 L1465.2 206.0 L1466.6 204.8 L1468.0 203.7 L1469.4 202.5 L1470.8 201.4 L1472.2 200.2 L1473.6 199.0 L1475.0 197.9 L1476.4 196.8 L1477.8 195.6 L1479.2 194.5 L1480.6 193.4 L1482.0 192.3 L1483.4 191.1 L1484.8 190.0 L1486.2 188.9 L1487.6 187.8 L1489.1 186.7 L1490.5 185.6 L1491.9 184.5 L1493.3 183.5 L1494.7 182.4 L1496.1 181.3 L1497.5 180.2 L1498.9 179.2 L1500.3 178.1 L1501.7 177.0 L1503.1 176.0 L1504.5 174.9 L1505.9 173.9 L1507.3 172.8 L1508.7 171.8 L1510.1 170.7 L1511.5 169.7 L1513.0 168.7 L1514.4 167.6 L1515.8 166.6 L1517.2 165.6 L1518.6 164.6 L1520.0 163.6 L1521.4 162.6 L1522.8 161.5 L1524.2 160.5 L1525.6 159.5 L1527.0 158.5 L1528.4 157.5 L1529.8 156.6 L1531.2 155.6 L1532.6 154.6 L1534.0 153.6 L1535.5 152.6 L1536.9 151.6 L1538.3 150.7 L1539.7 149.7 L1541.1 148.7 L1542.5 147.8 L1543.9 146.8 L1545.3 145.8 L1546.7 144.9 L1548.1 143.9 L1549.5 143.0 L1550.9 142.0 L1552.3 141.1 L1553.7 140.1 L1555.1 139.2 L1556.5 138.3 L1557.9 137.3 L1559.4 136.4 L1560.8 135.5 L1562.2 134.5 L1563.6 133.6 L1565.0 132.7 L1566.4 131.8 L1567.8 130.8 L1569.2 129.9 L1570.6 129.0 L1572.0 128.1 L1573.4 127.2 L1574.8 126.3 L1576.2 125.4 L1577.6 124.5 L1579.0 123.6 L1580.4 122.7 L1581.8 121.8 L1583.3 120.9 L1584.7 120.0 L1586.1 119.1 L1587.5 118.2 L1588.9 117.3 L1590.3 116.4 L1591.7 115.6 L1593.1 114.7 L1594.5 113.8 L1595.9 112.9 L1597.3 112.1 L1598.7 111.2 L1600.1 110.3 L1601.5 109.5 L1602.9 108.6 L1604.3 107.7 L1605.8 106.9"/>
<path class="iso" d="M1473.6 412.5 L1475.0 403.9 L1476.4 397.2 L1477.8 391.5 L1479.2 386.4 L1480.6 381.9 L1482.0 377.7 L1483.4 373.7 L1484.8 370.0 L1486.2 366.5 L1487.6 363.1 L1489.1 359.9 L1490.5 356.9 L1491.9 353.9 L1493.3 351.0 L1494.7 348.2 L1496.1 345.5 L1497.5 342.9 L1498.9 340.3 L1500.3 337.9 L1501.7 335.4 L1503.1 333.0 L1504.5 330.7 L1505.9 328.4 L1507.3 326.2 L1508.7 324.0 L1510.1 321.8 L1511.5 319.7 L1513.0 317.6 L1514.4 315.6 L1515.8 313.5 L1517.2 311.6 L1518.6 309.6 L1520.0 307.7 L1521.4 305.8 L1522.8 303.9 L1524.2 302.0 L1525.6 300.2 L1527.0 298.4 L1528.4 296.6 L1529.8 294.8 L1531.2 293.1 L1532.6 291.3 L1534.0 289.6"/>
<path class="iso" d="M1560.8 260.0 L1562.2 258.5 L1563.6 257.1 L1565.0 255.7 L1566.4 254.3 L1567.8 252.9 L1569.2 251.5 L1570.6 250.1 L1572.0 248.7 L1573.4 247.4 L1574.8 246.0 L1576.2 244.7 L1577.6 243.3 L1579.0 242.0 L1580.4 240.7 L1581.8 239.4 L1583.3 238.1 L1584.7 236.8 L1586.1 235.5 L1587.5 234.2 L1588.9 232.9 L1590.3 231.7 L1591.7 230.4 L1593.1 229.1 L1594.5 227.9 L1595.9 226.6 L1597.3 225.4 L1598.7 224.2 L1600.1 223.0 L1601.5 221.7 L1602.9 220.5 L1604.3 219.3 L1605.8 218.1 L1607.2 216.9 L1608.6 215.7 L1610.0 214.6 L1611.4 213.4 L1612.8 212.2 L1614.2 211.0 L1615.6 209.9 L1617.0 208.7 L1618.4 207.6 L1619.8 206.4 L1621.2 205.3 L1622.6 204.1 L1624.0 203.0 L1625.4 201.9 L1626.8 200.8 L1628.2 199.6 L1629.7 198.5 L1631.1 197.4 L1632.5 196.3 L1633.9 195.2 L1635.3 194.1 L1636.7 193.0 L1638.1 191.9 L1639.5 190.9 L1640.9 189.8 L1642.3 188.7 L1643.7 187.6 L1645.1 186.6 L1646.5 185.5 L1647.9 184.4 L1649.3 183.4 L1650.7 182.3 L1652.1 181.3 L1653.6 180.2 L1655.0 179.2"/>
<path class="iso" d="M1618.4 414.7 L1619.8 407.8 L1621.2 401.9 L1622.6 396.8 L1624.0 392.2 L1625.4 387.9 L1626.8 383.9 L1628.2 380.1 L1629.7 376.6 L1631.1 373.2 L1632.5 370.0 L1633.9 366.9 L1635.3 363.9 L1636.7 361.0 L1638.1 358.2 L1639.5 355.4 L1640.9 352.8 L1642.3 350.2 L1643.7 347.7 L1645.1 345.3 L1646.5 342.9 L1647.9 340.5 L1649.3 338.2 L1650.7 336.0 L1652.1 333.8 L1653.6 331.6 L1655.0 329.5"/>
<text class="il" text-anchor="middle" transform="translate(1438.0 20.4) rotate(-30)" y="6.2">17.5</text>
<text class="il" text-anchor="middle" transform="translate(1347.5 176.7) rotate(-34)" y="6.2">20</text>
<text class="il" text-anchor="middle" transform="translate(1631.5 92.0) rotate(-30)" y="6.2">22.5</text>
<text class="il" text-anchor="middle" transform="translate(1548.1 272.1) rotate(-60)" y="6.2">25</text>
</g>
<text x="1240.6" y="56.5" font-weight="bold" font-style="italic" font-size="37" fill="#808080">σ<tspan font-size="22.5" dy="4.5" dx="-1.8">0</tspan></text>
<rect class="ax" x="1226.6" y="15.0" width="421.8" height="387.9"/>
<path class="ax" d="M1226.6 402.9 v6.5 M1273.5 402.9 v3.5 M1320.3 402.9 v6.5 M1367.2 402.9 v3.5 M1414.1 402.9 v6.5 M1460.9 402.9 v3.5 M1507.8 402.9 v6.5 M1554.7 402.9 v3.5 M1601.5 402.9 v6.5 M1648.4 402.9 v3.5 M1226.6 402.9 h-6.5 M1226.6 344.1 h-3.5 M1226.6 285.4 h-6.5 M1226.6 226.6 h-3.5 M1226.6 167.8 h-6.5 M1226.6 109.0 h-3.5 M1226.6 50.3 h-6.5 "/>
<text class="tk" text-anchor="middle" x="1225.1" y="427.4">26</text>
<text class="tk" text-anchor="middle" x="1318.8" y="427.4">28</text>
<text class="tk" text-anchor="middle" x="1412.6" y="427.4">30</text>
<text class="tk" text-anchor="middle" x="1506.3" y="427.4">32</text>
<text class="tk" text-anchor="middle" x="1600.0" y="427.4">34</text>
<text class="tk" text-anchor="end" x="1214.8" y="408.5">0</text>
<text class="tk" text-anchor="end" x="1213.5" y="290.0">10</text>
<text class="tk" text-anchor="end" x="1211.1" y="172.4">20</text>
<text class="tk" text-anchor="end" x="1210.8" y="54.9">30</text>
<path d="M1684.8999999999999 15.0 L1697.1999999999998 9.7 L1709.4999999999998 15.0 L1709.4999999999998 402.9 L1697.1999999999998 408.5 L1684.8999999999999 402.9 Z" fill="url(#cmE)" stroke="#444" stroke-width="0.6"/>
<text class="tk" x="1716.7" y="409.9">0</text>
<text class="tk" x="1716.7" y="345.2">0.005</text>
<text class="tk" x="1716.7" y="280.6">0.01</text>
<text class="tk" x="1716.7" y="215.9">0.015</text>
<text class="tk" x="1716.7" y="151.3">0.02</text>
<text class="tk" x="1716.7" y="86.6">0.025</text>
<text class="tk" x="1716.7" y="22.0">0.03</text>
<path d="M1684.8999999999999 338.2 h5 M1704.4999999999998 338.2 h5 M1684.8999999999999 273.6 h5 M1704.4999999999998 273.6 h5 M1684.8999999999999 208.9 h5 M1704.4999999999998 208.9 h5 M1684.8999999999999 144.3 h5 M1704.4999999999998 144.3 h5 M1684.8999999999999 79.6 h5 M1704.4999999999998 79.6 h5 " stroke="#222" stroke-width="1.2" fill="none"/>
<text class="odv" textLength="101.5" lengthAdjust="spacingAndGlyphs" transform="translate(1667.3 399.3) rotate(-90)">Ocean Data View</text>
</g>
<g id="panelF">
<clipPath id="clipF"><rect x="1226.6" y="446.9" width="421.8" height="387.9"/></clipPath>
<text class="let" x="1236.4" y="819.8">F</text>
<text class="ttl" x="1279.0" y="822.2">C4 (R.U.)</text>
<g clip-path="url(#clipF)">
<circle cx="1271.4" cy="495.2" r="5.2" fill="#e3141a"/>
<circle cx="1268.9" cy="495.2" r="5.2" fill="#e3141a"/>
<circle cx="1288.4" cy="485.7" r="5.2" fill="#f0800e"/>
<circle cx="1289.4" cy="490.2" r="5.2" fill="#ec5a10"/>
<circle cx="1297.4" cy="496.2" r="5.2" fill="#f0800e"/>
<circle cx="1333.9" cy="502.7" r="5.2" fill="#f5980c"/>
<circle cx="1360.4" cy="500.7" r="5.2" fill="#f5ec14"/>
<circle cx="1404.4" cy="503.2" r="5.2" fill="#a0cc30"/>
<circle cx="1415.4" cy="543.7" r="5.2" fill="#fbb80c"/>
<circle cx="1269.4" cy="545.2" r="5.2" fill="#861018"/>
<circle cx="1329.4" cy="552.2" r="5.2" fill="#a8131c"/>
<circle cx="1481.3" cy="487.5" r="5.2" fill="#45b4ea"/>
<circle cx="1480.9" cy="495.5" r="5.2" fill="#2d62bb"/>
<circle cx="1488.2" cy="500.8" r="5.2" fill="#3580d0"/>
<circle cx="1491.5" cy="503.0" r="5.2" fill="#f5ec14"/>
<circle cx="1504.1" cy="501.4" r="5.2" fill="#2545a5"/>
<circle cx="1505.4" cy="494.2" r="5.2" fill="#2545a5"/>
<circle cx="1524.0" cy="486.9" r="5.2" fill="#2545a5"/>
<circle cx="1531.2" cy="488.2" r="5.2" fill="#2545a5"/>
<circle cx="1463.0" cy="512.7" r="5.2" fill="#a0cc30"/>
<circle cx="1467.6" cy="520.7" r="5.2" fill="#80c460"/>
<circle cx="1478.2" cy="510.1" r="5.2" fill="#45b4ea"/>
<circle cx="1484.9" cy="514.0" r="5.2" fill="#45b4ea"/>
<circle cx="1505.4" cy="512.7" r="5.2" fill="#3580d0"/>
<circle cx="1506.1" cy="520.0" r="5.2" fill="#2d62bb"/>
<circle cx="1495.5" cy="518.7" r="5.2" fill="#45b4ea"/>
<circle cx="1494.1" cy="520.0" r="5.2" fill="#45b4ea"/>
<circle cx="1478.9" cy="523.3" r="5.2" fill="#45b4ea"/>
<circle cx="1483.5" cy="529.3" r="5.2" fill="#2d62bb"/>
<circle cx="1490.8" cy="525.3" r="5.2" fill="#2d62bb"/>
<circle cx="1500.1" cy="524.0" r="5.2" fill="#45b4ea"/>
<circle cx="1502.8" cy="527.9" r="5.2" fill="#80c490"/>
<circle cx="1472.9" cy="539.9" r="5.2" fill="#45b4ea"/>
<circle cx="1495.5" cy="538.5" r="5.2" fill="#2d62bb"/>
<circle cx="1476.3" cy="531.9" r="5.2" fill="#80c490"/>
<circle cx="1478.9" cy="537.2" r="5.2" fill="#80c490"/>
<circle cx="1490.2" cy="534.6" r="5.2" fill="#80c490"/>
<circle cx="1480.2" cy="545.2" r="5.2" fill="#f5ec14"/>
<circle cx="1488.2" cy="547.8" r="5.2" fill="#5cc0d0"/>
<circle cx="1462.1" cy="545.8" r="5.2" fill="#fbd00c"/>
<circle cx="1508.5" cy="541.9" r="5.2" fill="#80c490"/>
<circle cx="1528.9" cy="545.8" r="5.2" fill="#45b4ea"/>
<circle cx="1500.1" cy="553.8" r="5.2" fill="#5cc0d0"/>
<circle cx="1472.9" cy="559.1" r="5.2" fill="#f5ec14"/>
<circle cx="1475.6" cy="565.0" r="5.2" fill="#fbd00c"/>
<circle cx="1471.0" cy="563.7" r="5.2" fill="#45b4ea"/>
<circle cx="1478.2" cy="571.7" r="5.2" fill="#fbb80c"/>
<circle cx="1517.3" cy="558.4" r="5.2" fill="#3580d0"/>
<circle cx="1504.1" cy="565.7" r="5.2" fill="#c5d81e"/>
<circle cx="1522.0" cy="567.0" r="5.2" fill="#5cc0d0"/>
<circle cx="1519.3" cy="571.0" r="5.2" fill="#5cc0d0"/>
<circle cx="1514.7" cy="563.1" r="5.2" fill="#f5ec14"/>
<circle cx="1540.5" cy="572.3" r="5.2" fill="#45b4ea"/>
<circle cx="1628.0" cy="543.8" r="5.2" fill="#2545a5"/>
<circle cx="1444.5" cy="579.0" r="5.2" fill="#ec5a10"/>
<circle cx="1499.4" cy="579.6" r="5.2" fill="#f0800e"/>
<circle cx="1510.3" cy="579.9" r="5.2" fill="#a0cc30"/>
<circle cx="1526.6" cy="580.3" r="5.2" fill="#5cc0d0"/>
<circle cx="1525.9" cy="584.9" r="5.2" fill="#5cc0d0"/>
<circle cx="1518.0" cy="591.6" r="5.2" fill="#a0cc30"/>
<circle cx="1538.5" cy="596.2" r="5.2" fill="#80c460"/>
<circle cx="1494.1" cy="598.9" r="5.2" fill="#ec5a10"/>
<circle cx="1492.8" cy="602.2" r="5.2" fill="#3580d0"/>
<circle cx="1512.7" cy="605.5" r="5.2" fill="#a0cc30"/>
<circle cx="1510.7" cy="604.8" r="5.2" fill="#a0cc30"/>
<circle cx="1523.3" cy="601.1" r="5.2" fill="#a0cc30"/>
<circle cx="1527.9" cy="609.1" r="5.2" fill="#f5ec14"/>
<circle cx="1514.7" cy="618.1" r="5.2" fill="#c5d81e"/>
<circle cx="1497.5" cy="621.8" r="5.2" fill="#fbd00c"/>
<circle cx="1503.7" cy="628.9" r="5.2" fill="#fbd00c"/>
<circle cx="1527.9" cy="630.7" r="5.2" fill="#c5d81e"/>
<circle cx="1521.3" cy="632.9" r="5.2" fill="#a0cc30"/>
<circle cx="1510.0" cy="640.9" r="5.2" fill="#fbb80c"/>
<circle cx="1550.4" cy="605.5" r="5.2" fill="#a0cc30"/>
<circle cx="1560.4" cy="614.1" r="5.2" fill="#6cc3b0"/>
<circle cx="1556.7" cy="608.8" r="5.2" fill="#3580d0"/>
<circle cx="1566.3" cy="611.0" r="5.2" fill="#80c460"/>
<circle cx="1573.0" cy="588.7" r="5.2" fill="#5cc0d0"/>
<circle cx="1595.5" cy="592.2" r="5.2" fill="#5cc0d0"/>
<circle cx="1601.5" cy="592.2" r="5.2" fill="#5cc0d0"/>
<circle cx="1635.9" cy="588.9" r="5.2" fill="#2545a5"/>
<circle cx="1611.4" cy="621.4" r="5.2" fill="#2d62bb"/>
<circle cx="1608.7" cy="613.4" r="5.2" fill="#2d62bb"/>
<circle cx="1642.5" cy="615.4" r="5.2" fill="#2545a5"/>
<circle cx="1631.3" cy="619.7" r="5.2" fill="#3580d0"/>
<circle cx="1632.6" cy="618.7" r="5.2" fill="#f5ec14"/>
<circle cx="1602.1" cy="622.7" r="5.2" fill="#6cc3b0"/>
<circle cx="1608.7" cy="624.7" r="5.2" fill="#a0cc30"/>
<circle cx="1558.4" cy="626.0" r="5.2" fill="#6cc3b0"/>
<circle cx="1549.8" cy="628.0" r="5.2" fill="#c5d81e"/>
<circle cx="1566.7" cy="631.1" r="5.2" fill="#6cc3b0"/>
<circle cx="1576.9" cy="631.3" r="5.2" fill="#a0cc30"/>
<circle cx="1582.2" cy="637.9" r="5.2" fill="#5cc0d0"/>
<circle cx="1587.5" cy="632.0" r="5.2" fill="#80c490"/>
<circle cx="1604.1" cy="634.0" r="5.2" fill="#5cc0d0"/>
<circle cx="1617.6" cy="633.7" r="5.2" fill="#6cc3b0"/>
<circle cx="1595.5" cy="641.9" r="5.2" fill="#6cc3b0"/>
<circle cx="1600.8" cy="649.9" r="5.2" fill="#e3141a"/>
<circle cx="1605.4" cy="647.2" r="5.2" fill="#45b4ea"/>
<circle cx="1610.7" cy="645.9" r="5.2" fill="#45b4ea"/>
<circle cx="1606.1" cy="653.8" r="5.2" fill="#45b4ea"/>
<circle cx="1602.1" cy="660.5" r="5.2" fill="#5cc0d0"/>
<circle cx="1587.5" cy="655.8" r="5.2" fill="#80c490"/>
<circle cx="1562.4" cy="649.9" r="5.2" fill="#45b4ea"/>
<circle cx="1547.1" cy="652.3" r="5.2" fill="#a0cc30"/>
<circle cx="1563.7" cy="660.7" r="5.2" fill="#80c460"/>
<circle cx="1543.8" cy="663.8" r="5.2" fill="#c5d81e"/>
<circle cx="1549.8" cy="661.8" r="5.2" fill="#a0cc30"/>
<circle cx="1551.1" cy="669.1" r="5.2" fill="#f0800e"/>
<circle cx="1625.3" cy="650.5" r="5.2" fill="#45b4ea"/>
<circle cx="1635.9" cy="645.9" r="5.2" fill="#3580d0"/>
<circle cx="1636.6" cy="652.5" r="5.2" fill="#3580d0"/>
<circle cx="1633.9" cy="665.8" r="5.2" fill="#2d62bb"/>
<circle cx="1626.6" cy="664.4" r="5.2" fill="#45b4ea"/>
<circle cx="1628.0" cy="659.8" r="5.2" fill="#45b4ea"/>
<circle cx="1635.2" cy="661.8" r="5.2" fill="#5cc0d0"/>
<circle cx="1622.7" cy="653.8" r="5.2" fill="#45b4ea"/>
<circle cx="1531.2" cy="676.7" r="5.2" fill="#c5d81e"/>
<circle cx="1554.4" cy="680.3" r="5.2" fill="#a0cc30"/>
<circle cx="1542.9" cy="686.0" r="5.2" fill="#5cc0d0"/>
<circle cx="1580.9" cy="682.0" r="5.2" fill="#a0cc30"/>
<circle cx="1567.7" cy="688.7" r="5.2" fill="#a0cc30"/>
<circle cx="1558.8" cy="688.3" r="5.2" fill="#5cc0d0"/>
<circle cx="1548.7" cy="694.9" r="5.2" fill="#a0cc30"/>
<circle cx="1573.0" cy="695.5" r="5.2" fill="#45b4ea"/>
<circle cx="1575.6" cy="696.9" r="5.2" fill="#a0cc30"/>
<circle cx="1573.6" cy="702.4" r="5.2" fill="#2d62bb"/>
<circle cx="1568.6" cy="706.4" r="5.2" fill="#a0cc30"/>
<circle cx="1524.6" cy="699.5" r="5.2" fill="#f5ec14"/>
<circle cx="1533.9" cy="702.2" r="5.2" fill="#f5ec14"/>
<circle cx="1537.9" cy="706.8" r="5.2" fill="#f5ec14"/>
<circle cx="1537.6" cy="711.4" r="5.2" fill="#f5ec14"/>
<circle cx="1549.8" cy="702.8" r="5.2" fill="#a0cc30"/>
<circle cx="1554.4" cy="712.1" r="5.2" fill="#45b4ea"/>
<circle cx="1527.3" cy="714.8" r="5.2" fill="#f5ec14"/>
<circle cx="1529.3" cy="715.4" r="5.2" fill="#3580d0"/>
<circle cx="1541.6" cy="721.4" r="5.2" fill="#5cc0d0"/>
<circle cx="1529.9" cy="722.7" r="5.2" fill="#f5ec14"/>
<circle cx="1533.2" cy="722.7" r="5.2" fill="#45b4ea"/>
<circle cx="1534.3" cy="730.0" r="5.2" fill="#2d62bb"/>
<circle cx="1622.9" cy="700.8" r="5.2" fill="#2d62bb"/>
<circle cx="1625.3" cy="708.5" r="5.2" fill="#5cc0d0"/>
<circle cx="1613.4" cy="779.0" r="5.2" fill="#45b4ea"/>
<circle cx="1614.0" cy="783.7" r="5.2" fill="#a0cc30"/>
<circle cx="1446.3" cy="558.0" r="0.7" fill="#9a9a9a"/>
<circle cx="1512.6" cy="533.5" r="0.7" fill="#9a9a9a"/>
<circle cx="1553.7" cy="555.6" r="0.7" fill="#9a9a9a"/>
<circle cx="1619.9" cy="613.0" r="0.7" fill="#9a9a9a"/>
<circle cx="1629.2" cy="632.9" r="0.7" fill="#9a9a9a"/>
<circle cx="1626.5" cy="635.6" r="0.7" fill="#9a9a9a"/>
<circle cx="1615.3" cy="662.7" r="0.7" fill="#9a9a9a"/>
<circle cx="1618.6" cy="675.3" r="0.7" fill="#9a9a9a"/>
<circle cx="1630.5" cy="672.7" r="0.7" fill="#9a9a9a"/>
<circle cx="1629.2" cy="679.3" r="0.7" fill="#9a9a9a"/>
<circle cx="1620.6" cy="732.2" r="0.7" fill="#9a9a9a"/>
<circle cx="1617.0" cy="744.4" r="0.7" fill="#9a9a9a"/>
<circle cx="1616.6" cy="770.4" r="0.7" fill="#9a9a9a"/>
<circle cx="1612.9" cy="802.1" r="0.7" fill="#9a9a9a"/>
<circle cx="1611.4" cy="819.5" r="0.7" fill="#9a9a9a"/>
<circle cx="1611.4" cy="824.3" r="0.7" fill="#9a9a9a"/>
</g>
<g clip-path="url(#clipF)">
<path class="iso" d="M1221.9 482.7 L1223.3 481.9 L1224.7 481.1 L1226.1 480.3 L1227.5 479.5 L1228.9 478.8 L1230.3 478.0 L1231.8 477.2 L1233.2 476.4 L1234.6 475.6 L1236.0 474.9 L1237.4 474.1 L1238.8 473.3 L1240.2 472.5 L1241.6 471.8 L1243.0 471.0 L1244.4 470.2 L1245.8 469.5 L1247.2 468.7 L1248.6 468.0 L1250.0 467.2 L1251.4 466.4 L1252.8 465.7 L1254.3 464.9 L1255.7 464.2 L1257.1 463.4 L1258.5 462.6 L1259.9 461.9 L1261.3 461.1 L1262.7 460.4 L1264.1 459.6 L1265.5 458.9 L1266.9 458.1 L1268.3 457.4 L1269.7 456.7 L1271.1 455.9 L1272.5 455.2 L1273.9 454.4 L1275.3 453.7 L1276.7 453.0 L1278.2 452.2 L1279.6 451.5 L1281.0 450.7 L1282.4 450.0 L1283.8 449.3 L1285.2 448.5 L1286.6 447.8 L1288.0 447.1 L1289.4 446.4 L1290.8 445.6 L1292.2 444.9 L1293.6 444.2 L1295.0 443.5 L1296.4 442.7 L1297.8 442.0 L1299.2 441.3 L1300.6 440.6 L1302.1 439.9 L1303.5 439.1 L1304.9 438.4 L1306.3 437.7 L1307.7 437.0 L1309.1 436.3 L1310.5 435.6 L1311.9 434.9 L1313.3 434.1 L1314.7 433.4 L1316.1 432.7 L1317.5 432.0 L1318.9 431.3 L1320.3 430.6 L1321.7 429.9"/>
<path class="iso" d="M1221.9 583.5 L1223.3 582.5 L1224.7 581.5 L1226.1 580.5 L1227.5 579.5 L1228.9 578.5 L1230.3 577.5 L1231.8 576.5 L1233.2 575.5 L1234.6 574.5 L1236.0 573.5 L1237.4 572.5 L1238.8 571.5 L1240.2 570.5 L1241.6 569.5 L1243.0 568.6 L1244.4 567.6 L1245.8 566.6 L1247.2 565.6 L1248.6 564.7 L1250.0 563.7 L1251.4 562.8 L1252.8 561.8 L1254.3 560.8 L1255.7 559.9 L1257.1 558.9 L1258.5 558.0 L1259.9 557.1 L1261.3 556.1 L1262.7 555.2 L1264.1 554.2 L1265.5 553.3 L1266.9 552.4 L1268.3 551.4 L1269.7 550.5 L1271.1 549.6 L1272.5 548.7 L1273.9 547.8 L1275.3 546.8 L1276.7 545.9 L1278.2 545.0 L1279.6 544.1 L1281.0 543.2 L1282.4 542.3 L1283.8 541.4 L1285.2 540.5 L1286.6 539.6 L1288.0 538.7 L1289.4 537.8 L1290.8 536.9 L1292.2 536.0 L1293.6 535.2 L1295.0 534.3 L1296.4 533.4 L1297.8 532.5 L1299.2 531.6 L1300.6 530.8 L1302.1 529.9 L1303.5 529.0 L1304.9 528.1 L1306.3 527.3 L1307.7 526.4 L1309.1 525.6 L1310.5 524.7 L1311.9 523.8 L1313.3 523.0 L1314.7 522.1 L1316.1 521.3 L1317.5 520.4 L1318.9 519.6 L1320.3 518.7 L1321.7 517.9 L1323.1 517.0 L1324.6 516.2 L1326.0 515.3 L1327.4 514.5 L1328.8 513.7 L1330.2 512.8 L1331.6 512.0 L1333.0 511.2 L1334.4 510.3 L1335.8 509.5 L1337.2 508.7 L1338.6 507.9 L1340.0 507.0 L1341.4 506.2 L1342.8 505.4 L1344.2 504.6 L1345.6 503.8 L1347.0 502.9 L1348.5 502.1 L1349.9 501.3 L1351.3 500.5 L1352.7 499.7 L1354.1 498.9 L1355.5 498.1 L1356.9 497.3 L1358.3 496.5 L1359.7 495.7 L1361.1 494.9 L1362.5 494.1 L1363.9 493.3 L1365.3 492.5 L1366.7 491.7 L1368.1 490.9 L1369.5 490.1 L1370.9 489.3 L1372.4 488.5 L1373.8 487.8 L1375.2 487.0 L1376.6 486.2 L1378.0 485.4 L1379.4 484.6 L1380.8 483.8 L1382.2 483.1 L1383.6 482.3 L1385.0 481.5 L1386.4 480.7 L1387.8 480.0 L1389.2 479.2 L1390.6 478.4 L1392.0 477.7 L1393.4 476.9 L1394.9 476.1 L1396.3 475.4 L1397.7 474.6 L1399.1 473.8 L1400.5 473.1 L1401.9 472.3 L1403.3 471.6 L1404.7 470.8 L1406.1 470.0 L1407.5 469.3 L1408.9 468.5 L1410.3 467.8 L1411.7 467.0"/>
<path class="iso" d="M1221.9 733.6 L1223.3 731.5 L1224.7 729.5 L1226.1 727.5 L1227.5 725.5 L1228.9 723.5 L1230.3 721.6 L1231.8 719.7 L1233.2 717.8 L1234.6 716.0 L1236.0 714.1 L1237.4 712.3 L1238.8 710.5 L1240.2 708.8 L1241.6 707.0 L1243.0 705.3 L1244.4 703.6 L1245.8 701.9 L1247.2 700.2 L1248.6 698.6 L1250.0 697.0 L1251.4 695.3 L1252.8 693.7 L1254.3 692.1 L1255.7 690.6 L1257.1 689.0 L1258.5 687.5 L1259.9 685.9 L1261.3 684.4 L1262.7 682.9 L1264.1 681.4 L1265.5 679.9 L1266.9 678.4 L1268.3 677.0 L1269.7 675.5 L1271.1 674.1 L1272.5 672.6 L1273.9 671.2 L1275.3 669.8 L1276.7 668.4 L1278.2 667.0 L1279.6 665.6 L1281.0 664.3 L1282.4 662.9 L1283.8 661.5 L1285.2 660.2 L1286.6 658.9 L1288.0 657.5 L1289.4 656.2 L1290.8 654.9 L1292.2 653.6 L1293.6 652.3 L1295.0 651.0 L1296.4 649.7 L1297.8 648.4 L1299.2 647.2 L1300.6 645.9 L1302.1 644.7 L1303.5 643.4 L1304.9 642.2 L1306.3 640.9 L1307.7 639.7 L1309.1 638.5 L1310.5 637.3 L1311.9 636.1 L1313.3 634.9 L1314.7 633.7 L1316.1 632.5 L1317.5 631.3 L1318.9 630.1 L1320.3 628.9 L1321.7 627.8 L1323.1 626.6 L1324.6 625.4 L1326.0 624.3 L1327.4 623.1 L1328.8 622.0 L1330.2 620.8 L1331.6 619.7"/>
<path class="iso" d="M1361.1 596.9 L1362.5 595.9 L1363.9 594.8 L1365.3 593.8 L1366.7 592.8 L1368.1 591.7 L1369.5 590.7 L1370.9 589.7 L1372.4 588.7 L1373.8 587.7 L1375.2 586.6 L1376.6 585.6 L1378.0 584.6 L1379.4 583.6 L1380.8 582.6 L1382.2 581.6 L1383.6 580.6 L1385.0 579.7 L1386.4 578.7 L1387.8 577.7 L1389.2 576.7 L1390.6 575.7 L1392.0 574.8 L1393.4 573.8 L1394.9 572.8 L1396.3 571.9 L1397.7 570.9 L1399.1 569.9 L1400.5 569.0 L1401.9 568.0 L1403.3 567.1 L1404.7 566.1 L1406.1 565.2 L1407.5 564.2 L1408.9 563.3 L1410.3 562.4 L1411.7 561.4 L1413.1 560.5 L1414.5 559.6 L1415.9 558.6 L1417.3 557.7 L1418.8 556.8 L1420.2 555.9 L1421.6 555.0 L1423.0 554.0 L1424.4 553.1 L1425.8 552.2 L1427.2 551.3 L1428.6 550.4 L1430.0 549.5 L1431.4 548.6 L1432.8 547.7 L1434.2 546.8 L1435.6 545.9 L1437.0 545.0 L1438.4 544.1 L1439.8 543.2 L1441.2 542.4 L1442.7 541.5 L1444.1 540.6 L1445.5 539.7 L1446.9 538.8 L1448.3 538.0 L1449.7 537.1 L1451.1 536.2 L1452.5 535.3 L1453.9 534.5 L1455.3 533.6 L1456.7 532.7 L1458.1 531.9 L1459.5 531.0 L1460.9 530.2 L1462.3 529.3 L1463.7 528.5 L1465.2 527.6 L1466.6 526.8 L1468.0 525.9 L1469.4 525.1 L1470.8 524.2 L1472.2 523.4 L1473.6 522.5 L1475.0 521.7 L1476.4 520.9 L1477.8 520.0 L1479.2 519.2 L1480.6 518.4 L1482.0 517.5 L1483.4 516.7 L1484.8 515.9 L1486.2 515.0 L1487.6 514.2 L1489.1 513.4 L1490.5 512.6 L1491.9 511.8 L1493.3 510.9 L1494.7 510.1 L1496.1 509.3 L1497.5 508.5 L1498.9 507.7 L1500.3 506.9 L1501.7 506.1 L1503.1 505.3 L1504.5 504.5 L1505.9 503.7 L1507.3 502.9 L1508.7 502.1 L1510.1 501.3 L1511.5 500.5 L1513.0 499.7 L1514.4 498.9 L1515.8 498.1 L1517.2 497.3 L1518.6 496.5 L1520.0 495.7 L1521.4 494.9 L1522.8 494.1 L1524.2 493.3 L1525.6 492.6 L1527.0 491.8 L1528.4 491.0 L1529.8 490.2 L1531.2 489.5 L1532.6 488.7 L1534.0 487.9 L1535.5 487.1 L1536.9 486.4 L1538.3 485.6 L1539.7 484.8 L1541.1 484.0 L1542.5 483.3 L1543.9 482.5 L1545.3 481.8 L1546.7 481.0 L1548.1 480.2 L1549.5 479.5 L1550.9 478.7 L1552.3 478.0 L1553.7 477.2 L1555.1 476.4 L1556.5 475.7 L1557.9 474.9 L1559.4 474.2 L1560.8 473.4 L1562.2 472.7 L1563.6 471.9 L1565.0 471.2 L1566.4 470.4 L1567.8 469.7 L1569.2 469.0 L1570.6 468.2 L1572.0 467.5 L1573.4 466.7 L1574.8 466.0 L1576.2 465.3 L1577.6 464.5 L1579.0 463.8 L1580.4 463.1 L1581.8 462.3 L1583.3 461.6 L1584.7 460.9 L1586.1 460.1 L1587.5 459.4 L1588.9 458.7 L1590.3 457.9 L1591.7 457.2 L1593.1 456.5 L1594.5 455.8 L1595.9 455.1 L1597.3 454.3 L1598.7 453.6 L1600.1 452.9 L1601.5 452.2 L1602.9 451.5 L1604.3 450.7 L1605.8 450.0 L1607.2 449.3 L1608.6 448.6 L1610.0 447.9 L1611.4 447.2 L1612.8 446.5 L1614.2 445.8 L1615.6 445.1 L1617.0 444.3 L1618.4 443.6 L1619.8 442.9 L1621.2 442.2 L1622.6 441.5 L1624.0 440.8 L1625.4 440.1 L1626.8 439.4 L1628.2 438.7 L1629.7 438.0 L1631.1 437.3 L1632.5 436.6 L1633.9 435.9 L1635.3 435.2 L1636.7 434.6 L1638.1 433.9 L1639.5 433.2 L1640.9 432.5 L1642.3 431.8 L1643.7 431.1 L1645.1 430.4 L1646.5 429.7"/>
<path class="iso" d="M1328.8 838.9 L1330.2 829.0 L1331.6 821.8 L1333.0 815.8 L1334.4 810.6 L1335.8 805.9 L1337.2 801.5 L1338.6 797.5 L1340.0 793.8 L1341.4 790.2 L1342.8 786.8 L1344.2 783.5 L1345.6 780.4 L1347.0 777.4 L1348.5 774.5 L1349.9 771.7 L1351.3 769.0 L1352.7 766.3 L1354.1 763.8 L1355.5 761.3 L1356.9 758.8 L1358.3 756.4 L1359.7 754.1 L1361.1 751.8 L1362.5 749.5 L1363.9 747.3 L1365.3 745.2 L1366.7 743.0 L1368.1 741.0 L1369.5 738.9 L1370.9 736.9 L1372.4 734.9 L1373.8 732.9 L1375.2 731.0 L1376.6 729.1 L1378.0 727.2 L1379.4 725.3 L1380.8 723.5 L1382.2 721.7 L1383.6 719.9 L1385.0 718.1 L1386.4 716.4 L1387.8 714.6 L1389.2 712.9 L1390.6 711.2 L1392.0 709.5 L1393.4 707.9 L1394.9 706.2 L1396.3 704.6 L1397.7 703.0 L1399.1 701.4 L1400.5 699.8 L1401.9 698.2 L1403.3 696.7 L1404.7 695.1 L1406.1 693.6 L1407.5 692.1 L1408.9 690.6 L1410.3 689.1 L1411.7 687.6 L1413.1 686.2 L1414.5 684.7 L1415.9 683.3 L1417.3 681.8 L1418.8 680.4 L1420.2 679.0 L1421.6 677.6 L1423.0 676.2 L1424.4 674.8 L1425.8 673.4 L1427.2 672.0 L1428.6 670.7 L1430.0 669.3 L1431.4 668.0 L1432.8 666.6 L1434.2 665.3 L1435.6 664.0 L1437.0 662.7 L1438.4 661.4 L1439.8 660.1 L1441.2 658.8 L1442.7 657.5 L1444.1 656.3 L1445.5 655.0 L1446.9 653.7 L1448.3 652.5 L1449.7 651.2 L1451.1 650.0 L1452.5 648.8 L1453.9 647.5 L1455.3 646.3 L1456.7 645.1 L1458.1 643.9 L1459.5 642.7 L1460.9 641.5 L1462.3 640.3 L1463.7 639.1 L1465.2 637.9 L1466.6 636.7 L1468.0 635.6 L1469.4 634.4 L1470.8 633.3 L1472.2 632.1 L1473.6 630.9 L1475.0 629.8 L1476.4 628.7 L1477.8 627.5 L1479.2 626.4 L1480.6 625.3 L1482.0 624.2 L1483.4 623.0 L1484.8 621.9 L1486.2 620.8 L1487.6 619.7 L1489.1 618.6 L1490.5 617.5 L1491.9 616.4 L1493.3 615.4 L1494.7 614.3 L1496.1 613.2 L1497.5 612.1 L1498.9 611.1 L1500.3 610.0 L1501.7 608.9 L1503.1 607.9 L1504.5 606.8 L1505.9 605.8 L1507.3 604.7 L1508.7 603.7 L1510.1 602.6 L1511.5 601.6 L1513.0 600.6 L1514.4 599.5 L1515.8 598.5 L1517.2 597.5 L1518.6 596.5 L1520.0 595.5 L1521.4 594.5 L1522.8 593.4 L1524.2 592.4 L1525.6 591.4 L1527.0 590.4 L1528.4 589.4 L1529.8 588.5 L1531.2 587.5 L1532.6 586.5 L1534.0 585.5 L1535.5 584.5 L1536.9 583.5 L1538.3 582.6 L1539.7 581.6 L1541.1 580.6 L1542.5 579.7 L1543.9 578.7 L1545.3 577.7 L1546.7 576.8 L1548.1 575.8 L1549.5 574.9 L1550.9 573.9 L1552.3 573.0 L1553.7 572.0 L1555.1 571.1 L1556.5 570.2 L1557.9 569.2 L1559.4 568.3 L1560.8 567.4 L1562.2 566.4 L1563.6 565.5 L1565.0 564.6 L1566.4 563.7 L1567.8 562.7 L1569.2 561.8 L1570.6 560.9 L1572.0 560.0 L1573.4 559.1 L1574.8 558.2 L1576.2 557.3 L1577.6 556.4 L1579.0 555.5 L1580.4 554.6 L1581.8 553.7 L1583.3 552.8 L1584.7 551.9 L1586.1 551.0 L1587.5 550.1 L1588.9 549.2 L1590.3 548.3 L1591.7 547.5 L1593.1 546.6 L1594.5 545.7 L1595.9 544.8 L1597.3 544.0 L1598.7 543.1 L1600.1 542.2 L1601.5 541.4 L1602.9 540.5 L1604.3 539.6 L1605.8 538.8"/>
<path class="iso" d="M1473.6 844.4 L1475.0 835.8 L1476.4 829.1 L1477.8 823.4 L1479.2 818.3 L1480.6 813.8 L1482.0 809.6 L1483.4 805.6 L1484.8 801.9 L1486.2 798.4 L1487.6 795.0 L1489.1 791.8 L1490.5 788.8 L1491.9 785.8 L1493.3 782.9 L1494.7 780.1 L1496.1 777.4 L1497.5 774.8 L1498.9 772.2 L1500.3 769.8 L1501.7 767.3 L1503.1 764.9 L1504.5 762.6 L1505.9 760.3 L1507.3 758.1 L1508.7 755.9 L1510.1 753.7 L1511.5 751.6 L1513.0 749.5 L1514.4 747.5 L1515.8 745.4 L1517.2 743.5 L1518.6 741.5 L1520.0 739.6 L1521.4 737.7 L1522.8 735.8 L1524.2 733.9 L1525.6 732.1 L1527.0 730.3 L1528.4 728.5 L1529.8 726.7 L1531.2 725.0 L1532.6 723.2 L1534.0 721.5"/>
<path class="iso" d="M1560.8 691.9 L1562.2 690.4 L1563.6 689.0 L1565.0 687.6 L1566.4 686.2 L1567.8 684.8 L1569.2 683.4 L1570.6 682.0 L1572.0 680.6 L1573.4 679.3 L1574.8 677.9 L1576.2 676.6 L1577.6 675.2 L1579.0 673.9 L1580.4 672.6 L1581.8 671.3 L1583.3 670.0 L1584.7 668.7 L1586.1 667.4 L1587.5 666.1 L1588.9 664.8 L1590.3 663.6 L1591.7 662.3 L1593.1 661.0 L1594.5 659.8 L1595.9 658.5 L1597.3 657.3 L1598.7 656.1 L1600.1 654.9 L1601.5 653.6 L1602.9 652.4 L1604.3 651.2 L1605.8 650.0 L1607.2 648.8 L1608.6 647.6 L1610.0 646.5 L1611.4 645.3 L1612.8 644.1 L1614.2 642.9 L1615.6 641.8 L1617.0 640.6 L1618.4 639.5 L1619.8 638.3 L1621.2 637.2 L1622.6 636.0 L1624.0 634.9 L1625.4 633.8 L1626.8 632.7 L1628.2 631.5 L1629.7 630.4 L1631.1 629.3 L1632.5 628.2 L1633.9 627.1 L1635.3 626.0 L1636.7 624.9 L1638.1 623.8 L1639.5 622.8 L1640.9 621.7 L1642.3 620.6 L1643.7 619.5 L1645.1 618.5 L1646.5 617.4 L1647.9 616.3 L1649.3 615.3 L1650.7 614.2 L1652.1 613.2 L1653.6 612.1 L1655.0 611.1"/>
<path class="iso" d="M1618.4 846.6 L1619.8 839.7 L1621.2 833.8 L1622.6 828.7 L1624.0 824.1 L1625.4 819.8 L1626.8 815.8 L1628.2 812.0 L1629.7 808.5 L1631.1 805.1 L1632.5 801.9 L1633.9 798.8 L1635.3 795.8 L1636.7 792.9 L1638.1 790.1 L1639.5 787.3 L1640.9 784.7 L1642.3 782.1 L1643.7 779.6 L1645.1 777.2 L1646.5 774.8 L1647.9 772.4 L1649.3 770.1 L1650.7 767.9 L1652.1 765.7 L1653.6 763.5 L1655.0 761.4"/>
<text class="il" text-anchor="middle" transform="translate(1438.0 452.3) rotate(-30)" y="6.2">17.5</text>
<text class="il" text-anchor="middle" transform="translate(1347.5 608.6) rotate(-34)" y="6.2">20</text>
<text class="il" text-anchor="middle" transform="translate(1631.5 523.9) rotate(-30)" y="6.2">22.5</text>
<text class="il" text-anchor="middle" transform="translate(1548.1 704.0) rotate(-60)" y="6.2">25</text>
</g>
<text x="1240.6" y="488.4" font-weight="bold" font-style="italic" font-size="37" fill="#808080">σ<tspan font-size="22.5" dy="4.5" dx="-1.8">0</tspan></text>
<rect class="ax" x="1226.6" y="446.9" width="421.8" height="387.9"/>
<path class="ax" d="M1226.6 834.8 v6.5 M1273.5 834.8 v3.5 M1320.3 834.8 v6.5 M1367.2 834.8 v3.5 M1414.1 834.8 v6.5 M1460.9 834.8 v3.5 M1507.8 834.8 v6.5 M1554.7 834.8 v3.5 M1601.5 834.8 v6.5 M1648.4 834.8 v3.5 M1226.6 834.8 h-6.5 M1226.6 776.0 h-3.5 M1226.6 717.3 h-6.5 M1226.6 658.5 h-3.5 M1226.6 599.7 h-6.5 M1226.6 540.9 h-3.5 M1226.6 482.2 h-6.5 "/>
<text class="tk" text-anchor="middle" x="1225.1" y="859.3">26</text>
<text class="tk" text-anchor="middle" x="1318.8" y="859.3">28</text>
<text class="tk" text-anchor="middle" x="1412.6" y="859.3">30</text>
<text class="tk" text-anchor="middle" x="1506.3" y="859.3">32</text>
<text class="tk" text-anchor="middle" x="1600.0" y="859.3">34</text>
<text class="tk" text-anchor="end" x="1214.8" y="840.4">0</text>
<text class="tk" text-anchor="end" x="1213.5" y="721.9">10</text>
<text class="tk" text-anchor="end" x="1211.1" y="604.3">20</text>
<text class="tk" text-anchor="end" x="1210.8" y="486.8">30</text>
<path d="M1684.8999999999999 446.9 L1697.1999999999998 441.59999999999997 L1709.4999999999998 446.9 L1709.4999999999998 834.8 L1697.1999999999998 840.4 L1684.8999999999999 834.8 Z" fill="url(#cmF)" stroke="#444" stroke-width="0.6"/>
<text class="tk" x="1716.7" y="841.8">0</text>
<text class="tk" x="1716.7" y="764.2">0.01</text>
<text class="tk" x="1716.7" y="686.6">0.02</text>
<text class="tk" x="1716.7" y="609.1">0.03</text>
<text class="tk" x="1716.7" y="531.5">0.04</text>
<text class="tk" x="1716.7" y="453.9">0.05</text>
<path d="M1684.8999999999999 757.2 h5 M1704.4999999999998 757.2 h5 M1684.8999999999999 679.6 h5 M1704.4999999999998 679.6 h5 M1684.8999999999999 602.1 h5 M1704.4999999999998 602.1 h5 M1684.8999999999999 524.5 h5 M1704.4999999999998 524.5 h5 " stroke="#222" stroke-width="1.2" fill="none"/>
<text class="odv" textLength="101.5" lengthAdjust="spacingAndGlyphs" transform="translate(1667.3 831.2) rotate(-90)">Ocean Data View</text>
</g>
<text class="axl" font-size="34.6" transform="translate(29.4 365.7) rotate(-90)">Temperature (°C)</text>
<text class="axl" font-size="34.6" transform="translate(29.4 796.6) rotate(-90)">Temperature (°C)</text>
<text class="axl" font-size="32.3" x="245.2" y="896.3">Salinity</text>
<text class="axl" font-size="32.3" x="809.5" y="896.3">Salinity</text>
<text class="axl" font-size="32.3" x="1383.4" y="896.3">Salinity</text>
</svg>
</body></html>
